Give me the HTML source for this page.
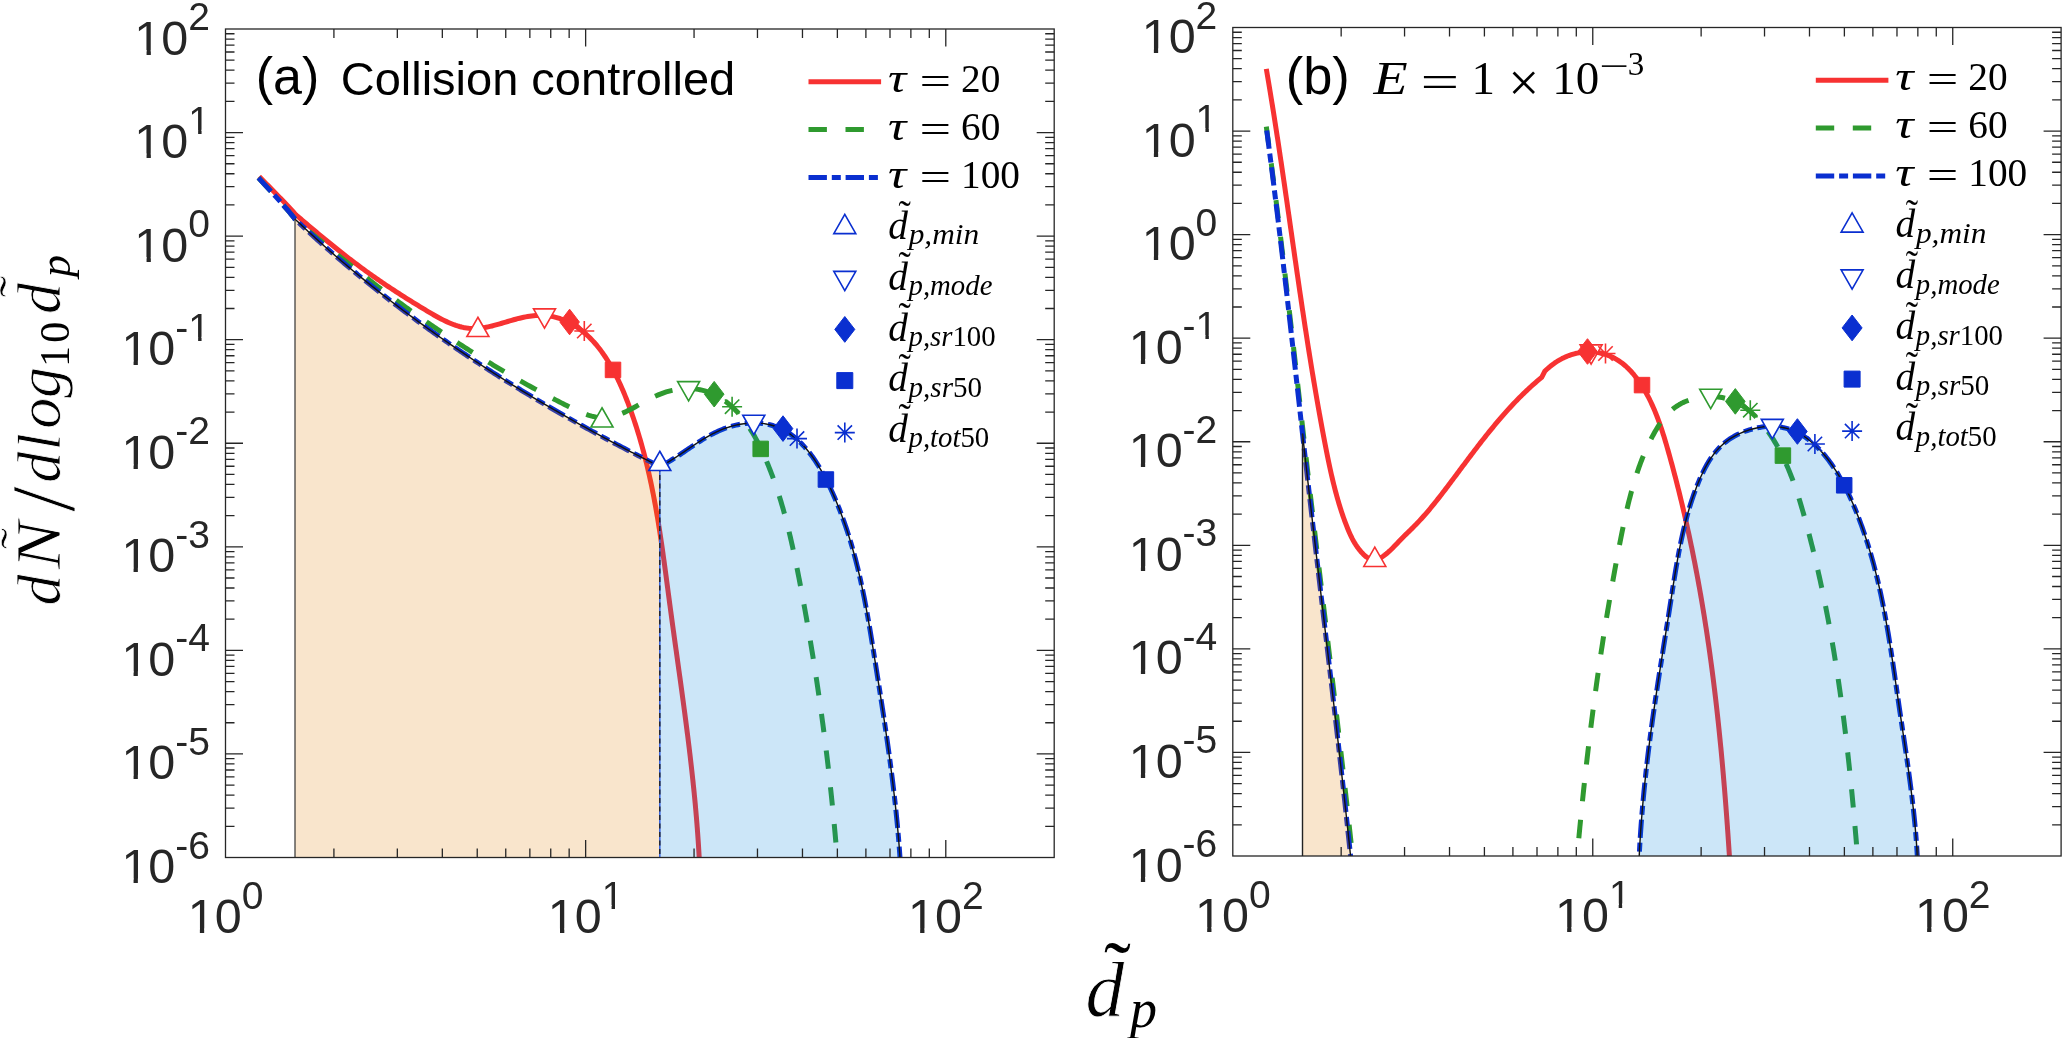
<!DOCTYPE html><html><head><meta charset="utf-8"><title>Particle size distribution</title><style>html,body{margin:0;padding:0;background:#fff;overflow:hidden}svg{display:block;will-change:transform}</style></head><body>
<svg width="2067" height="1038" viewBox="0 0 2067 1038">
<rect width="2067" height="1038" fill="#fff"/>
<defs><clipPath id="ca"><rect x="225.5" y="29" width="828.7" height="828.5"/></clipPath><clipPath id="cb"><rect x="1232.8" y="27.5" width="828.3" height="828.5"/></clipPath></defs>
<g clip-path="url(#ca)">
<path d="M259.2,176.6 L260.64,178.06 L262.09,179.52 L263.53,180.98 L264.98,182.44 L266.42,183.91 L267.87,185.37 L269.31,186.83 L270.75,188.29 L272.19,189.76 L273.62,191.23 L275.06,192.7 L276.49,194.17 L277.92,195.64 L279.35,197.12 L280.77,198.59 L282.2,200.07 L283.62,201.56 L285.03,203.05 L286.44,204.54 L287.85,206.03 L289.25,207.53 L290.65,209.04 L292.05,210.55 L293.44,212.06 L294.82,213.58 L296.2,215.1 L297.74,216.41 L299.28,217.72 L300.83,219.03 L302.37,220.33 L303.91,221.64 L305.46,222.94 L307,224.24 L308.54,225.54 L310.08,226.84 L311.63,228.14 L313.17,229.43 L314.71,230.72 L316.26,232.01 L317.8,233.3 L319.35,234.58 L320.89,235.86 L322.44,237.14 L323.99,238.42 L325.54,239.69 L327.09,240.96 L328.64,242.23 L330.19,243.49 L331.74,244.75 L333.3,246.01 L334.85,247.26 L336.41,248.51 L337.97,249.75 L339.53,250.99 L341.09,252.23 L342.65,253.47 L344.22,254.69 L345.79,255.92 L347.36,257.14 L348.93,258.36 L350.5,259.57 L352.08,260.77 L353.66,261.98 L355.24,263.17 L356.83,264.37 L358.41,265.55 L360,266.73 L361.6,267.91 L363.19,269.08 L364.79,270.25 L366.39,271.41 L367.99,272.56 L369.6,273.71 L371.21,274.85 L372.83,275.99 L374.45,277.13 L376.07,278.26 L377.69,279.39 L379.32,280.51 L380.95,281.63 L382.59,282.74 L384.23,283.86 L385.88,284.96 L387.52,286.07 L389.18,287.17 L390.83,288.26 L392.5,289.36 L394.16,290.45 L395.83,291.54 L397.51,292.62 L399.19,293.7 L400.87,294.78 L402.56,295.86 L404.26,296.94 L405.96,298.01 L407.66,299.08 L409.37,300.15 L411.08,301.22 L412.8,302.29 L414.53,303.35 L416.26,304.42 L418,305.48 L419.74,306.54 L421.49,307.61 L423.24,308.67 L425,309.73 L426.77,310.79 L428.54,311.84 L430.32,312.9 L432.11,313.94 L433.9,314.97 L435.69,315.99 L437.49,316.99 L439.3,317.98 L441.11,318.93 L442.93,319.86 L444.76,320.76 L446.59,321.63 L448.42,322.46 L450.26,323.25 L452.11,324 L453.96,324.71 L455.82,325.36 L457.68,325.96 L459.54,326.51 L461.42,327 L463.29,327.43 L465.17,327.79 L467.06,328.09 L468.95,328.31 L470.85,328.46 L472.75,328.54 L474.65,328.54 L476.56,328.47 L478.48,328.34 L480.4,328.14 L482.32,327.89 L484.25,327.59 L486.18,327.24 L488.12,326.85 L490.06,326.42 L492.01,325.95 L493.96,325.45 L495.91,324.93 L497.87,324.39 L499.83,323.82 L501.79,323.25 L503.76,322.66 L505.74,322.08 L507.71,321.49 L509.69,320.91 L511.68,320.33 L513.67,319.77 L515.66,319.23 L517.65,318.7 L519.65,318.21 L521.65,317.74 L523.65,317.3 L525.65,316.9 L527.64,316.53 L529.64,316.21 L531.62,315.93 L533.61,315.7 L535.59,315.51 L537.56,315.39 L539.52,315.32 L541.48,315.31 L543.42,315.36 L545.36,315.48 L547.28,315.67 L549.19,315.93 L551.08,316.25 L552.96,316.63 L554.82,317.07 L556.67,317.57 L558.49,318.13 L560.3,318.74 L562.09,319.39 L563.85,320.1 L565.59,320.86 L567.31,321.66 L569.01,322.5 L570.67,323.38 L572.32,324.3 L573.93,325.26 L575.53,326.25 L577.09,327.29 L578.64,328.36 L580.16,329.46 L581.65,330.6 L583.13,331.77 L584.57,332.98 L586,334.22 L587.4,335.49 L588.78,336.8 L590.14,338.13 L591.48,339.49 L592.8,340.88 L594.09,342.3 L595.37,343.75 L596.62,345.22 L597.85,346.72 L599.07,348.25 L600.26,349.8 L601.43,351.37 L602.59,352.97 L603.72,354.59 L604.84,356.23 L605.94,357.89 L607.02,359.57 L608.09,361.27 L609.13,362.99 L610.16,364.73 L611.18,366.49 L612.17,368.26 L613.15,370.05 L614.12,371.85 L615.07,373.67 L616,375.5 L616.92,377.34 L617.82,379.2 L618.71,381.07 L619.59,382.95 L620.45,384.84 L621.3,386.73 L622.13,388.64 L622.96,390.55 L623.77,392.48 L624.56,394.4 L625.35,396.34 L626.12,398.28 L626.88,400.22 L627.64,402.17 L628.38,404.12 L629.1,406.07 L629.82,408.02 L630.53,409.97 L631.23,411.93 L631.92,413.88 L632.6,415.83 L633.27,417.79 L633.94,419.74 L634.59,421.7 L635.23,423.65 L635.87,425.6 L636.49,427.56 L637.11,429.51 L637.72,431.47 L638.32,433.43 L638.91,435.38 L639.49,437.34 L640.06,439.29 L640.63,441.25 L641.19,443.21 L641.74,445.16 L642.28,447.12 L642.81,449.08 L643.34,451.03 L643.86,452.99 L644.37,454.95 L644.88,456.9 L645.38,458.86 L645.87,460.82 L646.35,462.78 L646.83,464.74 L647.3,466.7 L647.76,468.65 L648.22,470.61 L648.67,472.57 L649.11,474.53 L649.55,476.49 L649.98,478.45 L650.41,480.41 L650.83,482.37 L651.24,484.33 L651.65,486.29 L652.05,488.25 L652.45,490.21 L652.84,492.17 L653.23,494.13 L653.61,496.1 L653.99,498.06 L654.36,500.02 L654.72,501.98 L655.09,503.94 L655.44,505.91 L655.8,507.87 L656.14,509.83 L656.49,511.8 L656.83,513.76 L657.16,515.72 L657.5,517.69 L657.82,519.65 L658.15,521.61 L658.47,523.58 L658.79,525.54 L659.1,527.51 L659.41,529.47 L659.72,531.44 L660.02,533.4 L660.32,535.37 L660.62,537.33 L660.92,539.3 L661.21,541.27 L661.5,543.23 L661.79,545.2 L662.07,547.17 L662.36,549.13 L662.64,551.1 L662.92,553.07 L663.19,555.03 L663.47,557 L663.74,558.97 L664.01,560.94 L664.28,562.91 L664.55,564.88 L664.82,566.85 L665.09,568.81 L665.35,570.78 L665.62,572.75 L665.88,574.72 L666.14,576.69 L666.4,578.66 L666.67,580.63 L666.93,582.6 L667.19,584.58 L667.45,586.55 L667.71,588.52 L667.97,590.49 L668.23,592.46 L668.49,594.43 L668.75,596.41 L669.01,598.38 L669.28,600.35 L669.54,602.32 L669.8,604.3 L670.07,606.27 L670.33,608.24 L670.6,610.22 L670.86,612.19 L671.13,614.17 L671.4,616.14 L671.67,618.12 L671.94,620.09 L672.21,622.07 L672.48,624.04 L672.75,626.02 L673.02,627.99 L673.29,629.97 L673.57,631.95 L673.84,633.92 L674.11,635.9 L674.39,637.88 L674.66,639.85 L674.94,641.83 L675.21,643.81 L675.49,645.79 L675.76,647.77 L676.04,649.74 L676.32,651.72 L676.59,653.7 L676.87,655.68 L677.14,657.66 L677.42,659.64 L677.7,661.62 L677.97,663.6 L678.25,665.58 L678.52,667.56 L678.8,669.54 L679.07,671.52 L679.35,673.51 L679.62,675.49 L679.9,677.47 L680.17,679.45 L680.45,681.43 L680.72,683.42 L680.99,685.4 L681.26,687.38 L681.54,689.37 L681.81,691.35 L682.08,693.33 L682.35,695.32 L682.62,697.3 L682.89,699.29 L683.16,701.27 L683.42,703.26 L683.69,705.24 L683.96,707.23 L684.22,709.22 L684.49,711.2 L684.75,713.19 L685.01,715.18 L685.27,717.16 L685.53,719.15 L685.79,721.14 L686.05,723.13 L686.31,725.11 L686.56,727.1 L686.82,729.09 L687.07,731.08 L687.33,733.07 L687.58,735.06 L687.83,737.05 L688.08,739.04 L688.32,741.03 L688.57,743.02 L688.81,745.01 L689.06,747 L689.3,748.99 L689.54,750.98 L689.77,752.97 L690.01,754.97 L690.25,756.96 L690.48,758.95 L690.71,760.94 L690.94,762.94 L691.17,764.93 L691.4,766.92 L691.62,768.92 L691.84,770.91 L692.06,772.91 L692.28,774.9 L692.5,776.9 L692.71,778.89 L692.93,780.89 L693.14,782.88 L693.34,784.88 L693.55,786.88 L693.75,788.87 L693.96,790.87 L694.16,792.87 L694.35,794.87 L694.55,796.86 L694.74,798.86 L694.93,800.86 L695.12,802.86 L695.31,804.86 L695.49,806.86 L695.67,808.86 L695.85,810.86 L696.02,812.86 L696.19,814.86 L696.37,816.86 L696.53,818.86 L696.7,820.86 L696.86,822.86 L697.02,824.86 L697.17,826.87 L697.33,828.87 L697.48,830.87 L697.63,832.87 L697.77,834.88 L697.91,836.88 L698.05,838.88 L698.19,840.89 L698.32,842.89 L698.45,844.9 L698.58,846.9 L698.7,848.91 L698.82,850.91 L698.94,852.92 L699.05,854.93 L699.16,856.93 L699.27,858.94 L699.37,860.95 L699.47,862.95 L699.57,864.96 L699.66,866.97 L699.75,868.98 L699.83,870.99 L699.92,872.99 L699.99,875" fill="none" stroke="#F73232" stroke-width="5" stroke-linejoin="round"/>
<path d="M258.5,177.8 L259.87,179.31 L261.24,180.82 L262.62,182.33 L264,183.83 L265.38,185.34 L266.77,186.84 L268.15,188.34 L269.54,189.84 L270.92,191.34 L272.3,192.85 L273.68,194.35 L275.06,195.86 L276.44,197.37 L277.81,198.88 L279.17,200.4 L280.54,201.92 L281.89,203.45 L283.24,204.98 L284.58,206.52 L285.92,208.06 L287.25,209.62 L288.56,211.17 L289.87,212.74 L291.17,214.32 L292.46,215.9 L293.74,217.5 L295,219.1 L296.5,220.41 L297.99,221.7 L299.5,223 L301,224.3 L302.5,225.59 L304.01,226.88 L305.52,228.18 L307.03,229.47 L308.54,230.75 L310.06,232.04 L311.58,233.33 L313.09,234.61 L314.62,235.9 L316.14,237.18 L317.66,238.46 L319.19,239.74 L320.72,241.02 L322.25,242.29 L323.78,243.57 L325.32,244.84 L326.85,246.11 L328.39,247.38 L329.93,248.65 L331.47,249.92 L333.02,251.18 L334.56,252.45 L336.11,253.71 L337.66,254.97 L339.21,256.23 L340.77,257.48 L342.32,258.74 L343.88,259.99 L345.44,261.25 L347,262.5 L348.57,263.74 L350.13,264.99 L351.7,266.24 L353.27,267.48 L354.84,268.72 L356.41,269.96 L357.98,271.2 L359.56,272.43 L361.14,273.67 L362.72,274.9 L364.3,276.13 L365.89,277.36 L367.47,278.59 L369.06,279.81 L370.65,281.03 L372.24,282.25 L373.83,283.47 L375.43,284.69 L377.03,285.9 L378.62,287.12 L380.22,288.33 L381.83,289.54 L383.43,290.74 L385.04,291.95 L386.64,293.15 L388.25,294.35 L389.87,295.55 L391.48,296.74 L393.09,297.94 L394.71,299.13 L396.33,300.32 L397.95,301.5 L399.57,302.69 L401.2,303.87 L402.82,305.05 L404.45,306.23 L406.08,307.41 L407.71,308.58 L409.34,309.75 L410.98,310.92 L412.61,312.09 L414.25,313.25 L415.89,314.41 L417.53,315.57 L419.18,316.73 L420.82,317.88 L422.47,319.04 L424.12,320.19 L425.77,321.33 L427.42,322.48 L429.07,323.62 L430.73,324.76 L432.39,325.9 L434.04,327.03 L435.71,328.16 L437.37,329.29 L439.03,330.42 L440.7,331.54 L442.37,332.67 L444.03,333.78 L445.71,334.9 L447.38,336.01 L449.05,337.13 L450.73,338.23 L452.41,339.34 L454.09,340.44 L455.77,341.54 L457.45,342.64 L459.13,343.73 L460.82,344.83 L462.51,345.92 L464.2,347 L465.89,348.08 L467.58,349.17 L469.27,350.24 L470.97,351.32 L472.67,352.39 L474.37,353.46 L476.07,354.52 L477.77,355.59 L479.47,356.65 L481.18,357.7 L482.89,358.76 L484.6,359.81 L486.31,360.86 L488.02,361.9 L489.73,362.95 L491.45,363.98 L493.17,365.02 L494.88,366.05 L496.6,367.08 L498.33,368.11 L500.05,369.13 L501.78,370.15 L503.5,371.17 L505.23,372.18 L506.96,373.19 L508.69,374.2 L510.42,375.21 L512.16,376.21 L513.89,377.21 L515.63,378.2 L517.37,379.19 L519.11,380.18 L520.85,381.16 L522.6,382.14 L524.34,383.12 L526.09,384.1 L527.84,385.07 L529.59,386.04 L531.34,387 L533.09,387.96 L534.85,388.92 L536.6,389.87 L538.36,390.82 L540.12,391.77 L541.88,392.71 L543.64,393.65 L545.41,394.59 L547.17,395.52 L548.94,396.45 L550.71,397.38 L552.48,398.3 L554.25,399.22 L556.02,400.13 L557.79,401.05 L559.57,401.95 L561.35,402.86 L563.12,403.76 L564.9,404.65 L566.68,405.55 L568.47,406.44 L570.25,407.32 L572.04,408.2 L573.82,409.07 L575.61,409.92 L577.4,410.75 L579.19,411.56 L580.99,412.33 L582.78,413.07 L584.58,413.78 L586.37,414.44 L588.17,415.05 L589.97,415.6 L591.77,416.1 L593.58,416.54 L595.38,416.91 L597.19,417.21 L598.99,417.43 L600.8,417.57 L602.61,417.62 L604.42,417.59 L606.23,417.48 L608.05,417.29 L609.86,417.01 L611.68,416.67 L613.5,416.25 L615.32,415.76 L617.14,415.2 L618.96,414.58 L620.78,413.9 L622.61,413.15 L624.43,412.35 L626.26,411.51 L628.09,410.61 L629.92,409.68 L631.76,408.72 L633.61,407.72 L635.45,406.71 L637.31,405.68 L639.17,404.64 L641.04,403.59 L642.92,402.54 L644.8,401.5 L646.7,400.47 L648.6,399.46 L650.51,398.47 L652.44,397.51 L654.38,396.59 L656.33,395.7 L658.29,394.86 L660.27,394.06 L662.25,393.32 L664.24,392.62 L666.24,391.97 L668.25,391.37 L670.26,390.82 L672.27,390.33 L674.29,389.89 L676.3,389.51 L678.32,389.19 L680.33,388.92 L682.34,388.72 L684.34,388.58 L686.33,388.5 L688.32,388.48 L690.3,388.53 L692.27,388.65 L694.22,388.83 L696.16,389.07 L698.09,389.38 L699.99,389.75 L701.88,390.17 L703.76,390.66 L705.61,391.2 L707.43,391.79 L709.24,392.44 L711.02,393.14 L712.77,393.89 L714.5,394.69 L716.19,395.54 L717.86,396.43 L719.5,397.37 L721.11,398.35 L722.7,399.38 L724.25,400.45 L725.78,401.56 L727.28,402.71 L728.76,403.9 L730.21,405.13 L731.64,406.39 L733.04,407.69 L734.42,409.03 L735.77,410.4 L737.1,411.8 L738.4,413.24 L739.68,414.7 L740.94,416.2 L742.18,417.72 L743.39,419.28 L744.58,420.85 L745.76,422.46 L746.91,424.09 L748.04,425.74 L749.15,427.41 L750.24,429.11 L751.31,430.83 L752.36,432.56 L753.4,434.32 L754.41,436.09 L755.41,437.88 L756.39,439.68 L757.35,441.5 L758.3,443.33 L759.23,445.17 L760.14,447.02 L761.04,448.89 L761.93,450.76 L762.8,452.64 L763.65,454.52 L764.49,456.42 L765.32,458.31 L766.13,460.21 L766.93,462.12 L767.72,464.02 L768.49,465.93 L769.26,467.83 L770.01,469.74 L770.75,471.65 L771.48,473.56 L772.2,475.46 L772.9,477.37 L773.6,479.28 L774.28,481.19 L774.96,483.11 L775.62,485.02 L776.28,486.93 L776.92,488.84 L777.55,490.76 L778.18,492.67 L778.79,494.59 L779.4,496.5 L780,498.42 L780.58,500.34 L781.16,502.25 L781.73,504.17 L782.29,506.09 L782.85,508.01 L783.39,509.93 L783.93,511.85 L784.46,513.77 L784.99,515.7 L785.5,517.62 L786.01,519.54 L786.51,521.47 L787.01,523.4 L787.5,525.32 L787.98,527.25 L788.45,529.18 L788.92,531.11 L789.39,533.04 L789.85,534.97 L790.3,536.9 L790.75,538.83 L791.19,540.76 L791.63,542.69 L792.06,544.63 L792.49,546.56 L792.92,548.5 L793.34,550.44 L793.75,552.37 L794.17,554.31 L794.58,556.25 L794.98,558.19 L795.38,560.13 L795.78,562.07 L796.18,564.02 L796.57,565.96 L796.96,567.9 L797.35,569.85 L797.74,571.79 L798.12,573.74 L798.51,575.69 L798.89,577.64 L799.27,579.59 L799.64,581.54 L800.02,583.49 L800.4,585.44 L800.77,587.39 L801.14,589.35 L801.51,591.3 L801.88,593.26 L802.25,595.21 L802.61,597.17 L802.98,599.13 L803.34,601.09 L803.7,603.05 L804.06,605.01 L804.42,606.97 L804.77,608.93 L805.13,610.89 L805.48,612.86 L805.83,614.82 L806.18,616.78 L806.53,618.75 L806.88,620.72 L807.23,622.68 L807.57,624.65 L807.91,626.62 L808.25,628.59 L808.59,630.56 L808.93,632.53 L809.27,634.5 L809.6,636.47 L809.93,638.44 L810.27,640.41 L810.6,642.39 L810.92,644.36 L811.25,646.33 L811.58,648.31 L811.9,650.28 L812.22,652.26 L812.54,654.24 L812.86,656.21 L813.18,658.19 L813.5,660.17 L813.81,662.15 L814.12,664.13 L814.43,666.11 L814.74,668.09 L815.05,670.07 L815.36,672.05 L815.66,674.03 L815.97,676.01 L816.27,678 L816.57,679.98 L816.87,681.96 L817.17,683.95 L817.46,685.93 L817.76,687.91 L818.05,689.9 L818.34,691.88 L818.63,693.87 L818.92,695.86 L819.21,697.84 L819.49,699.83 L819.77,701.82 L820.06,703.8 L820.34,705.79 L820.62,707.78 L820.89,709.77 L821.17,711.76 L821.44,713.75 L821.72,715.74 L821.99,717.73 L822.26,719.72 L822.52,721.71 L822.79,723.7 L823.06,725.69 L823.32,727.68 L823.58,729.67 L823.84,731.66 L824.1,733.65 L824.36,735.64 L824.61,737.63 L824.87,739.63 L825.12,741.62 L825.37,743.61 L825.62,745.6 L825.87,747.59 L826.11,749.59 L826.36,751.58 L826.6,753.57 L826.84,755.57 L827.08,757.56 L827.32,759.55 L827.56,761.55 L827.79,763.54 L828.03,765.53 L828.26,767.53 L828.49,769.52 L828.72,771.51 L828.95,773.51 L829.17,775.5 L829.4,777.49 L829.62,779.49 L829.84,781.48 L830.06,783.47 L830.28,785.47 L830.5,787.46 L830.71,789.45 L830.93,791.45 L831.14,793.44 L831.35,795.43 L831.56,797.43 L831.77,799.42 L831.97,801.41 L832.18,803.41 L832.38,805.4 L832.58,807.39 L832.78,809.38 L832.98,811.37 L833.17,813.37 L833.37,815.36 L833.56,817.35 L833.76,819.34 L833.95,821.33 L834.13,823.32 L834.32,825.32 L834.51,827.31 L834.69,829.3 L834.87,831.29 L835.06,833.28 L835.23,835.27 L835.41,837.26 L835.59,839.25 L835.76,841.24 L835.94,843.22 L836.11,845.21 L836.28,847.2 L836.45,849.19 L836.61,851.18 L836.78,853.16 L836.94,855.15 L837.11,857.14 L837.27,859.12 L837.43,861.11 L837.58,863.09 L837.74,865.08 L837.9,867.06 L838.05,869.05 L838.2,871.03 L838.35,873.01 L838.5,875" fill="none" stroke="#2F9A2F" stroke-width="5" stroke-dasharray="18.4 18.6" stroke-linejoin="round"/>
<path d="M258.5,177.8 L259.87,179.31 L261.24,180.82 L262.62,182.33 L264,183.83 L265.38,185.34 L266.77,186.84 L268.15,188.34 L269.54,189.84 L270.92,191.34 L272.3,192.85 L273.68,194.35 L275.06,195.86 L276.44,197.37 L277.81,198.88 L279.17,200.4 L280.54,201.92 L281.89,203.45 L283.24,204.98 L284.58,206.52 L285.92,208.06 L287.25,209.62 L288.56,211.17 L289.87,212.74 L291.17,214.32 L292.46,215.9 L293.74,217.5 L295,219.1 L296.46,220.48 L297.91,221.85 L299.37,223.23 L300.83,224.6 L302.29,225.97 L303.76,227.34 L305.23,228.7 L306.7,230.06 L308.17,231.42 L309.64,232.78 L311.12,234.13 L312.6,235.48 L314.08,236.83 L315.56,238.18 L317.05,239.52 L318.53,240.86 L320.02,242.2 L321.52,243.53 L323.01,244.87 L324.51,246.2 L326.01,247.52 L327.51,248.85 L329.01,250.17 L330.52,251.49 L332.02,252.81 L333.53,254.12 L335.04,255.43 L336.56,256.74 L338.07,258.05 L339.59,259.36 L341.11,260.66 L342.64,261.96 L344.16,263.25 L345.69,264.55 L347.22,265.84 L348.75,267.13 L350.28,268.41 L351.81,269.7 L353.35,270.98 L354.89,272.26 L356.43,273.54 L357.97,274.81 L359.52,276.08 L361.07,277.35 L362.62,278.62 L364.17,279.88 L365.72,281.14 L367.27,282.4 L368.83,283.66 L370.39,284.91 L371.95,286.17 L373.51,287.41 L375.08,288.66 L376.65,289.91 L378.22,291.15 L379.79,292.39 L381.36,293.62 L382.93,294.86 L384.51,296.09 L386.09,297.32 L387.67,298.55 L389.25,299.77 L390.84,301 L392.42,302.22 L394.01,303.43 L395.6,304.65 L397.19,305.86 L398.78,307.07 L400.38,308.28 L401.98,309.49 L403.58,310.69 L405.18,311.89 L406.78,313.09 L408.38,314.28 L409.99,315.48 L411.6,316.67 L413.21,317.86 L414.82,319.05 L416.43,320.23 L418.05,321.41 L419.66,322.59 L421.28,323.77 L422.9,324.94 L424.52,326.12 L426.15,327.29 L427.77,328.45 L429.4,329.62 L431.03,330.78 L432.66,331.94 L434.29,333.1 L435.92,334.26 L437.56,335.41 L439.2,336.57 L440.83,337.72 L442.48,338.86 L444.12,340.01 L445.76,341.15 L447.41,342.29 L449.05,343.43 L450.7,344.56 L452.35,345.7 L454,346.83 L455.66,347.96 L457.31,349.09 L458.97,350.21 L460.63,351.33 L462.29,352.45 L463.95,353.57 L465.61,354.69 L467.27,355.8 L468.94,356.91 L470.61,358.02 L472.27,359.13 L473.94,360.23 L475.62,361.33 L477.29,362.43 L478.96,363.53 L480.64,364.63 L482.32,365.72 L484,366.81 L485.68,367.9 L487.36,368.99 L489.04,370.07 L490.73,371.16 L492.41,372.24 L494.1,373.32 L495.79,374.39 L497.48,375.47 L499.17,376.54 L500.87,377.61 L502.56,378.68 L504.26,379.74 L505.95,380.8 L507.65,381.87 L509.35,382.92 L511.05,383.98 L512.76,385.04 L514.46,386.09 L516.17,387.14 L517.87,388.19 L519.58,389.23 L521.29,390.28 L523,391.32 L524.71,392.36 L526.43,393.4 L528.14,394.44 L529.86,395.47 L531.57,396.5 L533.29,397.53 L535.01,398.56 L536.73,399.58 L538.45,400.61 L540.18,401.63 L541.9,402.65 L543.63,403.67 L545.35,404.68 L547.08,405.7 L548.81,406.71 L550.54,407.72 L552.27,408.72 L554,409.73 L555.74,410.73 L557.47,411.73 L559.21,412.73 L560.95,413.73 L562.68,414.73 L564.42,415.72 L566.16,416.71 L567.91,417.7 L569.65,418.69 L571.39,419.67 L573.14,420.66 L574.88,421.64 L576.63,422.62 L578.38,423.59 L580.13,424.57 L581.88,425.54 L583.63,426.51 L585.38,427.48 L587.13,428.45 L588.89,429.42 L590.64,430.38 L592.4,431.34 L594.16,432.3 L595.91,433.26 L597.67,434.22 L599.43,435.17 L601.19,436.12 L602.96,437.08 L604.72,438.02 L606.48,438.97 L608.25,439.92 L610.01,440.86 L611.78,441.8 L613.55,442.74 L615.31,443.68 L617.08,444.61 L618.85,445.54 L620.63,446.48 L622.4,447.41 L624.17,448.33 L625.94,449.26 L627.72,450.18 L629.49,451.11 L631.27,452.03 L633.05,452.95 L634.82,453.86 L636.6,454.78 L638.38,455.69 L640.16,456.6 L641.94,457.51 L643.73,458.42 L645.51,459.33 L647.29,460.23 L649.08,461.13 L650.86,462.03 L652.65,462.93 L654.43,463.83 L656.22,464.72 L658.01,465.62 L659.8,466.51 L661.57,465.63 L663.32,464.72 L665.06,463.77 L666.79,462.8 L668.51,461.81 L670.22,460.79 L671.93,459.75 L673.62,458.69 L675.32,457.62 L677,456.53 L678.69,455.43 L680.37,454.31 L682.05,453.19 L683.72,452.06 L685.4,450.93 L687.08,449.79 L688.76,448.65 L690.44,447.51 L692.13,446.38 L693.82,445.25 L695.51,444.12 L697.21,443.01 L698.92,441.91 L700.64,440.81 L702.37,439.74 L704.1,438.68 L705.85,437.64 L707.61,436.62 L709.38,435.62 L711.17,434.65 L712.97,433.7 L714.78,432.78 L716.61,431.9 L718.46,431.04 L720.33,430.22 L722.22,429.44 L724.12,428.7 L726.05,427.99 L728,427.33 L729.97,426.71 L731.96,426.14 L733.96,425.61 L735.98,425.13 L738.01,424.69 L740.05,424.31 L742.09,423.97 L744.13,423.68 L746.18,423.44 L748.22,423.25 L750.26,423.11 L752.29,423.03 L754.31,422.99 L756.31,423.02 L758.31,423.09 L760.28,423.23 L762.23,423.42 L764.17,423.66 L766.07,423.97 L767.95,424.33 L769.8,424.75 L771.62,425.23 L773.42,425.76 L775.19,426.35 L776.93,426.99 L778.65,427.68 L780.34,428.42 L782,429.22 L783.64,430.06 L785.25,430.95 L786.84,431.89 L788.4,432.87 L789.94,433.9 L791.46,434.97 L792.95,436.08 L794.42,437.24 L795.86,438.43 L797.28,439.67 L798.68,440.94 L800.06,442.25 L801.42,443.59 L802.75,444.97 L804.06,446.38 L805.36,447.82 L806.63,449.3 L807.88,450.8 L809.11,452.34 L810.32,453.9 L811.51,455.49 L812.69,457.1 L813.84,458.74 L814.98,460.41 L816.09,462.09 L817.19,463.8 L818.28,465.52 L819.34,467.27 L820.39,469.03 L821.42,470.81 L822.44,472.61 L823.43,474.42 L824.42,476.24 L825.39,478.08 L826.34,479.92 L827.28,481.78 L828.2,483.65 L829.11,485.52 L830.01,487.4 L830.89,489.29 L831.76,491.18 L832.61,493.08 L833.45,494.97 L834.29,496.87 L835.1,498.77 L835.91,500.67 L836.7,502.58 L837.49,504.48 L838.26,506.38 L839.02,508.29 L839.77,510.2 L840.5,512.11 L841.23,514.01 L841.94,515.93 L842.65,517.84 L843.34,519.75 L844.03,521.66 L844.7,523.58 L845.36,525.5 L846.01,527.41 L846.66,529.33 L847.29,531.25 L847.91,533.17 L848.53,535.09 L849.13,537.02 L849.73,538.94 L850.32,540.86 L850.89,542.79 L851.46,544.72 L852.02,546.65 L852.58,548.58 L853.12,550.51 L853.66,552.44 L854.18,554.37 L854.7,556.3 L855.22,558.24 L855.72,560.17 L856.22,562.11 L856.71,564.04 L857.19,565.98 L857.67,567.92 L858.14,569.86 L858.6,571.8 L859.06,573.74 L859.51,575.69 L859.95,577.63 L860.39,579.57 L860.82,581.52 L861.24,583.47 L861.66,585.41 L862.08,587.36 L862.49,589.31 L862.89,591.26 L863.29,593.21 L863.68,595.16 L864.07,597.11 L864.46,599.07 L864.84,601.02 L865.21,602.98 L865.58,604.93 L865.95,606.89 L866.31,608.84 L866.67,610.8 L867.03,612.76 L867.38,614.72 L867.73,616.68 L868.08,618.64 L868.42,620.6 L868.76,622.56 L869.1,624.53 L869.43,626.49 L869.77,628.46 L870.1,630.42 L870.43,632.39 L870.75,634.35 L871.08,636.32 L871.4,638.29 L871.72,640.26 L872.04,642.23 L872.36,644.2 L872.67,646.17 L872.99,648.14 L873.3,650.11 L873.62,652.08 L873.93,654.06 L874.25,656.03 L874.56,658 L874.87,659.98 L875.19,661.95 L875.5,663.93 L875.81,665.91 L876.12,667.88 L876.44,669.86 L876.75,671.84 L877.06,673.82 L877.37,675.8 L877.69,677.78 L878,679.76 L878.31,681.74 L878.62,683.72 L878.93,685.7 L879.24,687.68 L879.55,689.66 L879.86,691.65 L880.17,693.63 L880.47,695.61 L880.78,697.6 L881.09,699.58 L881.39,701.57 L881.7,703.55 L882,705.54 L882.3,707.53 L882.61,709.51 L882.91,711.5 L883.21,713.49 L883.51,715.48 L883.81,717.46 L884.1,719.45 L884.4,721.44 L884.69,723.43 L884.99,725.42 L885.28,727.41 L885.57,729.4 L885.86,731.39 L886.15,733.38 L886.44,735.37 L886.72,737.36 L887.01,739.36 L887.29,741.35 L887.57,743.34 L887.85,745.33 L888.13,747.33 L888.41,749.32 L888.69,751.31 L888.96,753.3 L889.23,755.3 L889.5,757.29 L889.77,759.29 L890.04,761.28 L890.3,763.27 L890.56,765.27 L890.82,767.26 L891.08,769.26 L891.34,771.25 L891.59,773.25 L891.85,775.24 L892.1,777.24 L892.35,779.23 L892.59,781.23 L892.84,783.23 L893.08,785.22 L893.32,787.22 L893.55,789.21 L893.79,791.21 L894.02,793.21 L894.25,795.2 L894.48,797.2 L894.7,799.19 L894.92,801.19 L895.14,803.19 L895.36,805.18 L895.58,807.18 L895.79,809.17 L896,811.17 L896.2,813.17 L896.4,815.16 L896.6,817.16 L896.8,819.16 L897,821.15 L897.19,823.15 L897.38,825.14 L897.56,827.14 L897.74,829.14 L897.92,831.13 L898.1,833.13 L898.27,835.12 L898.44,837.12 L898.61,839.11 L898.77,841.11 L898.93,843.1 L899.09,845.1 L899.24,847.09 L899.39,849.09 L899.53,851.08 L899.68,853.08 L899.82,855.07 L899.95,857.06 L900.08,859.06 L900.21,861.05 L900.33,863.04 L900.45,865.04 L900.57,867.03 L900.68,869.02 L900.79,871.01 L900.9,873.01 L901,875" fill="none" stroke="#0A2FD0" stroke-width="5" stroke-dasharray="18.4 4.9 9 4.8" stroke-linejoin="round"/>
<path d="M295,219.1 L295,219.1 L296.46,220.48 L297.91,221.85 L299.37,223.23 L300.83,224.6 L302.29,225.97 L303.76,227.34 L305.23,228.7 L306.7,230.06 L308.17,231.42 L309.64,232.78 L311.12,234.13 L312.6,235.48 L314.08,236.83 L315.56,238.18 L317.05,239.52 L318.53,240.86 L320.02,242.2 L321.52,243.53 L323.01,244.87 L324.51,246.2 L326.01,247.52 L327.51,248.85 L329.01,250.17 L330.52,251.49 L332.02,252.81 L333.53,254.12 L335.04,255.43 L336.56,256.74 L338.07,258.05 L339.59,259.36 L341.11,260.66 L342.64,261.96 L344.16,263.25 L345.69,264.55 L347.22,265.84 L348.75,267.13 L350.28,268.41 L351.81,269.7 L353.35,270.98 L354.89,272.26 L356.43,273.54 L357.97,274.81 L359.52,276.08 L361.07,277.35 L362.62,278.62 L364.17,279.88 L365.72,281.14 L367.27,282.4 L368.83,283.66 L370.39,284.91 L371.95,286.17 L373.51,287.41 L375.08,288.66 L376.65,289.91 L378.22,291.15 L379.79,292.39 L381.36,293.62 L382.93,294.86 L384.51,296.09 L386.09,297.32 L387.67,298.55 L389.25,299.77 L390.84,301 L392.42,302.22 L394.01,303.43 L395.6,304.65 L397.19,305.86 L398.78,307.07 L400.38,308.28 L401.98,309.49 L403.58,310.69 L405.18,311.89 L406.78,313.09 L408.38,314.28 L409.99,315.48 L411.6,316.67 L413.21,317.86 L414.82,319.05 L416.43,320.23 L418.05,321.41 L419.66,322.59 L421.28,323.77 L422.9,324.94 L424.52,326.12 L426.15,327.29 L427.77,328.45 L429.4,329.62 L431.03,330.78 L432.66,331.94 L434.29,333.1 L435.92,334.26 L437.56,335.41 L439.2,336.57 L440.83,337.72 L442.48,338.86 L444.12,340.01 L445.76,341.15 L447.41,342.29 L449.05,343.43 L450.7,344.56 L452.35,345.7 L454,346.83 L455.66,347.96 L457.31,349.09 L458.97,350.21 L460.63,351.33 L462.29,352.45 L463.95,353.57 L465.61,354.69 L467.27,355.8 L468.94,356.91 L470.61,358.02 L472.27,359.13 L473.94,360.23 L475.62,361.33 L477.29,362.43 L478.96,363.53 L480.64,364.63 L482.32,365.72 L484,366.81 L485.68,367.9 L487.36,368.99 L489.04,370.07 L490.73,371.16 L492.41,372.24 L494.1,373.32 L495.79,374.39 L497.48,375.47 L499.17,376.54 L500.87,377.61 L502.56,378.68 L504.26,379.74 L505.95,380.8 L507.65,381.87 L509.35,382.92 L511.05,383.98 L512.76,385.04 L514.46,386.09 L516.17,387.14 L517.87,388.19 L519.58,389.23 L521.29,390.28 L523,391.32 L524.71,392.36 L526.43,393.4 L528.14,394.44 L529.86,395.47 L531.57,396.5 L533.29,397.53 L535.01,398.56 L536.73,399.58 L538.45,400.61 L540.18,401.63 L541.9,402.65 L543.63,403.67 L545.35,404.68 L547.08,405.7 L548.81,406.71 L550.54,407.72 L552.27,408.72 L554,409.73 L555.74,410.73 L557.47,411.73 L559.21,412.73 L560.95,413.73 L562.68,414.73 L564.42,415.72 L566.16,416.71 L567.91,417.7 L569.65,418.69 L571.39,419.67 L573.14,420.66 L574.88,421.64 L576.63,422.62 L578.38,423.59 L580.13,424.57 L581.88,425.54 L583.63,426.51 L585.38,427.48 L587.13,428.45 L588.89,429.42 L590.64,430.38 L592.4,431.34 L594.16,432.3 L595.91,433.26 L597.67,434.22 L599.43,435.17 L601.19,436.12 L602.96,437.08 L604.72,438.02 L606.48,438.97 L608.25,439.92 L610.01,440.86 L611.78,441.8 L613.55,442.74 L615.31,443.68 L617.08,444.61 L618.85,445.54 L620.63,446.48 L622.4,447.41 L624.17,448.33 L625.94,449.26 L627.72,450.18 L629.49,451.11 L631.27,452.03 L633.05,452.95 L634.82,453.86 L636.6,454.78 L638.38,455.69 L640.16,456.6 L641.94,457.51 L643.73,458.42 L645.51,459.33 L647.29,460.23 L649.08,461.13 L650.86,462.03 L652.65,462.93 L654.43,463.83 L656.22,464.72 L658.01,465.62 L659.8,466.51 L659.8,466.51 L659.8,867.5 L295,867.5 Z" fill="rgb(225,125,0)" fill-opacity="0.2"/>
<path d="M659.8,466.51 L661.57,465.63 L663.32,464.72 L665.06,463.77 L666.79,462.8 L668.51,461.81 L670.22,460.79 L671.93,459.75 L673.62,458.69 L675.32,457.62 L677,456.53 L678.69,455.43 L680.37,454.31 L682.05,453.19 L683.72,452.06 L685.4,450.93 L687.08,449.79 L688.76,448.65 L690.44,447.51 L692.13,446.38 L693.82,445.25 L695.51,444.12 L697.21,443.01 L698.92,441.91 L700.64,440.81 L702.37,439.74 L704.1,438.68 L705.85,437.64 L707.61,436.62 L709.38,435.62 L711.17,434.65 L712.97,433.7 L714.78,432.78 L716.61,431.9 L718.46,431.04 L720.33,430.22 L722.22,429.44 L724.12,428.7 L726.05,427.99 L728,427.33 L729.97,426.71 L731.96,426.14 L733.96,425.61 L735.98,425.13 L738.01,424.69 L740.05,424.31 L742.09,423.97 L744.13,423.68 L746.18,423.44 L748.22,423.25 L750.26,423.11 L752.29,423.03 L754.31,422.99 L756.31,423.02 L758.31,423.09 L760.28,423.23 L762.23,423.42 L764.17,423.66 L766.07,423.97 L767.95,424.33 L769.8,424.75 L771.62,425.23 L773.42,425.76 L775.19,426.35 L776.93,426.99 L778.65,427.68 L780.34,428.42 L782,429.22 L783.64,430.06 L785.25,430.95 L786.84,431.89 L788.4,432.87 L789.94,433.9 L791.46,434.97 L792.95,436.08 L794.42,437.24 L795.86,438.43 L797.28,439.67 L798.68,440.94 L800.06,442.25 L801.42,443.59 L802.75,444.97 L804.06,446.38 L805.36,447.82 L806.63,449.3 L807.88,450.8 L809.11,452.34 L810.32,453.9 L811.51,455.49 L812.69,457.1 L813.84,458.74 L814.98,460.41 L816.09,462.09 L817.19,463.8 L818.28,465.52 L819.34,467.27 L820.39,469.03 L821.42,470.81 L822.44,472.61 L823.43,474.42 L824.42,476.24 L825.39,478.08 L826.34,479.92 L827.28,481.78 L828.2,483.65 L829.11,485.52 L830.01,487.4 L830.89,489.29 L831.76,491.18 L832.61,493.08 L833.45,494.97 L834.29,496.87 L835.1,498.77 L835.91,500.67 L836.7,502.58 L837.49,504.48 L838.26,506.38 L839.02,508.29 L839.77,510.2 L840.5,512.11 L841.23,514.01 L841.94,515.93 L842.65,517.84 L843.34,519.75 L844.03,521.66 L844.7,523.58 L845.36,525.5 L846.01,527.41 L846.66,529.33 L847.29,531.25 L847.91,533.17 L848.53,535.09 L849.13,537.02 L849.73,538.94 L850.32,540.86 L850.89,542.79 L851.46,544.72 L852.02,546.65 L852.58,548.58 L853.12,550.51 L853.66,552.44 L854.18,554.37 L854.7,556.3 L855.22,558.24 L855.72,560.17 L856.22,562.11 L856.71,564.04 L857.19,565.98 L857.67,567.92 L858.14,569.86 L858.6,571.8 L859.06,573.74 L859.51,575.69 L859.95,577.63 L860.39,579.57 L860.82,581.52 L861.24,583.47 L861.66,585.41 L862.08,587.36 L862.49,589.31 L862.89,591.26 L863.29,593.21 L863.68,595.16 L864.07,597.11 L864.46,599.07 L864.84,601.02 L865.21,602.98 L865.58,604.93 L865.95,606.89 L866.31,608.84 L866.67,610.8 L867.03,612.76 L867.38,614.72 L867.73,616.68 L868.08,618.64 L868.42,620.6 L868.76,622.56 L869.1,624.53 L869.43,626.49 L869.77,628.46 L870.1,630.42 L870.43,632.39 L870.75,634.35 L871.08,636.32 L871.4,638.29 L871.72,640.26 L872.04,642.23 L872.36,644.2 L872.67,646.17 L872.99,648.14 L873.3,650.11 L873.62,652.08 L873.93,654.06 L874.25,656.03 L874.56,658 L874.87,659.98 L875.19,661.95 L875.5,663.93 L875.81,665.91 L876.12,667.88 L876.44,669.86 L876.75,671.84 L877.06,673.82 L877.37,675.8 L877.69,677.78 L878,679.76 L878.31,681.74 L878.62,683.72 L878.93,685.7 L879.24,687.68 L879.55,689.66 L879.86,691.65 L880.17,693.63 L880.47,695.61 L880.78,697.6 L881.09,699.58 L881.39,701.57 L881.7,703.55 L882,705.54 L882.3,707.53 L882.61,709.51 L882.91,711.5 L883.21,713.49 L883.51,715.48 L883.81,717.46 L884.1,719.45 L884.4,721.44 L884.69,723.43 L884.99,725.42 L885.28,727.41 L885.57,729.4 L885.86,731.39 L886.15,733.38 L886.44,735.37 L886.72,737.36 L887.01,739.36 L887.29,741.35 L887.57,743.34 L887.85,745.33 L888.13,747.33 L888.41,749.32 L888.69,751.31 L888.96,753.3 L889.23,755.3 L889.5,757.29 L889.77,759.29 L890.04,761.28 L890.3,763.27 L890.56,765.27 L890.82,767.26 L891.08,769.26 L891.34,771.25 L891.59,773.25 L891.85,775.24 L892.1,777.24 L892.35,779.23 L892.59,781.23 L892.84,783.23 L893.08,785.22 L893.32,787.22 L893.55,789.21 L893.79,791.21 L894.02,793.21 L894.25,795.2 L894.48,797.2 L894.7,799.19 L894.92,801.19 L895.14,803.19 L895.36,805.18 L895.58,807.18 L895.79,809.17 L896,811.17 L896.2,813.17 L896.4,815.16 L896.6,817.16 L896.8,819.16 L897,821.15 L897.19,823.15 L897.38,825.14 L897.56,827.14 L897.74,829.14 L897.92,831.13 L898.1,833.13 L898.27,835.12 L898.44,837.12 L898.61,839.11 L898.77,841.11 L898.93,843.1 L899.09,845.1 L899.24,847.09 L899.39,849.09 L899.53,851.08 L899.68,853.08 L899.82,855.07 L899.95,857.06 L900.08,859.06 L900.21,861.05 L900.33,863.04 L900.45,865.04 L900.57,867.03 L900.68,869.02 L900.79,871.01 L900.9,873.01 L901,875 L901,867.5 L659.8,867.5 Z" fill="rgb(0,128,218)" fill-opacity="0.2"/>
<path d="M295,219.1 L295,219.1 L296.46,220.48 L297.91,221.85 L299.37,223.23 L300.83,224.6 L302.29,225.97 L303.76,227.34 L305.23,228.7 L306.7,230.06 L308.17,231.42 L309.64,232.78 L311.12,234.13 L312.6,235.48 L314.08,236.83 L315.56,238.18 L317.05,239.52 L318.53,240.86 L320.02,242.2 L321.52,243.53 L323.01,244.87 L324.51,246.2 L326.01,247.52 L327.51,248.85 L329.01,250.17 L330.52,251.49 L332.02,252.81 L333.53,254.12 L335.04,255.43 L336.56,256.74 L338.07,258.05 L339.59,259.36 L341.11,260.66 L342.64,261.96 L344.16,263.25 L345.69,264.55 L347.22,265.84 L348.75,267.13 L350.28,268.41 L351.81,269.7 L353.35,270.98 L354.89,272.26 L356.43,273.54 L357.97,274.81 L359.52,276.08 L361.07,277.35 L362.62,278.62 L364.17,279.88 L365.72,281.14 L367.27,282.4 L368.83,283.66 L370.39,284.91 L371.95,286.17 L373.51,287.41 L375.08,288.66 L376.65,289.91 L378.22,291.15 L379.79,292.39 L381.36,293.62 L382.93,294.86 L384.51,296.09 L386.09,297.32 L387.67,298.55 L389.25,299.77 L390.84,301 L392.42,302.22 L394.01,303.43 L395.6,304.65 L397.19,305.86 L398.78,307.07 L400.38,308.28 L401.98,309.49 L403.58,310.69 L405.18,311.89 L406.78,313.09 L408.38,314.28 L409.99,315.48 L411.6,316.67 L413.21,317.86 L414.82,319.05 L416.43,320.23 L418.05,321.41 L419.66,322.59 L421.28,323.77 L422.9,324.94 L424.52,326.12 L426.15,327.29 L427.77,328.45 L429.4,329.62 L431.03,330.78 L432.66,331.94 L434.29,333.1 L435.92,334.26 L437.56,335.41 L439.2,336.57 L440.83,337.72 L442.48,338.86 L444.12,340.01 L445.76,341.15 L447.41,342.29 L449.05,343.43 L450.7,344.56 L452.35,345.7 L454,346.83 L455.66,347.96 L457.31,349.09 L458.97,350.21 L460.63,351.33 L462.29,352.45 L463.95,353.57 L465.61,354.69 L467.27,355.8 L468.94,356.91 L470.61,358.02 L472.27,359.13 L473.94,360.23 L475.62,361.33 L477.29,362.43 L478.96,363.53 L480.64,364.63 L482.32,365.72 L484,366.81 L485.68,367.9 L487.36,368.99 L489.04,370.07 L490.73,371.16 L492.41,372.24 L494.1,373.32 L495.79,374.39 L497.48,375.47 L499.17,376.54 L500.87,377.61 L502.56,378.68 L504.26,379.74 L505.95,380.8 L507.65,381.87 L509.35,382.92 L511.05,383.98 L512.76,385.04 L514.46,386.09 L516.17,387.14 L517.87,388.19 L519.58,389.23 L521.29,390.28 L523,391.32 L524.71,392.36 L526.43,393.4 L528.14,394.44 L529.86,395.47 L531.57,396.5 L533.29,397.53 L535.01,398.56 L536.73,399.58 L538.45,400.61 L540.18,401.63 L541.9,402.65 L543.63,403.67 L545.35,404.68 L547.08,405.7 L548.81,406.71 L550.54,407.72 L552.27,408.72 L554,409.73 L555.74,410.73 L557.47,411.73 L559.21,412.73 L560.95,413.73 L562.68,414.73 L564.42,415.72 L566.16,416.71 L567.91,417.7 L569.65,418.69 L571.39,419.67 L573.14,420.66 L574.88,421.64 L576.63,422.62 L578.38,423.59 L580.13,424.57 L581.88,425.54 L583.63,426.51 L585.38,427.48 L587.13,428.45 L588.89,429.42 L590.64,430.38 L592.4,431.34 L594.16,432.3 L595.91,433.26 L597.67,434.22 L599.43,435.17 L601.19,436.12 L602.96,437.08 L604.72,438.02 L606.48,438.97 L608.25,439.92 L610.01,440.86 L611.78,441.8 L613.55,442.74 L615.31,443.68 L617.08,444.61 L618.85,445.54 L620.63,446.48 L622.4,447.41 L624.17,448.33 L625.94,449.26 L627.72,450.18 L629.49,451.11 L631.27,452.03 L633.05,452.95 L634.82,453.86 L636.6,454.78 L638.38,455.69 L640.16,456.6 L641.94,457.51 L643.73,458.42 L645.51,459.33 L647.29,460.23 L649.08,461.13 L650.86,462.03 L652.65,462.93 L654.43,463.83 L656.22,464.72 L658.01,465.62 L659.8,466.51 L659.8,466.51" fill="none" stroke="#111" stroke-width="1.4"/>
<path d="M659.8,466.51 L661.57,465.63 L663.32,464.72 L665.06,463.77 L666.79,462.8 L668.51,461.81 L670.22,460.79 L671.93,459.75 L673.62,458.69 L675.32,457.62 L677,456.53 L678.69,455.43 L680.37,454.31 L682.05,453.19 L683.72,452.06 L685.4,450.93 L687.08,449.79 L688.76,448.65 L690.44,447.51 L692.13,446.38 L693.82,445.25 L695.51,444.12 L697.21,443.01 L698.92,441.91 L700.64,440.81 L702.37,439.74 L704.1,438.68 L705.85,437.64 L707.61,436.62 L709.38,435.62 L711.17,434.65 L712.97,433.7 L714.78,432.78 L716.61,431.9 L718.46,431.04 L720.33,430.22 L722.22,429.44 L724.12,428.7 L726.05,427.99 L728,427.33 L729.97,426.71 L731.96,426.14 L733.96,425.61 L735.98,425.13 L738.01,424.69 L740.05,424.31 L742.09,423.97 L744.13,423.68 L746.18,423.44 L748.22,423.25 L750.26,423.11 L752.29,423.03 L754.31,422.99 L756.31,423.02 L758.31,423.09 L760.28,423.23 L762.23,423.42 L764.17,423.66 L766.07,423.97 L767.95,424.33 L769.8,424.75 L771.62,425.23 L773.42,425.76 L775.19,426.35 L776.93,426.99 L778.65,427.68 L780.34,428.42 L782,429.22 L783.64,430.06 L785.25,430.95 L786.84,431.89 L788.4,432.87 L789.94,433.9 L791.46,434.97 L792.95,436.08 L794.42,437.24 L795.86,438.43 L797.28,439.67 L798.68,440.94 L800.06,442.25 L801.42,443.59 L802.75,444.97 L804.06,446.38 L805.36,447.82 L806.63,449.3 L807.88,450.8 L809.11,452.34 L810.32,453.9 L811.51,455.49 L812.69,457.1 L813.84,458.74 L814.98,460.41 L816.09,462.09 L817.19,463.8 L818.28,465.52 L819.34,467.27 L820.39,469.03 L821.42,470.81 L822.44,472.61 L823.43,474.42 L824.42,476.24 L825.39,478.08 L826.34,479.92 L827.28,481.78 L828.2,483.65 L829.11,485.52 L830.01,487.4 L830.89,489.29 L831.76,491.18 L832.61,493.08 L833.45,494.97 L834.29,496.87 L835.1,498.77 L835.91,500.67 L836.7,502.58 L837.49,504.48 L838.26,506.38 L839.02,508.29 L839.77,510.2 L840.5,512.11 L841.23,514.01 L841.94,515.93 L842.65,517.84 L843.34,519.75 L844.03,521.66 L844.7,523.58 L845.36,525.5 L846.01,527.41 L846.66,529.33 L847.29,531.25 L847.91,533.17 L848.53,535.09 L849.13,537.02 L849.73,538.94 L850.32,540.86 L850.89,542.79 L851.46,544.72 L852.02,546.65 L852.58,548.58 L853.12,550.51 L853.66,552.44 L854.18,554.37 L854.7,556.3 L855.22,558.24 L855.72,560.17 L856.22,562.11 L856.71,564.04 L857.19,565.98 L857.67,567.92 L858.14,569.86 L858.6,571.8 L859.06,573.74 L859.51,575.69 L859.95,577.63 L860.39,579.57 L860.82,581.52 L861.24,583.47 L861.66,585.41 L862.08,587.36 L862.49,589.31 L862.89,591.26 L863.29,593.21 L863.68,595.16 L864.07,597.11 L864.46,599.07 L864.84,601.02 L865.21,602.98 L865.58,604.93 L865.95,606.89 L866.31,608.84 L866.67,610.8 L867.03,612.76 L867.38,614.72 L867.73,616.68 L868.08,618.64 L868.42,620.6 L868.76,622.56 L869.1,624.53 L869.43,626.49 L869.77,628.46 L870.1,630.42 L870.43,632.39 L870.75,634.35 L871.08,636.32 L871.4,638.29 L871.72,640.26 L872.04,642.23 L872.36,644.2 L872.67,646.17 L872.99,648.14 L873.3,650.11 L873.62,652.08 L873.93,654.06 L874.25,656.03 L874.56,658 L874.87,659.98 L875.19,661.95 L875.5,663.93 L875.81,665.91 L876.12,667.88 L876.44,669.86 L876.75,671.84 L877.06,673.82 L877.37,675.8 L877.69,677.78 L878,679.76 L878.31,681.74 L878.62,683.72 L878.93,685.7 L879.24,687.68 L879.55,689.66 L879.86,691.65 L880.17,693.63 L880.47,695.61 L880.78,697.6 L881.09,699.58 L881.39,701.57 L881.7,703.55 L882,705.54 L882.3,707.53 L882.61,709.51 L882.91,711.5 L883.21,713.49 L883.51,715.48 L883.81,717.46 L884.1,719.45 L884.4,721.44 L884.69,723.43 L884.99,725.42 L885.28,727.41 L885.57,729.4 L885.86,731.39 L886.15,733.38 L886.44,735.37 L886.72,737.36 L887.01,739.36 L887.29,741.35 L887.57,743.34 L887.85,745.33 L888.13,747.33 L888.41,749.32 L888.69,751.31 L888.96,753.3 L889.23,755.3 L889.5,757.29 L889.77,759.29 L890.04,761.28 L890.3,763.27 L890.56,765.27 L890.82,767.26 L891.08,769.26 L891.34,771.25 L891.59,773.25 L891.85,775.24 L892.1,777.24 L892.35,779.23 L892.59,781.23 L892.84,783.23 L893.08,785.22 L893.32,787.22 L893.55,789.21 L893.79,791.21 L894.02,793.21 L894.25,795.2 L894.48,797.2 L894.7,799.19 L894.92,801.19 L895.14,803.19 L895.36,805.18 L895.58,807.18 L895.79,809.17 L896,811.17 L896.2,813.17 L896.4,815.16 L896.6,817.16 L896.8,819.16 L897,821.15 L897.19,823.15 L897.38,825.14 L897.56,827.14 L897.74,829.14 L897.92,831.13 L898.1,833.13 L898.27,835.12 L898.44,837.12 L898.61,839.11 L898.77,841.11 L898.93,843.1 L899.09,845.1 L899.24,847.09 L899.39,849.09 L899.53,851.08 L899.68,853.08 L899.82,855.07 L899.95,857.06 L900.08,859.06 L900.21,861.05 L900.33,863.04 L900.45,865.04 L900.57,867.03 L900.68,869.02 L900.79,871.01 L900.9,873.01 L901,875" fill="none" stroke="#111" stroke-width="1.4"/>
<path d="M295,219.1V857.5" stroke="#333" stroke-width="1.2"/>
<path d="M659.8,466.51V857.5" stroke="#3a66e0" stroke-width="1.6"/>
<path d="M659.8,466.51V857.5" stroke="#222" stroke-width="1.4" stroke-dasharray="5 3.5"/>
<path d="M477.9,317.25L488.9,336.55L466.9,336.55Z" fill="#fff" stroke="#F73232" stroke-width="1.6" stroke-linejoin="miter"/>
<path d="M533.5,308.85L555.5,308.85L544.5,328.15Z" fill="#fff" stroke="#F73232" stroke-width="1.6"/>
<path d="M569.6,309.2L579.4,322L569.6,334.8L559.8,322Z" fill="#F73232" stroke="#F73232" stroke-width="1"/>
<path d="M574.3,331h20 M584.3,321v20 M577.1,323.8l14.4,14.4 M577.1,338.2l14.4,-14.4" stroke="#F73232" stroke-width="1.6" fill="none"/>
<rect x="605.25" y="362.15" width="15.5" height="15.5" fill="#F73232" stroke="#F73232" stroke-width="1" stroke-linejoin="round"/>
<path d="M602,407.75L613,427.05L591,427.05Z" fill="#fff" stroke="#2F9A2F" stroke-width="1.6" stroke-linejoin="miter"/>
<path d="M677.6,381.65L699.6,381.65L688.6,400.95Z" fill="#fff" stroke="#2F9A2F" stroke-width="1.6"/>
<path d="M714.2,381.4L724,394.2L714.2,407L704.4,394.2Z" fill="#2F9A2F" stroke="#2F9A2F" stroke-width="1"/>
<path d="M722.1,406.7h20 M732.1,396.7v20 M724.9,399.5l14.4,14.4 M724.9,413.9l14.4,-14.4" stroke="#2F9A2F" stroke-width="1.6" fill="none"/>
<rect x="752.95" y="441.15" width="15.5" height="15.5" fill="#2F9A2F" stroke="#2F9A2F" stroke-width="1" stroke-linejoin="round"/>
<path d="M659.8,451.25L670.8,470.55L648.8,470.55Z" fill="#fff" stroke="#0A2FD0" stroke-width="1.6" stroke-linejoin="miter"/>
<path d="M742.8,415.25L764.8,415.25L753.8,434.55Z" fill="#fff" stroke="#0A2FD0" stroke-width="1.6"/>
<path d="M783,415.8L792.8,428.6L783,441.4L773.2,428.6Z" fill="#0A2FD0" stroke="#0A2FD0" stroke-width="1"/>
<path d="M787,438.6h20 M797,428.6v20 M789.8,431.4l14.4,14.4 M789.8,445.8l14.4,-14.4" stroke="#0A2FD0" stroke-width="1.6" fill="none"/>
<rect x="818.15" y="471.75" width="15.5" height="15.5" fill="#0A2FD0" stroke="#0A2FD0" stroke-width="1" stroke-linejoin="round"/>
</g>
<g clip-path="url(#cb)">
<path d="M1266.3,68.9 L1266.65,70.89 L1266.99,72.89 L1267.33,74.89 L1267.67,76.89 L1268.01,78.88 L1268.34,80.88 L1268.68,82.87 L1269.01,84.86 L1269.34,86.86 L1269.67,88.85 L1270,90.84 L1270.33,92.83 L1270.66,94.82 L1270.98,96.81 L1271.3,98.8 L1271.63,100.79 L1271.95,102.78 L1272.27,104.77 L1272.59,106.76 L1272.91,108.74 L1273.22,110.73 L1273.54,112.71 L1273.86,114.7 L1274.17,116.68 L1274.48,118.67 L1274.79,120.65 L1275.1,122.64 L1275.41,124.62 L1275.72,126.6 L1276.03,128.58 L1276.34,130.57 L1276.64,132.55 L1276.95,134.53 L1277.25,136.51 L1277.55,138.49 L1277.86,140.47 L1278.16,142.45 L1278.46,144.43 L1278.76,146.41 L1279.06,148.38 L1279.35,150.36 L1279.65,152.34 L1279.95,154.32 L1280.24,156.29 L1280.54,158.27 L1280.83,160.25 L1281.13,162.22 L1281.42,164.2 L1281.71,166.17 L1282,168.15 L1282.29,170.12 L1282.59,172.1 L1282.88,174.07 L1283.17,176.04 L1283.45,178.02 L1283.74,179.99 L1284.03,181.96 L1284.32,183.94 L1284.61,185.91 L1284.89,187.88 L1285.18,189.85 L1285.46,191.82 L1285.75,193.8 L1286.04,195.77 L1286.32,197.74 L1286.6,199.71 L1286.89,201.68 L1287.17,203.65 L1287.46,205.62 L1287.74,207.59 L1288.02,209.56 L1288.31,211.53 L1288.59,213.5 L1288.87,215.47 L1289.15,217.44 L1289.44,219.41 L1289.72,221.38 L1290,223.35 L1290.28,225.32 L1290.56,227.29 L1290.85,229.26 L1291.13,231.23 L1291.41,233.2 L1291.69,235.16 L1291.97,237.13 L1292.25,239.1 L1292.54,241.07 L1292.82,243.04 L1293.1,245.01 L1293.38,246.98 L1293.67,248.95 L1293.95,250.91 L1294.23,252.88 L1294.51,254.85 L1294.8,256.82 L1295.08,258.79 L1295.36,260.76 L1295.65,262.73 L1295.93,264.7 L1296.21,266.67 L1296.5,268.63 L1296.78,270.6 L1297.07,272.57 L1297.36,274.54 L1297.64,276.51 L1297.93,278.48 L1298.21,280.45 L1298.5,282.42 L1298.79,284.39 L1299.08,286.36 L1299.37,288.33 L1299.66,290.3 L1299.95,292.27 L1300.24,294.24 L1300.53,296.21 L1300.82,298.19 L1301.11,300.16 L1301.4,302.13 L1301.7,304.1 L1301.99,306.07 L1302.28,308.04 L1302.58,310.02 L1302.88,311.99 L1303.17,313.96 L1303.47,315.93 L1303.77,317.91 L1304.07,319.88 L1304.37,321.85 L1304.67,323.83 L1304.97,325.8 L1305.27,327.78 L1305.57,329.75 L1305.88,331.73 L1306.18,333.7 L1306.49,335.68 L1306.8,337.65 L1307.1,339.63 L1307.41,341.61 L1307.72,343.59 L1308.03,345.56 L1308.34,347.54 L1308.66,349.52 L1308.97,351.5 L1309.29,353.48 L1309.6,355.46 L1309.92,357.44 L1310.24,359.42 L1310.56,361.4 L1310.88,363.38 L1311.2,365.36 L1311.52,367.34 L1311.85,369.32 L1312.17,371.31 L1312.5,373.29 L1312.83,375.27 L1313.16,377.26 L1313.49,379.24 L1313.82,381.23 L1314.15,383.21 L1314.49,385.2 L1314.83,387.18 L1315.16,389.17 L1315.5,391.16 L1315.84,393.15 L1316.19,395.14 L1316.53,397.12 L1316.87,399.11 L1317.22,401.1 L1317.57,403.1 L1317.92,405.09 L1318.27,407.08 L1318.62,409.07 L1318.98,411.06 L1319.33,413.06 L1319.69,415.05 L1320.05,417.05 L1320.41,419.04 L1320.77,421.04 L1321.14,423.04 L1321.5,425.03 L1321.87,427.03 L1322.24,429.03 L1322.61,431.03 L1322.99,433.03 L1323.36,435.03 L1323.74,437.03 L1324.12,439.03 L1324.5,441.04 L1324.88,443.04 L1325.27,445.04 L1325.66,447.05 L1326.05,449.05 L1326.44,451.05 L1326.84,453.05 L1327.24,455.05 L1327.64,457.05 L1328.05,459.05 L1328.46,461.05 L1328.88,463.04 L1329.3,465.03 L1329.73,467.02 L1330.16,469 L1330.6,470.99 L1331.04,472.96 L1331.49,474.94 L1331.95,476.91 L1332.41,478.88 L1332.87,480.84 L1333.35,482.8 L1333.83,484.75 L1334.32,486.7 L1334.81,488.64 L1335.32,490.58 L1335.83,492.51 L1336.35,494.43 L1336.87,496.35 L1337.41,498.26 L1337.95,500.17 L1338.51,502.07 L1339.07,503.96 L1339.64,505.84 L1340.23,507.71 L1340.82,509.58 L1341.42,511.44 L1342.03,513.29 L1342.66,515.13 L1343.29,516.96 L1343.94,518.78 L1344.59,520.59 L1345.26,522.39 L1345.94,524.18 L1346.63,525.96 L1347.34,527.73 L1348.05,529.49 L1348.78,531.24 L1349.54,532.98 L1350.32,534.7 L1351.13,536.42 L1351.97,538.12 L1352.86,539.8 L1353.79,541.48 L1354.77,543.14 L1355.8,544.79 L1356.9,546.43 L1358.06,548.05 L1359.28,549.66 L1360.58,551.25 L1361.96,552.81 L1363.4,554.3 L1364.9,555.69 L1366.44,556.94 L1368.04,558.01 L1369.66,558.88 L1371.32,559.5 L1373,559.85 L1374.69,559.87 L1376.39,559.58 L1378.08,559.01 L1379.77,558.23 L1381.45,557.3 L1383.11,556.23 L1384.75,555.05 L1386.38,553.77 L1387.99,552.4 L1389.58,550.96 L1391.16,549.46 L1392.73,547.91 L1394.28,546.34 L1395.81,544.74 L1397.33,543.15 L1398.84,541.56 L1400.34,540 L1401.82,538.48 L1403.29,537 L1404.75,535.56 L1406.19,534.14 L1407.62,532.74 L1409.04,531.36 L1410.45,529.98 L1411.85,528.61 L1413.24,527.23 L1414.62,525.85 L1415.99,524.45 L1417.35,523.03 L1418.69,521.6 L1420.03,520.16 L1421.36,518.71 L1422.69,517.24 L1424,515.77 L1425.3,514.28 L1426.6,512.78 L1427.89,511.27 L1429.18,509.76 L1430.45,508.23 L1431.72,506.69 L1432.99,505.15 L1434.25,503.6 L1435.5,502.04 L1436.75,500.48 L1437.99,498.9 L1439.23,497.33 L1440.46,495.75 L1441.69,494.16 L1442.91,492.57 L1444.14,490.97 L1445.36,489.37 L1446.57,487.77 L1447.78,486.17 L1449,484.56 L1450.2,482.95 L1451.41,481.34 L1452.62,479.73 L1453.82,478.12 L1455.03,476.51 L1456.23,474.9 L1457.43,473.29 L1458.63,471.68 L1459.83,470.07 L1461.04,468.46 L1462.24,466.85 L1463.44,465.24 L1464.64,463.64 L1465.84,462.03 L1467.05,460.43 L1468.25,458.82 L1469.46,457.22 L1470.67,455.62 L1471.88,454.02 L1473.09,452.43 L1474.3,450.83 L1475.52,449.24 L1476.73,447.65 L1477.95,446.06 L1479.18,444.48 L1480.4,442.9 L1481.63,441.32 L1482.86,439.75 L1484.1,438.18 L1485.34,436.61 L1486.58,435.04 L1487.83,433.48 L1489.08,431.93 L1490.34,430.38 L1491.6,428.83 L1492.87,427.29 L1494.14,425.75 L1495.41,424.21 L1496.7,422.69 L1497.98,421.16 L1499.28,419.64 L1500.58,418.13 L1501.88,416.62 L1503.19,415.12 L1504.51,413.63 L1505.84,412.14 L1507.17,410.65 L1508.51,409.18 L1509.85,407.7 L1511.21,406.24 L1512.57,404.78 L1513.94,403.33 L1515.31,401.89 L1516.7,400.45 L1518.09,399.02 L1519.5,397.6 L1520.91,396.19 L1522.33,394.78 L1523.76,393.39 L1525.2,392 L1526.64,390.62 L1528.1,389.24 L1529.57,387.88 L1531.05,386.52 L1532.54,385.18 L1534.04,383.84 L1535.55,382.51 L1537.07,381.19 L1538.6,379.89 L1540.14,378.59 L1541.7,377.3 L1544.74,371.31 L1546.34,369.76 L1547.97,368.27 L1549.63,366.84 L1551.33,365.47 L1553.05,364.17 L1554.8,362.93 L1556.58,361.75 L1558.37,360.64 L1560.19,359.59 L1562.03,358.6 L1563.89,357.68 L1565.76,356.83 L1567.65,356.04 L1569.55,355.31 L1571.46,354.66 L1573.38,354.07 L1575.31,353.55 L1577.25,353.09 L1579.18,352.71 L1581.12,352.39 L1583.06,352.14 L1585,351.96 L1586.94,351.85 L1588.87,351.82 L1590.79,351.85 L1592.71,351.95 L1594.61,352.12 L1596.51,352.35 L1598.39,352.65 L1600.25,353.02 L1602.1,353.45 L1603.93,353.94 L1605.74,354.5 L1607.52,355.12 L1609.28,355.79 L1611.02,356.53 L1612.73,357.33 L1614.41,358.19 L1616.05,359.11 L1617.67,360.08 L1619.25,361.11 L1620.79,362.19 L1622.3,363.32 L1623.78,364.5 L1625.23,365.73 L1626.65,367.01 L1628.03,368.32 L1629.39,369.68 L1630.71,371.08 L1632.01,372.51 L1633.27,373.98 L1634.51,375.48 L1635.72,377 L1636.91,378.56 L1638.06,380.14 L1639.19,381.75 L1640.3,383.37 L1641.38,385.02 L1642.44,386.68 L1643.47,388.35 L1644.48,390.05 L1645.47,391.75 L1646.43,393.48 L1647.37,395.21 L1648.29,396.96 L1649.2,398.73 L1650.08,400.5 L1650.94,402.29 L1651.78,404.09 L1652.61,405.9 L1653.42,407.73 L1654.21,409.56 L1654.98,411.41 L1655.74,413.26 L1656.48,415.12 L1657.21,417 L1657.92,418.88 L1658.62,420.77 L1659.31,422.66 L1659.98,424.57 L1660.65,426.48 L1661.3,428.4 L1661.94,430.32 L1662.57,432.25 L1663.18,434.18 L1663.79,436.12 L1664.4,438.06 L1664.99,440.01 L1665.57,441.96 L1666.15,443.91 L1666.73,445.87 L1667.29,447.82 L1667.85,449.78 L1668.41,451.74 L1668.96,453.7 L1669.51,455.66 L1670.05,457.62 L1670.59,459.58 L1671.13,461.55 L1671.67,463.51 L1672.2,465.47 L1672.72,467.43 L1673.25,469.39 L1673.77,471.35 L1674.29,473.31 L1674.81,475.27 L1675.32,477.23 L1675.83,479.19 L1676.33,481.16 L1676.83,483.12 L1677.33,485.08 L1677.83,487.04 L1678.32,489 L1678.81,490.96 L1679.3,492.92 L1679.78,494.88 L1680.27,496.85 L1680.74,498.81 L1681.22,500.77 L1681.69,502.73 L1682.16,504.69 L1682.62,506.65 L1683.09,508.62 L1683.55,510.58 L1684,512.54 L1684.46,514.5 L1684.91,516.46 L1685.36,518.43 L1685.8,520.39 L1686.24,522.35 L1686.68,524.31 L1687.12,526.27 L1687.55,528.24 L1687.98,530.2 L1688.41,532.16 L1688.84,534.13 L1689.26,536.09 L1689.68,538.05 L1690.09,540.01 L1690.51,541.98 L1690.92,543.94 L1691.33,545.9 L1691.73,547.87 L1692.14,549.83 L1692.54,551.79 L1692.93,553.76 L1693.33,555.72 L1693.72,557.69 L1694.11,559.65 L1694.5,561.61 L1694.88,563.58 L1695.26,565.54 L1695.64,567.51 L1696.02,569.47 L1696.39,571.44 L1696.76,573.4 L1697.13,575.37 L1697.49,577.33 L1697.86,579.3 L1698.22,581.26 L1698.58,583.23 L1698.93,585.2 L1699.29,587.16 L1699.64,589.13 L1699.99,591.09 L1700.33,593.06 L1700.68,595.03 L1701.02,596.99 L1701.35,598.96 L1701.69,600.93 L1702.02,602.9 L1702.36,604.86 L1702.69,606.83 L1703.01,608.8 L1703.34,610.77 L1703.66,612.74 L1703.98,614.7 L1704.3,616.67 L1704.61,618.64 L1704.92,620.61 L1705.23,622.58 L1705.54,624.55 L1705.85,626.52 L1706.15,628.49 L1706.45,630.46 L1706.75,632.43 L1707.05,634.4 L1707.35,636.37 L1707.64,638.34 L1707.93,640.31 L1708.22,642.28 L1708.51,644.25 L1708.79,646.23 L1709.07,648.2 L1709.35,650.17 L1709.63,652.14 L1709.91,654.11 L1710.18,656.09 L1710.45,658.06 L1710.72,660.03 L1710.99,662.01 L1711.26,663.98 L1711.52,665.95 L1711.78,667.93 L1712.04,669.9 L1712.3,671.88 L1712.56,673.85 L1712.81,675.83 L1713.06,677.8 L1713.31,679.78 L1713.56,681.75 L1713.81,683.73 L1714.05,685.71 L1714.29,687.68 L1714.54,689.66 L1714.77,691.64 L1715.01,693.62 L1715.25,695.59 L1715.48,697.57 L1715.71,699.55 L1715.94,701.53 L1716.17,703.51 L1716.4,705.49 L1716.62,707.47 L1716.85,709.45 L1717.07,711.43 L1717.29,713.41 L1717.51,715.39 L1717.72,717.37 L1717.94,719.35 L1718.15,721.33 L1718.36,723.31 L1718.57,725.3 L1718.78,727.28 L1718.99,729.26 L1719.19,731.24 L1719.39,733.23 L1719.6,735.21 L1719.8,737.19 L1720,739.18 L1720.19,741.16 L1720.39,743.15 L1720.58,745.13 L1720.78,747.12 L1720.97,749.11 L1721.16,751.09 L1721.35,753.08 L1721.53,755.07 L1721.72,757.05 L1721.9,759.04 L1722.09,761.03 L1722.27,763.02 L1722.45,765.01 L1722.63,767 L1722.8,768.99 L1722.98,770.98 L1723.16,772.97 L1723.33,774.96 L1723.5,776.95 L1723.67,778.94 L1723.84,780.93 L1724.01,782.92 L1724.18,784.92 L1724.34,786.91 L1724.51,788.9 L1724.67,790.9 L1724.83,792.89 L1724.99,794.88 L1725.15,796.88 L1725.31,798.87 L1725.47,800.87 L1725.63,802.87 L1725.78,804.86 L1725.94,806.86 L1726.09,808.86 L1726.24,810.85 L1726.39,812.85 L1726.54,814.85 L1726.69,816.85 L1726.84,818.85 L1726.99,820.85 L1727.13,822.85 L1727.28,824.85 L1727.42,826.85 L1727.56,828.85 L1727.71,830.85 L1727.85,832.85 L1727.99,834.86 L1728.13,836.86 L1728.26,838.86 L1728.4,840.87 L1728.54,842.87 L1728.67,844.88 L1728.81,846.88 L1728.94,848.89 L1729.07,850.89 L1729.21,852.9 L1729.34,854.91 L1729.47,856.92 L1729.6,858.92 L1729.73,860.93 L1729.86,862.94 L1729.98,864.95 L1730.11,866.96 L1730.24,868.97 L1730.36,870.98 L1730.49,872.99 L1730.61,875" fill="none" stroke="#F73232" stroke-width="5" stroke-linejoin="round"/>
<path d="M1266.32,126.7 L1266.59,128.68 L1266.86,130.67 L1267.14,132.66 L1267.41,134.64 L1267.68,136.63 L1267.95,138.62 L1268.22,140.6 L1268.48,142.59 L1268.75,144.58 L1269.02,146.56 L1269.29,148.55 L1269.55,150.54 L1269.82,152.53 L1270.08,154.51 L1270.34,156.5 L1270.61,158.49 L1270.87,160.47 L1271.13,162.46 L1271.39,164.45 L1271.65,166.44 L1271.91,168.42 L1272.17,170.41 L1272.43,172.4 L1272.69,174.39 L1272.95,176.37 L1273.21,178.36 L1273.46,180.35 L1273.72,182.34 L1273.98,184.32 L1274.23,186.31 L1274.48,188.3 L1274.74,190.29 L1274.99,192.28 L1275.25,194.26 L1275.5,196.25 L1275.75,198.24 L1276,200.23 L1276.25,202.22 L1276.5,204.2 L1276.75,206.19 L1277,208.18 L1277.25,210.17 L1277.5,212.16 L1277.75,214.14 L1277.99,216.13 L1278.24,218.12 L1278.49,220.11 L1278.73,222.1 L1278.98,224.09 L1279.22,226.07 L1279.47,228.06 L1279.71,230.05 L1279.96,232.04 L1280.2,234.03 L1280.44,236.02 L1280.69,238 L1280.93,239.99 L1281.17,241.98 L1281.41,243.97 L1281.65,245.96 L1281.89,247.95 L1282.13,249.94 L1282.37,251.92 L1282.61,253.91 L1282.85,255.9 L1283.09,257.89 L1283.33,259.88 L1283.57,261.87 L1283.8,263.86 L1284.04,265.85 L1284.28,267.84 L1284.51,269.82 L1284.75,271.81 L1284.99,273.8 L1285.22,275.79 L1285.46,277.78 L1285.69,279.77 L1285.93,281.76 L1286.16,283.75 L1286.4,285.74 L1286.63,287.73 L1286.86,289.72 L1287.1,291.7 L1287.33,293.69 L1287.56,295.68 L1287.79,297.67 L1288.03,299.66 L1288.26,301.65 L1288.49,303.64 L1288.72,305.63 L1288.95,307.62 L1289.18,309.61 L1289.41,311.6 L1289.64,313.59 L1289.88,315.58 L1290.11,317.57 L1290.34,319.56 L1290.56,321.55 L1290.79,323.54 L1291.02,325.53 L1291.25,327.51 L1291.48,329.5 L1291.71,331.49 L1291.94,333.48 L1292.17,335.47 L1292.4,337.46 L1292.62,339.45 L1292.85,341.44 L1293.08,343.43 L1293.31,345.42 L1293.54,347.41 L1293.76,349.4 L1293.99,351.39 L1294.22,353.38 L1294.44,355.37 L1294.67,357.36 L1294.9,359.35 L1295.12,361.34 L1295.35,363.33 L1295.58,365.32 L1295.8,367.31 L1296.03,369.3 L1296.26,371.29 L1296.48,373.28 L1296.71,375.27 L1296.94,377.26 L1297.16,379.25 L1297.39,381.24 L1297.61,383.23 L1297.84,385.22 L1298.07,387.21 L1298.29,389.2 L1298.52,391.19 L1298.74,393.18 L1298.97,395.18 L1299.2,397.17 L1299.42,399.16 L1299.65,401.15 L1299.87,403.14 L1300.1,405.13 L1300.32,407.12 L1300.55,409.11 L1300.78,411.1 L1301,413.09 L1301.23,415.08 L1301.45,417.07 L1301.68,419.06 L1301.91,421.05 L1302.13,423.04 L1302.36,425.03 L1302.59,427.02 L1302.81,429.01 L1303.04,431 L1303.27,432.99 L1303.49,434.98 L1303.72,436.98 L1303.95,438.97 L1304.17,440.96 L1304.4,442.95 L1304.63,444.94 L1304.85,446.93 L1305.08,448.92 L1305.31,450.91 L1305.54,452.9 L1305.76,454.89 L1305.99,456.88 L1306.22,458.87 L1306.45,460.86 L1306.68,462.86 L1306.91,464.85 L1307.14,466.84 L1307.36,468.83 L1307.59,470.82 L1307.82,472.81 L1308.05,474.8 L1308.28,476.79 L1308.51,478.78 L1308.74,480.77 L1308.97,482.76 L1309.2,484.75 L1309.43,486.75 L1309.67,488.74 L1309.9,490.73 L1310.13,492.72 L1310.36,494.71 L1310.59,496.7 L1310.82,498.69 L1311.06,500.68 L1311.29,502.67 L1311.52,504.66 L1311.75,506.66 L1311.99,508.65 L1312.22,510.64 L1312.46,512.63 L1312.69,514.62 L1312.92,516.61 L1313.16,518.6 L1313.39,520.59 L1313.63,522.58 L1313.86,524.58 L1314.1,526.57 L1314.33,528.56 L1314.57,530.55 L1314.8,532.54 L1315.04,534.53 L1315.27,536.52 L1315.51,538.51 L1315.75,540.5 L1315.98,542.5 L1316.22,544.49 L1316.45,546.48 L1316.69,548.47 L1316.93,550.46 L1317.17,552.45 L1317.4,554.44 L1317.64,556.43 L1317.88,558.43 L1318.11,560.42 L1318.35,562.41 L1318.59,564.4 L1318.83,566.39 L1319.06,568.38 L1319.3,570.37 L1319.54,572.36 L1319.78,574.36 L1320.02,576.35 L1320.25,578.34 L1320.49,580.33 L1320.73,582.32 L1320.97,584.31 L1321.21,586.3 L1321.45,588.29 L1321.68,590.29 L1321.92,592.28 L1322.16,594.27 L1322.4,596.26 L1322.64,598.25 L1322.88,600.24 L1323.12,602.23 L1323.36,604.22 L1323.59,606.22 L1323.83,608.21 L1324.07,610.2 L1324.31,612.19 L1324.55,614.18 L1324.79,616.17 L1325.03,618.16 L1325.27,620.16 L1325.51,622.15 L1325.74,624.14 L1325.98,626.13 L1326.22,628.12 L1326.46,630.11 L1326.7,632.1 L1326.94,634.09 L1327.18,636.09 L1327.42,638.08 L1327.65,640.07 L1327.89,642.06 L1328.13,644.05 L1328.37,646.04 L1328.61,648.03 L1328.85,650.03 L1329.09,652.02 L1329.32,654.01 L1329.56,656 L1329.8,657.99 L1330.04,659.98 L1330.28,661.97 L1330.51,663.96 L1330.75,665.96 L1330.99,667.95 L1331.23,669.94 L1331.47,671.93 L1331.7,673.92 L1331.94,675.91 L1332.18,677.9 L1332.42,679.89 L1332.65,681.89 L1332.89,683.88 L1333.13,685.87 L1333.36,687.86 L1333.6,689.85 L1333.84,691.84 L1334.07,693.83 L1334.31,695.82 L1334.54,697.82 L1334.78,699.81 L1335.02,701.8 L1335.25,703.79 L1335.49,705.78 L1335.72,707.77 L1335.96,709.76 L1336.19,711.75 L1336.43,713.75 L1336.66,715.74 L1336.9,717.73 L1337.13,719.72 L1337.36,721.71 L1337.6,723.7 L1337.83,725.69 L1338.06,727.68 L1338.3,729.67 L1338.53,731.67 L1338.76,733.66 L1339,735.65 L1339.23,737.64 L1339.46,739.63 L1339.69,741.62 L1339.92,743.61 L1340.15,745.6 L1340.39,747.59 L1340.62,749.59 L1340.85,751.58 L1341.08,753.57 L1341.31,755.56 L1341.54,757.55 L1341.77,759.54 L1342,761.53 L1342.23,763.52 L1342.46,765.51 L1342.68,767.5 L1342.91,769.5 L1343.14,771.49 L1343.37,773.48 L1343.6,775.47 L1343.82,777.46 L1344.05,779.45 L1344.28,781.44 L1344.5,783.43 L1344.73,785.42 L1344.95,787.41 L1345.18,789.4 L1345.4,791.4 L1345.63,793.39 L1345.85,795.38 L1346.08,797.37 L1346.3,799.36 L1346.52,801.35 L1346.75,803.34 L1346.97,805.33 L1347.19,807.32 L1347.41,809.31 L1347.64,811.3 L1347.86,813.29 L1348.08,815.28 L1348.3,817.27 L1348.52,819.27 L1348.74,821.26 L1348.96,823.25 L1349.18,825.24 L1349.4,827.23 L1349.61,829.22 L1349.83,831.21 L1350.05,833.2 L1350.27,835.19 L1350.48,837.18 L1350.7,839.17 L1350.92,841.16 L1351.13,843.15 L1351.35,845.14 L1351.56,847.13 L1351.77,849.12 L1351.99,851.11 L1352.2,853.1 L1352.41,855.09 L1352.63,857.08 L1352.84,859.08 L1353.05,861.07 L1353.26,863.06 L1353.47,865.05 L1353.68,867.04 L1353.89,869.03 L1354.1,871.02 L1354.31,873.01 L1354.52,875" fill="none" stroke="#2F9A2F" stroke-width="5" stroke-dasharray="18.4 18.6" stroke-linejoin="round"/>
<path d="M1575.49,875.01 L1575.67,872.98 L1575.85,870.95 L1576.02,868.92 L1576.2,866.89 L1576.38,864.87 L1576.56,862.84 L1576.74,860.82 L1576.92,858.8 L1577.1,856.78 L1577.28,854.76 L1577.46,852.74 L1577.65,850.73 L1577.83,848.71 L1578.02,846.7 L1578.2,844.69 L1578.39,842.68 L1578.58,840.67 L1578.76,838.66 L1578.95,836.65 L1579.14,834.65 L1579.33,832.64 L1579.53,830.64 L1579.72,828.64 L1579.91,826.63 L1580.11,824.63 L1580.3,822.64 L1580.5,820.64 L1580.69,818.64 L1580.89,816.64 L1581.09,814.65 L1581.29,812.65 L1581.49,810.66 L1581.69,808.67 L1581.89,806.68 L1582.09,804.69 L1582.3,802.7 L1582.5,800.71 L1582.71,798.72 L1582.92,796.73 L1583.12,794.75 L1583.33,792.76 L1583.54,790.78 L1583.75,788.8 L1583.96,786.81 L1584.18,784.83 L1584.39,782.85 L1584.6,780.87 L1584.82,778.89 L1585.04,776.91 L1585.25,774.93 L1585.47,772.95 L1585.69,770.98 L1585.91,769 L1586.14,767.02 L1586.36,765.05 L1586.58,763.07 L1586.81,761.1 L1587.03,759.13 L1587.26,757.15 L1587.49,755.18 L1587.72,753.21 L1587.95,751.24 L1588.18,749.27 L1588.41,747.3 L1588.65,745.33 L1588.88,743.36 L1589.12,741.39 L1589.36,739.42 L1589.59,737.45 L1589.83,735.48 L1590.08,733.51 L1590.32,731.55 L1590.56,729.58 L1590.8,727.61 L1591.05,725.64 L1591.3,723.68 L1591.55,721.71 L1591.79,719.75 L1592.04,717.78 L1592.3,715.82 L1592.55,713.85 L1592.8,711.88 L1593.06,709.92 L1593.32,707.96 L1593.57,705.99 L1593.83,704.03 L1594.09,702.06 L1594.36,700.1 L1594.62,698.13 L1594.88,696.17 L1595.15,694.2 L1595.42,692.24 L1595.69,690.27 L1595.95,688.31 L1596.23,686.35 L1596.5,684.38 L1596.77,682.42 L1597.05,680.45 L1597.32,678.49 L1597.6,676.52 L1597.88,674.56 L1598.16,672.59 L1598.44,670.63 L1598.73,668.66 L1599.01,666.69 L1599.3,664.73 L1599.59,662.76 L1599.88,660.8 L1600.17,658.83 L1600.46,656.86 L1600.75,654.89 L1601.05,652.93 L1601.34,650.96 L1601.64,648.99 L1601.94,647.02 L1602.24,645.05 L1602.55,643.08 L1602.85,641.11 L1603.15,639.14 L1603.46,637.17 L1603.77,635.2 L1604.08,633.23 L1604.39,631.26 L1604.71,629.28 L1605.02,627.31 L1605.34,625.34 L1605.65,623.36 L1605.97,621.39 L1606.29,619.41 L1606.62,617.44 L1606.94,615.46 L1607.27,613.48 L1607.59,611.5 L1607.92,609.52 L1608.25,607.54 L1608.59,605.56 L1608.92,603.58 L1609.26,601.6 L1609.59,599.62 L1609.93,597.64 L1610.27,595.65 L1610.61,593.67 L1610.96,591.68 L1611.3,589.69 L1611.65,587.71 L1612,585.72 L1612.35,583.73 L1612.7,581.74 L1613.06,579.75 L1613.41,577.76 L1613.77,575.76 L1614.13,573.77 L1614.49,571.78 L1614.85,569.78 L1615.22,567.78 L1615.59,565.79 L1615.95,563.79 L1616.32,561.79 L1616.7,559.79 L1617.07,557.78 L1617.44,555.78 L1617.82,553.78 L1618.2,551.77 L1618.58,549.76 L1618.96,547.76 L1619.35,545.75 L1619.73,543.74 L1620.12,541.73 L1620.52,539.72 L1620.91,537.71 L1621.31,535.69 L1621.71,533.68 L1622.11,531.67 L1622.52,529.66 L1622.94,527.65 L1623.35,525.64 L1623.77,523.64 L1624.2,521.63 L1624.63,519.63 L1625.07,517.62 L1625.51,515.62 L1625.96,513.63 L1626.41,511.63 L1626.87,509.64 L1627.34,507.65 L1627.82,505.66 L1628.3,503.68 L1628.79,501.7 L1629.28,499.73 L1629.79,497.76 L1630.3,495.79 L1630.82,493.83 L1631.35,491.87 L1631.89,489.92 L1632.43,487.97 L1632.99,486.03 L1633.55,484.09 L1634.13,482.16 L1634.71,480.23 L1635.31,478.31 L1635.92,476.4 L1636.53,474.5 L1637.16,472.6 L1637.8,470.71 L1638.45,468.82 L1639.11,466.95 L1639.79,465.08 L1640.47,463.22 L1641.17,461.36 L1641.88,459.52 L1642.61,457.68 L1643.35,455.85 L1644.1,454.04 L1644.86,452.23 L1645.64,450.43 L1646.44,448.64 L1647.25,446.86 L1648.07,445.09 L1648.91,443.33 L1649.76,441.58 L1650.63,439.85 L1651.51,438.12 L1652.41,436.4 L1653.33,434.7 L1654.26,433.01 L1655.21,431.33 L1656.18,429.66 L1657.16,428.01 L1658.17,426.37 L1659.21,424.76 L1660.27,423.17 L1661.37,421.6 L1662.49,420.06 L1663.65,418.55 L1664.85,417.07 L1666.08,415.63 L1667.36,414.22 L1668.68,412.85 L1670.05,411.52 L1671.46,410.24 L1672.93,409 L1674.45,407.8 L1676.03,406.66 L1677.66,405.57 L1679.36,404.54 L1681.11,403.56 L1682.94,402.64 L1684.82,401.78 L1686.76,400.99 L1688.76,400.25 L1690.8,399.58 L1692.87,398.98 L1694.97,398.44 L1697.1,397.96 L1699.25,397.55 L1701.4,397.21 L1703.56,396.93 L1705.71,396.72 L1707.85,396.59 L1709.97,396.52 L1712.07,396.52 L1714.13,396.59 L1716.17,396.74 L1718.17,396.95 L1720.14,397.22 L1722.08,397.57 L1723.99,397.97 L1725.87,398.44 L1727.72,398.97 L1729.54,399.56 L1731.33,400.21 L1733.09,400.91 L1734.82,401.67 L1736.52,402.48 L1738.2,403.34 L1739.84,404.26 L1741.46,405.22 L1743.06,406.22 L1744.62,407.28 L1746.16,408.38 L1747.68,409.52 L1749.17,410.7 L1750.63,411.92 L1752.07,413.18 L1753.48,414.48 L1754.87,415.81 L1756.23,417.17 L1757.57,418.57 L1758.89,419.99 L1760.18,421.45 L1761.45,422.93 L1762.7,424.44 L1763.93,425.97 L1765.14,427.53 L1766.32,429.11 L1767.48,430.71 L1768.62,432.32 L1769.75,433.96 L1770.85,435.6 L1771.93,437.27 L1772.99,438.94 L1774.03,440.63 L1775.06,442.33 L1776.06,444.04 L1777.05,445.76 L1778.02,447.5 L1778.98,449.24 L1779.91,451 L1780.83,452.77 L1781.73,454.55 L1782.62,456.34 L1783.49,458.14 L1784.35,459.94 L1785.19,461.76 L1786.01,463.59 L1786.82,465.42 L1787.62,467.26 L1788.41,469.12 L1789.18,470.97 L1789.93,472.84 L1790.68,474.72 L1791.41,476.6 L1792.13,478.48 L1792.84,480.38 L1793.53,482.28 L1794.22,484.19 L1794.9,486.1 L1795.56,488.02 L1796.21,489.94 L1796.86,491.87 L1797.49,493.8 L1798.12,495.73 L1798.74,497.67 L1799.35,499.62 L1799.95,501.56 L1800.54,503.51 L1801.13,505.47 L1801.71,507.42 L1802.28,509.38 L1802.85,511.34 L1803.41,513.3 L1803.96,515.27 L1804.51,517.23 L1805.05,519.19 L1805.59,521.16 L1806.13,523.13 L1806.66,525.09 L1807.19,527.06 L1807.71,529.02 L1808.23,530.99 L1808.74,532.95 L1809.26,534.92 L1809.77,536.88 L1810.27,538.85 L1810.77,540.81 L1811.27,542.78 L1811.76,544.74 L1812.25,546.71 L1812.74,548.67 L1813.23,550.63 L1813.71,552.6 L1814.18,554.56 L1814.66,556.52 L1815.13,558.49 L1815.59,560.45 L1816.06,562.41 L1816.52,564.37 L1816.97,566.34 L1817.43,568.3 L1817.88,570.26 L1818.32,572.22 L1818.76,574.19 L1819.2,576.15 L1819.64,578.11 L1820.08,580.07 L1820.51,582.03 L1820.93,583.99 L1821.36,585.96 L1821.78,587.92 L1822.19,589.88 L1822.61,591.84 L1823.02,593.8 L1823.43,595.76 L1823.83,597.73 L1824.24,599.69 L1824.64,601.65 L1825.03,603.61 L1825.43,605.57 L1825.82,607.53 L1826.2,609.5 L1826.59,611.46 L1826.97,613.42 L1827.35,615.38 L1827.72,617.34 L1828.1,619.3 L1828.47,621.27 L1828.83,623.23 L1829.2,625.19 L1829.56,627.15 L1829.92,629.11 L1830.28,631.08 L1830.63,633.04 L1830.98,635 L1831.33,636.96 L1831.67,638.93 L1832.02,640.89 L1832.36,642.85 L1832.69,644.81 L1833.03,646.78 L1833.36,648.74 L1833.69,650.7 L1834.02,652.67 L1834.34,654.63 L1834.66,656.59 L1834.98,658.56 L1835.3,660.52 L1835.62,662.49 L1835.93,664.45 L1836.24,666.42 L1836.55,668.38 L1836.85,670.35 L1837.15,672.31 L1837.45,674.28 L1837.75,676.24 L1838.05,678.21 L1838.34,680.18 L1838.63,682.14 L1838.92,684.11 L1839.21,686.08 L1839.49,688.04 L1839.78,690.01 L1840.06,691.98 L1840.33,693.95 L1840.61,695.92 L1840.88,697.89 L1841.16,699.85 L1841.43,701.82 L1841.69,703.79 L1841.96,705.76 L1842.22,707.73 L1842.48,709.7 L1842.74,711.68 L1843,713.65 L1843.26,715.62 L1843.51,717.59 L1843.76,719.56 L1844.01,721.54 L1844.26,723.51 L1844.51,725.48 L1844.75,727.46 L1844.99,729.43 L1845.23,731.4 L1845.47,733.38 L1845.71,735.35 L1845.94,737.33 L1846.18,739.31 L1846.41,741.28 L1846.64,743.26 L1846.87,745.24 L1847.1,747.22 L1847.32,749.19 L1847.54,751.17 L1847.77,753.15 L1847.99,755.13 L1848.21,757.11 L1848.42,759.09 L1848.64,761.08 L1848.85,763.06 L1849.07,765.04 L1849.28,767.02 L1849.49,769.01 L1849.7,770.99 L1849.9,772.97 L1850.11,774.96 L1850.31,776.94 L1850.52,778.93 L1850.72,780.92 L1850.92,782.9 L1851.12,784.89 L1851.31,786.88 L1851.51,788.87 L1851.71,790.86 L1851.9,792.85 L1852.09,794.84 L1852.28,796.83 L1852.47,798.82 L1852.66,800.81 L1852.85,802.8 L1853.04,804.8 L1853.22,806.79 L1853.41,808.79 L1853.59,810.78 L1853.77,812.78 L1853.96,814.77 L1854.14,816.77 L1854.31,818.77 L1854.49,820.77 L1854.67,822.77 L1854.85,824.77 L1855.02,826.77 L1855.2,828.77 L1855.37,830.77 L1855.54,832.77 L1855.72,834.78 L1855.89,836.78 L1856.06,838.79 L1856.23,840.79 L1856.4,842.8 L1856.57,844.81 L1856.73,846.81 L1856.9,848.82 L1857.07,850.83 L1857.23,852.84 L1857.4,854.85 L1857.56,856.86 L1857.72,858.88 L1857.89,860.89 L1858.05,862.9 L1858.21,864.92 L1858.37,866.93 L1858.53,868.95 L1858.69,870.97 L1858.85,872.98 L1859.01,875" fill="none" stroke="#2F9A2F" stroke-width="5" stroke-dasharray="18.4 18.6" stroke-linejoin="round"/>
<path d="M1266.72,130.5 L1266.98,132.48 L1267.25,134.47 L1267.51,136.46 L1267.77,138.44 L1268.03,140.43 L1268.3,142.42 L1268.56,144.41 L1268.82,146.39 L1269.07,148.38 L1269.33,150.37 L1269.59,152.36 L1269.85,154.34 L1270.11,156.33 L1270.36,158.32 L1270.62,160.31 L1270.87,162.29 L1271.13,164.28 L1271.38,166.27 L1271.64,168.26 L1271.89,170.25 L1272.14,172.23 L1272.39,174.22 L1272.65,176.21 L1272.9,178.2 L1273.15,180.19 L1273.4,182.17 L1273.65,184.16 L1273.9,186.15 L1274.14,188.14 L1274.39,190.13 L1274.64,192.11 L1274.89,194.1 L1275.13,196.09 L1275.38,198.08 L1275.63,200.07 L1275.87,202.06 L1276.12,204.04 L1276.36,206.03 L1276.6,208.02 L1276.85,210.01 L1277.09,212 L1277.33,213.99 L1277.58,215.98 L1277.82,217.96 L1278.06,219.95 L1278.3,221.94 L1278.54,223.93 L1278.78,225.92 L1279.02,227.91 L1279.26,229.9 L1279.5,231.88 L1279.74,233.87 L1279.97,235.86 L1280.21,237.85 L1280.45,239.84 L1280.69,241.83 L1280.92,243.82 L1281.16,245.81 L1281.39,247.8 L1281.63,249.79 L1281.86,251.77 L1282.1,253.76 L1282.33,255.75 L1282.57,257.74 L1282.8,259.73 L1283.04,261.72 L1283.27,263.71 L1283.5,265.7 L1283.73,267.69 L1283.97,269.68 L1284.2,271.67 L1284.43,273.66 L1284.66,275.65 L1284.89,277.64 L1285.12,279.62 L1285.35,281.61 L1285.58,283.6 L1285.81,285.59 L1286.04,287.58 L1286.27,289.57 L1286.5,291.56 L1286.73,293.55 L1286.96,295.54 L1287.19,297.53 L1287.42,299.52 L1287.64,301.51 L1287.87,303.5 L1288.1,305.49 L1288.33,307.48 L1288.55,309.47 L1288.78,311.46 L1289.01,313.45 L1289.23,315.44 L1289.46,317.43 L1289.69,319.42 L1289.91,321.41 L1290.14,323.4 L1290.36,325.39 L1290.59,327.38 L1290.81,329.37 L1291.04,331.36 L1291.26,333.35 L1291.49,335.34 L1291.71,337.33 L1291.94,339.32 L1292.16,341.31 L1292.39,343.3 L1292.61,345.29 L1292.84,347.28 L1293.06,349.27 L1293.28,351.26 L1293.51,353.25 L1293.73,355.24 L1293.95,357.23 L1294.18,359.22 L1294.4,361.21 L1294.62,363.2 L1294.85,365.2 L1295.07,367.19 L1295.29,369.18 L1295.51,371.17 L1295.74,373.16 L1295.96,375.15 L1296.18,377.14 L1296.41,379.13 L1296.63,381.12 L1296.85,383.11 L1297.07,385.1 L1297.3,387.09 L1297.52,389.08 L1297.74,391.07 L1297.96,393.06 L1298.18,395.05 L1298.41,397.05 L1298.63,399.04 L1298.85,401.03 L1299.07,403.02 L1299.3,405.01 L1299.52,407 L1299.74,408.99 L1299.96,410.98 L1300.19,412.97 L1300.41,414.96 L1300.63,416.95 L1300.85,418.95 L1301.08,420.94 L1301.3,422.93 L1301.52,424.92 L1301.74,426.91 L1301.97,428.9 L1302.19,430.89 L1302.41,432.88 L1302.64,434.87 L1302.86,436.86 L1303.08,438.86 L1303.31,440.85 L1303.53,442.84 L1303.75,444.83 L1303.98,446.82 L1304.2,448.81 L1304.42,450.8 L1304.65,452.79 L1304.87,454.78 L1305.1,456.78 L1305.32,458.77 L1305.54,460.76 L1305.77,462.75 L1305.99,464.74 L1306.22,466.73 L1306.44,468.72 L1306.67,470.71 L1306.89,472.71 L1307.12,474.7 L1307.35,476.69 L1307.57,478.68 L1307.8,480.67 L1308.02,482.66 L1308.25,484.65 L1308.48,486.65 L1308.7,488.64 L1308.93,490.63 L1309.16,492.62 L1309.39,494.61 L1309.61,496.6 L1309.84,498.59 L1310.07,500.59 L1310.3,502.58 L1310.53,504.57 L1310.76,506.56 L1310.99,508.55 L1311.21,510.54 L1311.44,512.53 L1311.67,514.53 L1311.9,516.52 L1312.13,518.51 L1312.36,520.5 L1312.59,522.49 L1312.82,524.48 L1313.05,526.48 L1313.28,528.47 L1313.51,530.46 L1313.74,532.45 L1313.98,534.44 L1314.21,536.43 L1314.44,538.43 L1314.67,540.42 L1314.9,542.41 L1315.13,544.4 L1315.36,546.39 L1315.6,548.38 L1315.83,550.38 L1316.06,552.37 L1316.29,554.36 L1316.52,556.35 L1316.76,558.34 L1316.99,560.33 L1317.22,562.33 L1317.45,564.32 L1317.69,566.31 L1317.92,568.3 L1318.15,570.29 L1318.39,572.28 L1318.62,574.28 L1318.85,576.27 L1319.08,578.26 L1319.32,580.25 L1319.55,582.24 L1319.78,584.24 L1320.02,586.23 L1320.25,588.22 L1320.48,590.21 L1320.72,592.2 L1320.95,594.19 L1321.18,596.19 L1321.42,598.18 L1321.65,600.17 L1321.88,602.16 L1322.12,604.15 L1322.35,606.14 L1322.59,608.14 L1322.82,610.13 L1323.05,612.12 L1323.29,614.11 L1323.52,616.1 L1323.75,618.1 L1323.99,620.09 L1324.22,622.08 L1324.45,624.07 L1324.69,626.06 L1324.92,628.05 L1325.15,630.05 L1325.39,632.04 L1325.62,634.03 L1325.85,636.02 L1326.09,638.01 L1326.32,640.01 L1326.55,642 L1326.79,643.99 L1327.02,645.98 L1327.25,647.97 L1327.49,649.96 L1327.72,651.96 L1327.95,653.95 L1328.18,655.94 L1328.42,657.93 L1328.65,659.92 L1328.88,661.92 L1329.11,663.91 L1329.35,665.9 L1329.58,667.89 L1329.81,669.88 L1330.04,671.87 L1330.27,673.87 L1330.51,675.86 L1330.74,677.85 L1330.97,679.84 L1331.2,681.83 L1331.43,683.82 L1331.66,685.82 L1331.89,687.81 L1332.13,689.8 L1332.36,691.79 L1332.59,693.78 L1332.82,695.78 L1333.05,697.77 L1333.28,699.76 L1333.51,701.75 L1333.74,703.74 L1333.97,705.73 L1334.2,707.73 L1334.43,709.72 L1334.66,711.71 L1334.88,713.7 L1335.11,715.69 L1335.34,717.68 L1335.57,719.68 L1335.8,721.67 L1336.03,723.66 L1336.25,725.65 L1336.48,727.64 L1336.71,729.63 L1336.94,731.63 L1337.16,733.62 L1337.39,735.61 L1337.62,737.6 L1337.84,739.59 L1338.07,741.58 L1338.3,743.58 L1338.52,745.57 L1338.75,747.56 L1338.97,749.55 L1339.2,751.54 L1339.42,753.53 L1339.65,755.53 L1339.87,757.52 L1340.09,759.51 L1340.32,761.5 L1340.54,763.49 L1340.76,765.48 L1340.99,767.47 L1341.21,769.47 L1341.43,771.46 L1341.65,773.45 L1341.88,775.44 L1342.1,777.43 L1342.32,779.42 L1342.54,781.41 L1342.76,783.41 L1342.98,785.4 L1343.2,787.39 L1343.42,789.38 L1343.64,791.37 L1343.86,793.36 L1344.08,795.35 L1344.29,797.35 L1344.51,799.34 L1344.73,801.33 L1344.95,803.32 L1345.16,805.31 L1345.38,807.3 L1345.6,809.29 L1345.81,811.28 L1346.03,813.28 L1346.24,815.27 L1346.46,817.26 L1346.67,819.25 L1346.89,821.24 L1347.1,823.23 L1347.31,825.22 L1347.53,827.21 L1347.74,829.21 L1347.95,831.2 L1348.16,833.19 L1348.38,835.18 L1348.59,837.17 L1348.8,839.16 L1349.01,841.15 L1349.22,843.14 L1349.43,845.13 L1349.64,847.12 L1349.85,849.12 L1350.05,851.11 L1350.26,853.1 L1350.47,855.09 L1350.68,857.08 L1350.88,859.07 L1351.09,861.06 L1351.29,863.05 L1351.5,865.04 L1351.7,867.03 L1351.91,869.02 L1352.11,871.02 L1352.32,873.01 L1352.52,875" fill="none" stroke="#0A2FD0" stroke-width="5" stroke-dasharray="18.4 4.9 9 4.8" stroke-linejoin="round"/>
<path d="M1638.5,875 L1638.56,873.05 L1638.62,871.1 L1638.69,869.14 L1638.76,867.18 L1638.83,865.22 L1638.91,863.25 L1638.99,861.28 L1639.08,859.31 L1639.17,857.33 L1639.26,855.36 L1639.36,853.37 L1639.46,851.39 L1639.56,849.4 L1639.67,847.41 L1639.78,845.42 L1639.9,843.42 L1640.01,841.43 L1640.14,839.43 L1640.26,837.43 L1640.39,835.42 L1640.52,833.42 L1640.66,831.41 L1640.79,829.4 L1640.94,827.39 L1641.08,825.38 L1641.23,823.36 L1641.38,821.35 L1641.54,819.33 L1641.69,817.32 L1641.86,815.3 L1642.02,813.28 L1642.19,811.26 L1642.36,809.24 L1642.53,807.22 L1642.71,805.2 L1642.88,803.17 L1643.07,801.15 L1643.25,799.13 L1643.44,797.11 L1643.63,795.08 L1643.82,793.06 L1644.02,791.04 L1644.22,789.02 L1644.42,787 L1644.62,784.98 L1644.83,782.96 L1645.04,780.94 L1645.25,778.92 L1645.46,776.9 L1645.68,774.88 L1645.9,772.87 L1646.12,770.85 L1646.34,768.84 L1646.57,766.83 L1646.8,764.82 L1647.03,762.81 L1647.26,760.8 L1647.49,758.8 L1647.73,756.8 L1647.97,754.79 L1648.21,752.8 L1648.46,750.8 L1648.7,748.81 L1648.95,746.81 L1649.2,744.82 L1649.45,742.84 L1649.7,740.85 L1649.96,738.87 L1650.22,736.9 L1650.48,734.92 L1650.74,732.95 L1651,730.97 L1651.26,729.01 L1651.53,727.04 L1651.8,725.07 L1652.07,723.11 L1652.34,721.15 L1652.61,719.19 L1652.89,717.23 L1653.16,715.28 L1653.44,713.32 L1653.72,711.37 L1654,709.42 L1654.28,707.47 L1654.56,705.52 L1654.85,703.57 L1655.13,701.62 L1655.42,699.68 L1655.71,697.73 L1656,695.79 L1656.29,693.85 L1656.58,691.9 L1656.87,689.96 L1657.17,688.02 L1657.46,686.07 L1657.76,684.13 L1658.05,682.19 L1658.35,680.25 L1658.65,678.31 L1658.95,676.37 L1659.25,674.42 L1659.55,672.48 L1659.85,670.54 L1660.16,668.59 L1660.46,666.65 L1660.77,664.71 L1661.07,662.76 L1661.38,660.81 L1661.68,658.87 L1661.99,656.92 L1662.3,654.97 L1662.61,653.02 L1662.91,651.07 L1663.22,649.11 L1663.53,647.16 L1663.84,645.2 L1664.15,643.25 L1664.46,641.29 L1664.77,639.32 L1665.09,637.36 L1665.4,635.4 L1665.71,633.43 L1666.02,631.46 L1666.33,629.49 L1666.64,627.51 L1666.96,625.54 L1667.27,623.56 L1667.58,621.58 L1667.89,619.59 L1668.21,617.61 L1668.52,615.62 L1668.83,613.62 L1669.14,611.63 L1669.45,609.63 L1669.76,607.63 L1670.08,605.62 L1670.39,603.61 L1670.7,601.6 L1671.01,599.58 L1671.32,597.57 L1671.63,595.55 L1671.95,593.52 L1672.26,591.5 L1672.57,589.47 L1672.89,587.44 L1673.21,585.41 L1673.53,583.38 L1673.86,581.35 L1674.18,579.32 L1674.51,577.28 L1674.84,575.25 L1675.18,573.22 L1675.51,571.18 L1675.86,569.15 L1676.2,567.12 L1676.55,565.08 L1676.91,563.05 L1677.26,561.02 L1677.63,558.99 L1678,556.96 L1678.37,554.94 L1678.75,552.91 L1679.14,550.89 L1679.53,548.87 L1679.93,546.85 L1680.33,544.84 L1680.74,542.83 L1681.16,540.82 L1681.58,538.82 L1682.02,536.82 L1682.46,534.82 L1682.9,532.83 L1683.36,530.84 L1683.82,528.86 L1684.3,526.88 L1684.78,524.9 L1685.27,522.94 L1685.77,520.97 L1686.28,519.02 L1686.8,517.06 L1687.33,515.12 L1687.87,513.18 L1688.42,511.25 L1688.98,509.32 L1689.55,507.4 L1690.13,505.49 L1690.73,503.59 L1691.33,501.69 L1691.95,499.8 L1692.58,497.92 L1693.22,496.05 L1693.88,494.18 L1694.54,492.33 L1695.22,490.48 L1695.92,488.64 L1696.62,486.81 L1697.34,484.99 L1698.08,483.18 L1698.83,481.39 L1699.59,479.6 L1700.37,477.82 L1701.16,476.05 L1701.97,474.29 L1702.8,472.55 L1703.64,470.82 L1704.51,469.1 L1705.4,467.41 L1706.31,465.72 L1707.25,464.06 L1708.21,462.42 L1709.21,460.8 L1710.23,459.2 L1711.28,457.62 L1712.37,456.07 L1713.5,454.54 L1714.66,453.04 L1715.86,451.57 L1717.09,450.13 L1718.37,448.72 L1719.7,447.34 L1721.06,445.99 L1722.47,444.68 L1723.93,443.4 L1725.44,442.16 L1727,440.96 L1728.62,439.79 L1730.28,438.67 L1732,437.59 L1733.77,436.54 L1735.59,435.55 L1737.45,434.59 L1739.36,433.69 L1741.29,432.83 L1743.26,432.02 L1745.26,431.26 L1747.28,430.54 L1749.33,429.88 L1751.39,429.28 L1753.46,428.73 L1755.55,428.23 L1757.64,427.79 L1759.73,427.41 L1761.82,427.09 L1763.9,426.82 L1765.98,426.62 L1768.04,426.48 L1770.09,426.41 L1772.11,426.4 L1774.11,426.45 L1776.09,426.58 L1778.03,426.76 L1779.95,427.02 L1781.85,427.33 L1783.71,427.71 L1785.55,428.14 L1787.37,428.63 L1789.16,429.18 L1790.93,429.79 L1792.67,430.45 L1794.39,431.16 L1796.08,431.93 L1797.75,432.74 L1799.39,433.61 L1801.01,434.52 L1802.61,435.48 L1804.18,436.48 L1805.73,437.52 L1807.26,438.61 L1808.77,439.74 L1810.25,440.91 L1811.72,442.11 L1813.16,443.35 L1814.58,444.63 L1815.98,445.94 L1817.35,447.28 L1818.71,448.66 L1820.05,450.06 L1821.37,451.49 L1822.66,452.95 L1823.94,454.44 L1825.2,455.94 L1826.44,457.48 L1827.66,459.03 L1828.86,460.61 L1830.04,462.2 L1831.21,463.82 L1832.35,465.46 L1833.48,467.12 L1834.6,468.8 L1835.69,470.49 L1836.77,472.2 L1837.83,473.93 L1838.88,475.68 L1839.91,477.44 L1840.92,479.21 L1841.92,481 L1842.9,482.81 L1843.87,484.62 L1844.82,486.45 L1845.76,488.29 L1846.68,490.14 L1847.59,492 L1848.49,493.86 L1849.37,495.74 L1850.24,497.63 L1851.09,499.52 L1851.94,501.42 L1852.77,503.33 L1853.58,505.24 L1854.39,507.15 L1855.18,509.07 L1855.96,511 L1856.73,512.92 L1857.49,514.85 L1858.24,516.78 L1858.98,518.71 L1859.71,520.64 L1860.42,522.58 L1861.13,524.51 L1861.83,526.44 L1862.52,528.37 L1863.19,530.31 L1863.86,532.24 L1864.52,534.17 L1865.17,536.11 L1865.8,538.04 L1866.43,539.97 L1867.05,541.91 L1867.67,543.85 L1868.27,545.78 L1868.86,547.72 L1869.45,549.65 L1870.03,551.59 L1870.59,553.53 L1871.15,555.47 L1871.71,557.4 L1872.25,559.34 L1872.79,561.28 L1873.31,563.22 L1873.84,565.16 L1874.35,567.1 L1874.85,569.04 L1875.35,570.98 L1875.84,572.92 L1876.33,574.86 L1876.81,576.81 L1877.28,578.75 L1877.74,580.69 L1878.2,582.63 L1878.65,584.58 L1879.09,586.52 L1879.53,588.46 L1879.96,590.41 L1880.39,592.35 L1880.81,594.3 L1881.22,596.25 L1881.63,598.19 L1882.04,600.14 L1882.44,602.09 L1882.83,604.03 L1883.22,605.98 L1883.6,607.93 L1883.98,609.88 L1884.35,611.83 L1884.72,613.78 L1885.08,615.73 L1885.44,617.68 L1885.8,619.63 L1886.15,621.58 L1886.5,623.53 L1886.84,625.48 L1887.18,627.43 L1887.51,629.39 L1887.85,631.34 L1888.18,633.29 L1888.5,635.25 L1888.82,637.2 L1889.14,639.15 L1889.46,641.11 L1889.77,643.07 L1890.08,645.02 L1890.39,646.98 L1890.7,648.93 L1891,650.89 L1891.3,652.85 L1891.6,654.81 L1891.9,656.77 L1892.19,658.73 L1892.49,660.68 L1892.78,662.64 L1893.07,664.6 L1893.36,666.57 L1893.65,668.53 L1893.93,670.49 L1894.22,672.45 L1894.51,674.41 L1894.79,676.38 L1895.07,678.34 L1895.36,680.3 L1895.64,682.27 L1895.92,684.23 L1896.2,686.2 L1896.48,688.16 L1896.77,690.13 L1897.05,692.09 L1897.33,694.06 L1897.62,696.03 L1897.9,698 L1898.18,699.96 L1898.47,701.93 L1898.75,703.9 L1899.04,705.87 L1899.33,707.84 L1899.62,709.81 L1899.91,711.78 L1900.2,713.75 L1900.49,715.72 L1900.78,717.7 L1901.08,719.67 L1901.37,721.64 L1901.66,723.62 L1901.96,725.59 L1902.25,727.56 L1902.55,729.54 L1902.84,731.51 L1903.14,733.49 L1903.43,735.47 L1903.72,737.44 L1904.02,739.42 L1904.31,741.4 L1904.6,743.38 L1904.89,745.35 L1905.19,747.33 L1905.48,749.31 L1905.77,751.29 L1906.05,753.27 L1906.34,755.25 L1906.63,757.24 L1906.91,759.22 L1907.19,761.2 L1907.48,763.18 L1907.76,765.17 L1908.03,767.15 L1908.31,769.13 L1908.59,771.12 L1908.86,773.1 L1909.13,775.09 L1909.4,777.08 L1909.67,779.06 L1909.93,781.05 L1910.19,783.04 L1910.45,785.02 L1910.71,787.01 L1910.96,789 L1911.21,790.99 L1911.46,792.98 L1911.71,794.97 L1911.95,796.96 L1912.19,798.95 L1912.42,800.95 L1912.65,802.94 L1912.88,804.93 L1913.11,806.93 L1913.33,808.92 L1913.55,810.91 L1913.76,812.91 L1913.97,814.9 L1914.18,816.9 L1914.38,818.9 L1914.58,820.89 L1914.77,822.89 L1914.96,824.89 L1915.15,826.89 L1915.33,828.89 L1915.5,830.89 L1915.67,832.89 L1915.84,834.89 L1916,836.89 L1916.16,838.89 L1916.31,840.89 L1916.45,842.89 L1916.59,844.9 L1916.73,846.9 L1916.86,848.9 L1916.98,850.91 L1917.1,852.91 L1917.21,854.92 L1917.32,856.92 L1917.42,858.93 L1917.51,860.94 L1917.6,862.95 L1917.68,864.95 L1917.76,866.96 L1917.83,868.97 L1917.89,870.98 L1917.95,872.99 L1918,875" fill="none" stroke="#0A2FD0" stroke-width="5" stroke-dasharray="18.4 4.9 9 4.8" stroke-linejoin="round"/>
<path d="M1302.5,433.66 L1302.64,434.87 L1302.86,436.86 L1303.08,438.86 L1303.31,440.85 L1303.53,442.84 L1303.75,444.83 L1303.98,446.82 L1304.2,448.81 L1304.42,450.8 L1304.65,452.79 L1304.87,454.78 L1305.1,456.78 L1305.32,458.77 L1305.54,460.76 L1305.77,462.75 L1305.99,464.74 L1306.22,466.73 L1306.44,468.72 L1306.67,470.71 L1306.89,472.71 L1307.12,474.7 L1307.35,476.69 L1307.57,478.68 L1307.8,480.67 L1308.02,482.66 L1308.25,484.65 L1308.48,486.65 L1308.7,488.64 L1308.93,490.63 L1309.16,492.62 L1309.39,494.61 L1309.61,496.6 L1309.84,498.59 L1310.07,500.59 L1310.3,502.58 L1310.53,504.57 L1310.76,506.56 L1310.99,508.55 L1311.21,510.54 L1311.44,512.53 L1311.67,514.53 L1311.9,516.52 L1312.13,518.51 L1312.36,520.5 L1312.59,522.49 L1312.82,524.48 L1313.05,526.48 L1313.28,528.47 L1313.51,530.46 L1313.74,532.45 L1313.98,534.44 L1314.21,536.43 L1314.44,538.43 L1314.67,540.42 L1314.9,542.41 L1315.13,544.4 L1315.36,546.39 L1315.6,548.38 L1315.83,550.38 L1316.06,552.37 L1316.29,554.36 L1316.52,556.35 L1316.76,558.34 L1316.99,560.33 L1317.22,562.33 L1317.45,564.32 L1317.69,566.31 L1317.92,568.3 L1318.15,570.29 L1318.39,572.28 L1318.62,574.28 L1318.85,576.27 L1319.08,578.26 L1319.32,580.25 L1319.55,582.24 L1319.78,584.24 L1320.02,586.23 L1320.25,588.22 L1320.48,590.21 L1320.72,592.2 L1320.95,594.19 L1321.18,596.19 L1321.42,598.18 L1321.65,600.17 L1321.88,602.16 L1322.12,604.15 L1322.35,606.14 L1322.59,608.14 L1322.82,610.13 L1323.05,612.12 L1323.29,614.11 L1323.52,616.1 L1323.75,618.1 L1323.99,620.09 L1324.22,622.08 L1324.45,624.07 L1324.69,626.06 L1324.92,628.05 L1325.15,630.05 L1325.39,632.04 L1325.62,634.03 L1325.85,636.02 L1326.09,638.01 L1326.32,640.01 L1326.55,642 L1326.79,643.99 L1327.02,645.98 L1327.25,647.97 L1327.49,649.96 L1327.72,651.96 L1327.95,653.95 L1328.18,655.94 L1328.42,657.93 L1328.65,659.92 L1328.88,661.92 L1329.11,663.91 L1329.35,665.9 L1329.58,667.89 L1329.81,669.88 L1330.04,671.87 L1330.27,673.87 L1330.51,675.86 L1330.74,677.85 L1330.97,679.84 L1331.2,681.83 L1331.43,683.82 L1331.66,685.82 L1331.89,687.81 L1332.13,689.8 L1332.36,691.79 L1332.59,693.78 L1332.82,695.78 L1333.05,697.77 L1333.28,699.76 L1333.51,701.75 L1333.74,703.74 L1333.97,705.73 L1334.2,707.73 L1334.43,709.72 L1334.66,711.71 L1334.88,713.7 L1335.11,715.69 L1335.34,717.68 L1335.57,719.68 L1335.8,721.67 L1336.03,723.66 L1336.25,725.65 L1336.48,727.64 L1336.71,729.63 L1336.94,731.63 L1337.16,733.62 L1337.39,735.61 L1337.62,737.6 L1337.84,739.59 L1338.07,741.58 L1338.3,743.58 L1338.52,745.57 L1338.75,747.56 L1338.97,749.55 L1339.2,751.54 L1339.42,753.53 L1339.65,755.53 L1339.87,757.52 L1340.09,759.51 L1340.32,761.5 L1340.54,763.49 L1340.76,765.48 L1340.99,767.47 L1341.21,769.47 L1341.43,771.46 L1341.65,773.45 L1341.88,775.44 L1342.1,777.43 L1342.32,779.42 L1342.54,781.41 L1342.76,783.41 L1342.98,785.4 L1343.2,787.39 L1343.42,789.38 L1343.64,791.37 L1343.86,793.36 L1344.08,795.35 L1344.29,797.35 L1344.51,799.34 L1344.73,801.33 L1344.95,803.32 L1345.16,805.31 L1345.38,807.3 L1345.6,809.29 L1345.81,811.28 L1346.03,813.28 L1346.24,815.27 L1346.46,817.26 L1346.67,819.25 L1346.89,821.24 L1347.1,823.23 L1347.31,825.22 L1347.53,827.21 L1347.74,829.21 L1347.95,831.2 L1348.16,833.19 L1348.38,835.18 L1348.59,837.17 L1348.8,839.16 L1349.01,841.15 L1349.22,843.14 L1349.43,845.13 L1349.64,847.12 L1349.85,849.12 L1350.05,851.11 L1350.26,853.1 L1350.47,855.09 L1350.68,857.08 L1350.88,859.07 L1351.09,861.06 L1351.29,863.05 L1351.5,865.04 L1351.7,867.03 L1351.91,869.02 L1352.11,871.02 L1352.32,873.01 L1352.52,875 L1302.5,866 Z" fill="rgb(225,125,0)" fill-opacity="0.2"/>
<path d="M1638.5,875 L1638.56,873.05 L1638.62,871.1 L1638.69,869.14 L1638.76,867.18 L1638.83,865.22 L1638.91,863.25 L1638.99,861.28 L1639.08,859.31 L1639.17,857.33 L1639.26,855.36 L1639.36,853.37 L1639.46,851.39 L1639.56,849.4 L1639.67,847.41 L1639.78,845.42 L1639.9,843.42 L1640.01,841.43 L1640.14,839.43 L1640.26,837.43 L1640.39,835.42 L1640.52,833.42 L1640.66,831.41 L1640.79,829.4 L1640.94,827.39 L1641.08,825.38 L1641.23,823.36 L1641.38,821.35 L1641.54,819.33 L1641.69,817.32 L1641.86,815.3 L1642.02,813.28 L1642.19,811.26 L1642.36,809.24 L1642.53,807.22 L1642.71,805.2 L1642.88,803.17 L1643.07,801.15 L1643.25,799.13 L1643.44,797.11 L1643.63,795.08 L1643.82,793.06 L1644.02,791.04 L1644.22,789.02 L1644.42,787 L1644.62,784.98 L1644.83,782.96 L1645.04,780.94 L1645.25,778.92 L1645.46,776.9 L1645.68,774.88 L1645.9,772.87 L1646.12,770.85 L1646.34,768.84 L1646.57,766.83 L1646.8,764.82 L1647.03,762.81 L1647.26,760.8 L1647.49,758.8 L1647.73,756.8 L1647.97,754.79 L1648.21,752.8 L1648.46,750.8 L1648.7,748.81 L1648.95,746.81 L1649.2,744.82 L1649.45,742.84 L1649.7,740.85 L1649.96,738.87 L1650.22,736.9 L1650.48,734.92 L1650.74,732.95 L1651,730.97 L1651.26,729.01 L1651.53,727.04 L1651.8,725.07 L1652.07,723.11 L1652.34,721.15 L1652.61,719.19 L1652.89,717.23 L1653.16,715.28 L1653.44,713.32 L1653.72,711.37 L1654,709.42 L1654.28,707.47 L1654.56,705.52 L1654.85,703.57 L1655.13,701.62 L1655.42,699.68 L1655.71,697.73 L1656,695.79 L1656.29,693.85 L1656.58,691.9 L1656.87,689.96 L1657.17,688.02 L1657.46,686.07 L1657.76,684.13 L1658.05,682.19 L1658.35,680.25 L1658.65,678.31 L1658.95,676.37 L1659.25,674.42 L1659.55,672.48 L1659.85,670.54 L1660.16,668.59 L1660.46,666.65 L1660.77,664.71 L1661.07,662.76 L1661.38,660.81 L1661.68,658.87 L1661.99,656.92 L1662.3,654.97 L1662.61,653.02 L1662.91,651.07 L1663.22,649.11 L1663.53,647.16 L1663.84,645.2 L1664.15,643.25 L1664.46,641.29 L1664.77,639.32 L1665.09,637.36 L1665.4,635.4 L1665.71,633.43 L1666.02,631.46 L1666.33,629.49 L1666.64,627.51 L1666.96,625.54 L1667.27,623.56 L1667.58,621.58 L1667.89,619.59 L1668.21,617.61 L1668.52,615.62 L1668.83,613.62 L1669.14,611.63 L1669.45,609.63 L1669.76,607.63 L1670.08,605.62 L1670.39,603.61 L1670.7,601.6 L1671.01,599.58 L1671.32,597.57 L1671.63,595.55 L1671.95,593.52 L1672.26,591.5 L1672.57,589.47 L1672.89,587.44 L1673.21,585.41 L1673.53,583.38 L1673.86,581.35 L1674.18,579.32 L1674.51,577.28 L1674.84,575.25 L1675.18,573.22 L1675.51,571.18 L1675.86,569.15 L1676.2,567.12 L1676.55,565.08 L1676.91,563.05 L1677.26,561.02 L1677.63,558.99 L1678,556.96 L1678.37,554.94 L1678.75,552.91 L1679.14,550.89 L1679.53,548.87 L1679.93,546.85 L1680.33,544.84 L1680.74,542.83 L1681.16,540.82 L1681.58,538.82 L1682.02,536.82 L1682.46,534.82 L1682.9,532.83 L1683.36,530.84 L1683.82,528.86 L1684.3,526.88 L1684.78,524.9 L1685.27,522.94 L1685.77,520.97 L1686.28,519.02 L1686.8,517.06 L1687.33,515.12 L1687.87,513.18 L1688.42,511.25 L1688.98,509.32 L1689.55,507.4 L1690.13,505.49 L1690.73,503.59 L1691.33,501.69 L1691.95,499.8 L1692.58,497.92 L1693.22,496.05 L1693.88,494.18 L1694.54,492.33 L1695.22,490.48 L1695.92,488.64 L1696.62,486.81 L1697.34,484.99 L1698.08,483.18 L1698.83,481.39 L1699.59,479.6 L1700.37,477.82 L1701.16,476.05 L1701.97,474.29 L1702.8,472.55 L1703.64,470.82 L1704.51,469.1 L1705.4,467.41 L1706.31,465.72 L1707.25,464.06 L1708.21,462.42 L1709.21,460.8 L1710.23,459.2 L1711.28,457.62 L1712.37,456.07 L1713.5,454.54 L1714.66,453.04 L1715.86,451.57 L1717.09,450.13 L1718.37,448.72 L1719.7,447.34 L1721.06,445.99 L1722.47,444.68 L1723.93,443.4 L1725.44,442.16 L1727,440.96 L1728.62,439.79 L1730.28,438.67 L1732,437.59 L1733.77,436.54 L1735.59,435.55 L1737.45,434.59 L1739.36,433.69 L1741.29,432.83 L1743.26,432.02 L1745.26,431.26 L1747.28,430.54 L1749.33,429.88 L1751.39,429.28 L1753.46,428.73 L1755.55,428.23 L1757.64,427.79 L1759.73,427.41 L1761.82,427.09 L1763.9,426.82 L1765.98,426.62 L1768.04,426.48 L1770.09,426.41 L1772.11,426.4 L1774.11,426.45 L1776.09,426.58 L1778.03,426.76 L1779.95,427.02 L1781.85,427.33 L1783.71,427.71 L1785.55,428.14 L1787.37,428.63 L1789.16,429.18 L1790.93,429.79 L1792.67,430.45 L1794.39,431.16 L1796.08,431.93 L1797.75,432.74 L1799.39,433.61 L1801.01,434.52 L1802.61,435.48 L1804.18,436.48 L1805.73,437.52 L1807.26,438.61 L1808.77,439.74 L1810.25,440.91 L1811.72,442.11 L1813.16,443.35 L1814.58,444.63 L1815.98,445.94 L1817.35,447.28 L1818.71,448.66 L1820.05,450.06 L1821.37,451.49 L1822.66,452.95 L1823.94,454.44 L1825.2,455.94 L1826.44,457.48 L1827.66,459.03 L1828.86,460.61 L1830.04,462.2 L1831.21,463.82 L1832.35,465.46 L1833.48,467.12 L1834.6,468.8 L1835.69,470.49 L1836.77,472.2 L1837.83,473.93 L1838.88,475.68 L1839.91,477.44 L1840.92,479.21 L1841.92,481 L1842.9,482.81 L1843.87,484.62 L1844.82,486.45 L1845.76,488.29 L1846.68,490.14 L1847.59,492 L1848.49,493.86 L1849.37,495.74 L1850.24,497.63 L1851.09,499.52 L1851.94,501.42 L1852.77,503.33 L1853.58,505.24 L1854.39,507.15 L1855.18,509.07 L1855.96,511 L1856.73,512.92 L1857.49,514.85 L1858.24,516.78 L1858.98,518.71 L1859.71,520.64 L1860.42,522.58 L1861.13,524.51 L1861.83,526.44 L1862.52,528.37 L1863.19,530.31 L1863.86,532.24 L1864.52,534.17 L1865.17,536.11 L1865.8,538.04 L1866.43,539.97 L1867.05,541.91 L1867.67,543.85 L1868.27,545.78 L1868.86,547.72 L1869.45,549.65 L1870.03,551.59 L1870.59,553.53 L1871.15,555.47 L1871.71,557.4 L1872.25,559.34 L1872.79,561.28 L1873.31,563.22 L1873.84,565.16 L1874.35,567.1 L1874.85,569.04 L1875.35,570.98 L1875.84,572.92 L1876.33,574.86 L1876.81,576.81 L1877.28,578.75 L1877.74,580.69 L1878.2,582.63 L1878.65,584.58 L1879.09,586.52 L1879.53,588.46 L1879.96,590.41 L1880.39,592.35 L1880.81,594.3 L1881.22,596.25 L1881.63,598.19 L1882.04,600.14 L1882.44,602.09 L1882.83,604.03 L1883.22,605.98 L1883.6,607.93 L1883.98,609.88 L1884.35,611.83 L1884.72,613.78 L1885.08,615.73 L1885.44,617.68 L1885.8,619.63 L1886.15,621.58 L1886.5,623.53 L1886.84,625.48 L1887.18,627.43 L1887.51,629.39 L1887.85,631.34 L1888.18,633.29 L1888.5,635.25 L1888.82,637.2 L1889.14,639.15 L1889.46,641.11 L1889.77,643.07 L1890.08,645.02 L1890.39,646.98 L1890.7,648.93 L1891,650.89 L1891.3,652.85 L1891.6,654.81 L1891.9,656.77 L1892.19,658.73 L1892.49,660.68 L1892.78,662.64 L1893.07,664.6 L1893.36,666.57 L1893.65,668.53 L1893.93,670.49 L1894.22,672.45 L1894.51,674.41 L1894.79,676.38 L1895.07,678.34 L1895.36,680.3 L1895.64,682.27 L1895.92,684.23 L1896.2,686.2 L1896.48,688.16 L1896.77,690.13 L1897.05,692.09 L1897.33,694.06 L1897.62,696.03 L1897.9,698 L1898.18,699.96 L1898.47,701.93 L1898.75,703.9 L1899.04,705.87 L1899.33,707.84 L1899.62,709.81 L1899.91,711.78 L1900.2,713.75 L1900.49,715.72 L1900.78,717.7 L1901.08,719.67 L1901.37,721.64 L1901.66,723.62 L1901.96,725.59 L1902.25,727.56 L1902.55,729.54 L1902.84,731.51 L1903.14,733.49 L1903.43,735.47 L1903.72,737.44 L1904.02,739.42 L1904.31,741.4 L1904.6,743.38 L1904.89,745.35 L1905.19,747.33 L1905.48,749.31 L1905.77,751.29 L1906.05,753.27 L1906.34,755.25 L1906.63,757.24 L1906.91,759.22 L1907.19,761.2 L1907.48,763.18 L1907.76,765.17 L1908.03,767.15 L1908.31,769.13 L1908.59,771.12 L1908.86,773.1 L1909.13,775.09 L1909.4,777.08 L1909.67,779.06 L1909.93,781.05 L1910.19,783.04 L1910.45,785.02 L1910.71,787.01 L1910.96,789 L1911.21,790.99 L1911.46,792.98 L1911.71,794.97 L1911.95,796.96 L1912.19,798.95 L1912.42,800.95 L1912.65,802.94 L1912.88,804.93 L1913.11,806.93 L1913.33,808.92 L1913.55,810.91 L1913.76,812.91 L1913.97,814.9 L1914.18,816.9 L1914.38,818.9 L1914.58,820.89 L1914.77,822.89 L1914.96,824.89 L1915.15,826.89 L1915.33,828.89 L1915.5,830.89 L1915.67,832.89 L1915.84,834.89 L1916,836.89 L1916.16,838.89 L1916.31,840.89 L1916.45,842.89 L1916.59,844.9 L1916.73,846.9 L1916.86,848.9 L1916.98,850.91 L1917.1,852.91 L1917.21,854.92 L1917.32,856.92 L1917.42,858.93 L1917.51,860.94 L1917.6,862.95 L1917.68,864.95 L1917.76,866.96 L1917.83,868.97 L1917.89,870.98 L1917.95,872.99 L1918,875 Z" fill="rgb(0,128,218)" fill-opacity="0.2"/>
<path d="M1302.5,433.66 L1302.64,434.87 L1302.86,436.86 L1303.08,438.86 L1303.31,440.85 L1303.53,442.84 L1303.75,444.83 L1303.98,446.82 L1304.2,448.81 L1304.42,450.8 L1304.65,452.79 L1304.87,454.78 L1305.1,456.78 L1305.32,458.77 L1305.54,460.76 L1305.77,462.75 L1305.99,464.74 L1306.22,466.73 L1306.44,468.72 L1306.67,470.71 L1306.89,472.71 L1307.12,474.7 L1307.35,476.69 L1307.57,478.68 L1307.8,480.67 L1308.02,482.66 L1308.25,484.65 L1308.48,486.65 L1308.7,488.64 L1308.93,490.63 L1309.16,492.62 L1309.39,494.61 L1309.61,496.6 L1309.84,498.59 L1310.07,500.59 L1310.3,502.58 L1310.53,504.57 L1310.76,506.56 L1310.99,508.55 L1311.21,510.54 L1311.44,512.53 L1311.67,514.53 L1311.9,516.52 L1312.13,518.51 L1312.36,520.5 L1312.59,522.49 L1312.82,524.48 L1313.05,526.48 L1313.28,528.47 L1313.51,530.46 L1313.74,532.45 L1313.98,534.44 L1314.21,536.43 L1314.44,538.43 L1314.67,540.42 L1314.9,542.41 L1315.13,544.4 L1315.36,546.39 L1315.6,548.38 L1315.83,550.38 L1316.06,552.37 L1316.29,554.36 L1316.52,556.35 L1316.76,558.34 L1316.99,560.33 L1317.22,562.33 L1317.45,564.32 L1317.69,566.31 L1317.92,568.3 L1318.15,570.29 L1318.39,572.28 L1318.62,574.28 L1318.85,576.27 L1319.08,578.26 L1319.32,580.25 L1319.55,582.24 L1319.78,584.24 L1320.02,586.23 L1320.25,588.22 L1320.48,590.21 L1320.72,592.2 L1320.95,594.19 L1321.18,596.19 L1321.42,598.18 L1321.65,600.17 L1321.88,602.16 L1322.12,604.15 L1322.35,606.14 L1322.59,608.14 L1322.82,610.13 L1323.05,612.12 L1323.29,614.11 L1323.52,616.1 L1323.75,618.1 L1323.99,620.09 L1324.22,622.08 L1324.45,624.07 L1324.69,626.06 L1324.92,628.05 L1325.15,630.05 L1325.39,632.04 L1325.62,634.03 L1325.85,636.02 L1326.09,638.01 L1326.32,640.01 L1326.55,642 L1326.79,643.99 L1327.02,645.98 L1327.25,647.97 L1327.49,649.96 L1327.72,651.96 L1327.95,653.95 L1328.18,655.94 L1328.42,657.93 L1328.65,659.92 L1328.88,661.92 L1329.11,663.91 L1329.35,665.9 L1329.58,667.89 L1329.81,669.88 L1330.04,671.87 L1330.27,673.87 L1330.51,675.86 L1330.74,677.85 L1330.97,679.84 L1331.2,681.83 L1331.43,683.82 L1331.66,685.82 L1331.89,687.81 L1332.13,689.8 L1332.36,691.79 L1332.59,693.78 L1332.82,695.78 L1333.05,697.77 L1333.28,699.76 L1333.51,701.75 L1333.74,703.74 L1333.97,705.73 L1334.2,707.73 L1334.43,709.72 L1334.66,711.71 L1334.88,713.7 L1335.11,715.69 L1335.34,717.68 L1335.57,719.68 L1335.8,721.67 L1336.03,723.66 L1336.25,725.65 L1336.48,727.64 L1336.71,729.63 L1336.94,731.63 L1337.16,733.62 L1337.39,735.61 L1337.62,737.6 L1337.84,739.59 L1338.07,741.58 L1338.3,743.58 L1338.52,745.57 L1338.75,747.56 L1338.97,749.55 L1339.2,751.54 L1339.42,753.53 L1339.65,755.53 L1339.87,757.52 L1340.09,759.51 L1340.32,761.5 L1340.54,763.49 L1340.76,765.48 L1340.99,767.47 L1341.21,769.47 L1341.43,771.46 L1341.65,773.45 L1341.88,775.44 L1342.1,777.43 L1342.32,779.42 L1342.54,781.41 L1342.76,783.41 L1342.98,785.4 L1343.2,787.39 L1343.42,789.38 L1343.64,791.37 L1343.86,793.36 L1344.08,795.35 L1344.29,797.35 L1344.51,799.34 L1344.73,801.33 L1344.95,803.32 L1345.16,805.31 L1345.38,807.3 L1345.6,809.29 L1345.81,811.28 L1346.03,813.28 L1346.24,815.27 L1346.46,817.26 L1346.67,819.25 L1346.89,821.24 L1347.1,823.23 L1347.31,825.22 L1347.53,827.21 L1347.74,829.21 L1347.95,831.2 L1348.16,833.19 L1348.38,835.18 L1348.59,837.17 L1348.8,839.16 L1349.01,841.15 L1349.22,843.14 L1349.43,845.13 L1349.64,847.12 L1349.85,849.12 L1350.05,851.11 L1350.26,853.1 L1350.47,855.09 L1350.68,857.08 L1350.88,859.07 L1351.09,861.06 L1351.29,863.05 L1351.5,865.04 L1351.7,867.03 L1351.91,869.02 L1352.11,871.02 L1352.32,873.01 L1352.52,875" fill="none" stroke="#111" stroke-width="1.4"/>
<path d="M1638.5,875 L1638.56,873.05 L1638.62,871.1 L1638.69,869.14 L1638.76,867.18 L1638.83,865.22 L1638.91,863.25 L1638.99,861.28 L1639.08,859.31 L1639.17,857.33 L1639.26,855.36 L1639.36,853.37 L1639.46,851.39 L1639.56,849.4 L1639.67,847.41 L1639.78,845.42 L1639.9,843.42 L1640.01,841.43 L1640.14,839.43 L1640.26,837.43 L1640.39,835.42 L1640.52,833.42 L1640.66,831.41 L1640.79,829.4 L1640.94,827.39 L1641.08,825.38 L1641.23,823.36 L1641.38,821.35 L1641.54,819.33 L1641.69,817.32 L1641.86,815.3 L1642.02,813.28 L1642.19,811.26 L1642.36,809.24 L1642.53,807.22 L1642.71,805.2 L1642.88,803.17 L1643.07,801.15 L1643.25,799.13 L1643.44,797.11 L1643.63,795.08 L1643.82,793.06 L1644.02,791.04 L1644.22,789.02 L1644.42,787 L1644.62,784.98 L1644.83,782.96 L1645.04,780.94 L1645.25,778.92 L1645.46,776.9 L1645.68,774.88 L1645.9,772.87 L1646.12,770.85 L1646.34,768.84 L1646.57,766.83 L1646.8,764.82 L1647.03,762.81 L1647.26,760.8 L1647.49,758.8 L1647.73,756.8 L1647.97,754.79 L1648.21,752.8 L1648.46,750.8 L1648.7,748.81 L1648.95,746.81 L1649.2,744.82 L1649.45,742.84 L1649.7,740.85 L1649.96,738.87 L1650.22,736.9 L1650.48,734.92 L1650.74,732.95 L1651,730.97 L1651.26,729.01 L1651.53,727.04 L1651.8,725.07 L1652.07,723.11 L1652.34,721.15 L1652.61,719.19 L1652.89,717.23 L1653.16,715.28 L1653.44,713.32 L1653.72,711.37 L1654,709.42 L1654.28,707.47 L1654.56,705.52 L1654.85,703.57 L1655.13,701.62 L1655.42,699.68 L1655.71,697.73 L1656,695.79 L1656.29,693.85 L1656.58,691.9 L1656.87,689.96 L1657.17,688.02 L1657.46,686.07 L1657.76,684.13 L1658.05,682.19 L1658.35,680.25 L1658.65,678.31 L1658.95,676.37 L1659.25,674.42 L1659.55,672.48 L1659.85,670.54 L1660.16,668.59 L1660.46,666.65 L1660.77,664.71 L1661.07,662.76 L1661.38,660.81 L1661.68,658.87 L1661.99,656.92 L1662.3,654.97 L1662.61,653.02 L1662.91,651.07 L1663.22,649.11 L1663.53,647.16 L1663.84,645.2 L1664.15,643.25 L1664.46,641.29 L1664.77,639.32 L1665.09,637.36 L1665.4,635.4 L1665.71,633.43 L1666.02,631.46 L1666.33,629.49 L1666.64,627.51 L1666.96,625.54 L1667.27,623.56 L1667.58,621.58 L1667.89,619.59 L1668.21,617.61 L1668.52,615.62 L1668.83,613.62 L1669.14,611.63 L1669.45,609.63 L1669.76,607.63 L1670.08,605.62 L1670.39,603.61 L1670.7,601.6 L1671.01,599.58 L1671.32,597.57 L1671.63,595.55 L1671.95,593.52 L1672.26,591.5 L1672.57,589.47 L1672.89,587.44 L1673.21,585.41 L1673.53,583.38 L1673.86,581.35 L1674.18,579.32 L1674.51,577.28 L1674.84,575.25 L1675.18,573.22 L1675.51,571.18 L1675.86,569.15 L1676.2,567.12 L1676.55,565.08 L1676.91,563.05 L1677.26,561.02 L1677.63,558.99 L1678,556.96 L1678.37,554.94 L1678.75,552.91 L1679.14,550.89 L1679.53,548.87 L1679.93,546.85 L1680.33,544.84 L1680.74,542.83 L1681.16,540.82 L1681.58,538.82 L1682.02,536.82 L1682.46,534.82 L1682.9,532.83 L1683.36,530.84 L1683.82,528.86 L1684.3,526.88 L1684.78,524.9 L1685.27,522.94 L1685.77,520.97 L1686.28,519.02 L1686.8,517.06 L1687.33,515.12 L1687.87,513.18 L1688.42,511.25 L1688.98,509.32 L1689.55,507.4 L1690.13,505.49 L1690.73,503.59 L1691.33,501.69 L1691.95,499.8 L1692.58,497.92 L1693.22,496.05 L1693.88,494.18 L1694.54,492.33 L1695.22,490.48 L1695.92,488.64 L1696.62,486.81 L1697.34,484.99 L1698.08,483.18 L1698.83,481.39 L1699.59,479.6 L1700.37,477.82 L1701.16,476.05 L1701.97,474.29 L1702.8,472.55 L1703.64,470.82 L1704.51,469.1 L1705.4,467.41 L1706.31,465.72 L1707.25,464.06 L1708.21,462.42 L1709.21,460.8 L1710.23,459.2 L1711.28,457.62 L1712.37,456.07 L1713.5,454.54 L1714.66,453.04 L1715.86,451.57 L1717.09,450.13 L1718.37,448.72 L1719.7,447.34 L1721.06,445.99 L1722.47,444.68 L1723.93,443.4 L1725.44,442.16 L1727,440.96 L1728.62,439.79 L1730.28,438.67 L1732,437.59 L1733.77,436.54 L1735.59,435.55 L1737.45,434.59 L1739.36,433.69 L1741.29,432.83 L1743.26,432.02 L1745.26,431.26 L1747.28,430.54 L1749.33,429.88 L1751.39,429.28 L1753.46,428.73 L1755.55,428.23 L1757.64,427.79 L1759.73,427.41 L1761.82,427.09 L1763.9,426.82 L1765.98,426.62 L1768.04,426.48 L1770.09,426.41 L1772.11,426.4 L1774.11,426.45 L1776.09,426.58 L1778.03,426.76 L1779.95,427.02 L1781.85,427.33 L1783.71,427.71 L1785.55,428.14 L1787.37,428.63 L1789.16,429.18 L1790.93,429.79 L1792.67,430.45 L1794.39,431.16 L1796.08,431.93 L1797.75,432.74 L1799.39,433.61 L1801.01,434.52 L1802.61,435.48 L1804.18,436.48 L1805.73,437.52 L1807.26,438.61 L1808.77,439.74 L1810.25,440.91 L1811.72,442.11 L1813.16,443.35 L1814.58,444.63 L1815.98,445.94 L1817.35,447.28 L1818.71,448.66 L1820.05,450.06 L1821.37,451.49 L1822.66,452.95 L1823.94,454.44 L1825.2,455.94 L1826.44,457.48 L1827.66,459.03 L1828.86,460.61 L1830.04,462.2 L1831.21,463.82 L1832.35,465.46 L1833.48,467.12 L1834.6,468.8 L1835.69,470.49 L1836.77,472.2 L1837.83,473.93 L1838.88,475.68 L1839.91,477.44 L1840.92,479.21 L1841.92,481 L1842.9,482.81 L1843.87,484.62 L1844.82,486.45 L1845.76,488.29 L1846.68,490.14 L1847.59,492 L1848.49,493.86 L1849.37,495.74 L1850.24,497.63 L1851.09,499.52 L1851.94,501.42 L1852.77,503.33 L1853.58,505.24 L1854.39,507.15 L1855.18,509.07 L1855.96,511 L1856.73,512.92 L1857.49,514.85 L1858.24,516.78 L1858.98,518.71 L1859.71,520.64 L1860.42,522.58 L1861.13,524.51 L1861.83,526.44 L1862.52,528.37 L1863.19,530.31 L1863.86,532.24 L1864.52,534.17 L1865.17,536.11 L1865.8,538.04 L1866.43,539.97 L1867.05,541.91 L1867.67,543.85 L1868.27,545.78 L1868.86,547.72 L1869.45,549.65 L1870.03,551.59 L1870.59,553.53 L1871.15,555.47 L1871.71,557.4 L1872.25,559.34 L1872.79,561.28 L1873.31,563.22 L1873.84,565.16 L1874.35,567.1 L1874.85,569.04 L1875.35,570.98 L1875.84,572.92 L1876.33,574.86 L1876.81,576.81 L1877.28,578.75 L1877.74,580.69 L1878.2,582.63 L1878.65,584.58 L1879.09,586.52 L1879.53,588.46 L1879.96,590.41 L1880.39,592.35 L1880.81,594.3 L1881.22,596.25 L1881.63,598.19 L1882.04,600.14 L1882.44,602.09 L1882.83,604.03 L1883.22,605.98 L1883.6,607.93 L1883.98,609.88 L1884.35,611.83 L1884.72,613.78 L1885.08,615.73 L1885.44,617.68 L1885.8,619.63 L1886.15,621.58 L1886.5,623.53 L1886.84,625.48 L1887.18,627.43 L1887.51,629.39 L1887.85,631.34 L1888.18,633.29 L1888.5,635.25 L1888.82,637.2 L1889.14,639.15 L1889.46,641.11 L1889.77,643.07 L1890.08,645.02 L1890.39,646.98 L1890.7,648.93 L1891,650.89 L1891.3,652.85 L1891.6,654.81 L1891.9,656.77 L1892.19,658.73 L1892.49,660.68 L1892.78,662.64 L1893.07,664.6 L1893.36,666.57 L1893.65,668.53 L1893.93,670.49 L1894.22,672.45 L1894.51,674.41 L1894.79,676.38 L1895.07,678.34 L1895.36,680.3 L1895.64,682.27 L1895.92,684.23 L1896.2,686.2 L1896.48,688.16 L1896.77,690.13 L1897.05,692.09 L1897.33,694.06 L1897.62,696.03 L1897.9,698 L1898.18,699.96 L1898.47,701.93 L1898.75,703.9 L1899.04,705.87 L1899.33,707.84 L1899.62,709.81 L1899.91,711.78 L1900.2,713.75 L1900.49,715.72 L1900.78,717.7 L1901.08,719.67 L1901.37,721.64 L1901.66,723.62 L1901.96,725.59 L1902.25,727.56 L1902.55,729.54 L1902.84,731.51 L1903.14,733.49 L1903.43,735.47 L1903.72,737.44 L1904.02,739.42 L1904.31,741.4 L1904.6,743.38 L1904.89,745.35 L1905.19,747.33 L1905.48,749.31 L1905.77,751.29 L1906.05,753.27 L1906.34,755.25 L1906.63,757.24 L1906.91,759.22 L1907.19,761.2 L1907.48,763.18 L1907.76,765.17 L1908.03,767.15 L1908.31,769.13 L1908.59,771.12 L1908.86,773.1 L1909.13,775.09 L1909.4,777.08 L1909.67,779.06 L1909.93,781.05 L1910.19,783.04 L1910.45,785.02 L1910.71,787.01 L1910.96,789 L1911.21,790.99 L1911.46,792.98 L1911.71,794.97 L1911.95,796.96 L1912.19,798.95 L1912.42,800.95 L1912.65,802.94 L1912.88,804.93 L1913.11,806.93 L1913.33,808.92 L1913.55,810.91 L1913.76,812.91 L1913.97,814.9 L1914.18,816.9 L1914.38,818.9 L1914.58,820.89 L1914.77,822.89 L1914.96,824.89 L1915.15,826.89 L1915.33,828.89 L1915.5,830.89 L1915.67,832.89 L1915.84,834.89 L1916,836.89 L1916.16,838.89 L1916.31,840.89 L1916.45,842.89 L1916.59,844.9 L1916.73,846.9 L1916.86,848.9 L1916.98,850.91 L1917.1,852.91 L1917.21,854.92 L1917.32,856.92 L1917.42,858.93 L1917.51,860.94 L1917.6,862.95 L1917.68,864.95 L1917.76,866.96 L1917.83,868.97 L1917.89,870.98 L1917.95,872.99 L1918,875" fill="none" stroke="#111" stroke-width="1.4"/>
<path d="M1302.5,433.66V856" stroke="#222" stroke-width="1.4"/>
<path d="M1374.8,547.15L1385.8,566.45L1363.8,566.45Z" fill="#fff" stroke="#F73232" stroke-width="1.6" stroke-linejoin="miter"/>
<path d="M1580.1,344.85L1602.1,344.85L1591.1,364.15Z" fill="#fff" stroke="#F73232" stroke-width="1.6"/>
<path d="M1587.5,338.7L1597.3,351.5L1587.5,364.3L1577.7,351.5Z" fill="#F73232" stroke="#F73232" stroke-width="1"/>
<path d="M1595.5,353.5h20 M1605.5,343.5v20 M1598.3,346.3l14.4,14.4 M1598.3,360.7l14.4,-14.4" stroke="#F73232" stroke-width="1.6" fill="none"/>
<rect x="1634.25" y="377.35" width="15.5" height="15.5" fill="#F73232" stroke="#F73232" stroke-width="1" stroke-linejoin="round"/>
<path d="M1699.7,389.25L1721.7,389.25L1710.7,408.55Z" fill="#fff" stroke="#2F9A2F" stroke-width="1.6"/>
<path d="M1735.3,388.6L1745.1,401.4L1735.3,414.2L1725.5,401.4Z" fill="#2F9A2F" stroke="#2F9A2F" stroke-width="1"/>
<path d="M1740.3,410.2h20 M1750.3,400.2v20 M1743.1,403l14.4,14.4 M1743.1,417.4l14.4,-14.4" stroke="#2F9A2F" stroke-width="1.6" fill="none"/>
<rect x="1775.15" y="447.85" width="15.5" height="15.5" fill="#2F9A2F" stroke="#2F9A2F" stroke-width="1" stroke-linejoin="round"/>
<path d="M1761.3,419.35L1783.3,419.35L1772.3,438.65Z" fill="#fff" stroke="#0A2FD0" stroke-width="1.6"/>
<path d="M1797.4,418.7L1807.2,431.5L1797.4,444.3L1787.6,431.5Z" fill="#0A2FD0" stroke="#0A2FD0" stroke-width="1"/>
<path d="M1804.9,444h20 M1814.9,434v20 M1807.7,436.8l14.4,14.4 M1807.7,451.2l14.4,-14.4" stroke="#0A2FD0" stroke-width="1.6" fill="none"/>
<rect x="1836.45" y="477.55" width="15.5" height="15.5" fill="#0A2FD0" stroke="#0A2FD0" stroke-width="1" stroke-linejoin="round"/>
</g>
<path d="M333.91,857.5v-9M333.91,29v9M397.33,857.5v-9M397.33,29v9M442.33,857.5v-9M442.33,29v9M477.23,857.5v-9M477.23,29v9M505.75,857.5v-9M505.75,29v9M529.86,857.5v-9M529.86,29v9M550.74,857.5v-9M550.74,29v9M569.16,857.5v-9M569.16,29v9M585.64,857.5v-17.5M585.64,29v17.5M694.06,857.5v-9M694.06,29v9M757.47,857.5v-9M757.47,29v9M802.47,857.5v-9M802.47,29v9M837.37,857.5v-9M837.37,29v9M865.89,857.5v-9M865.89,29v9M890,857.5v-9M890,29v9M910.88,857.5v-9M910.88,29v9M929.31,857.5v-9M929.31,29v9M945.79,857.5v-17.5M945.79,29v17.5M225.5,826.32h9M1054.2,826.32h-9M225.5,808.09h9M1054.2,808.09h-9M225.5,795.15h9M1054.2,795.15h-9M225.5,785.11h9M1054.2,785.11h-9M225.5,776.91h9M1054.2,776.91h-9M225.5,769.98h9M1054.2,769.98h-9M225.5,763.97h9M1054.2,763.97h-9M225.5,758.68h9M1054.2,758.68h-9M225.5,753.94h17.5M1054.2,753.94h-17.5M225.5,722.76h9M1054.2,722.76h-9M225.5,704.53h9M1054.2,704.53h-9M225.5,691.59h9M1054.2,691.59h-9M225.5,681.55h9M1054.2,681.55h-9M225.5,673.35h9M1054.2,673.35h-9M225.5,666.42h9M1054.2,666.42h-9M225.5,660.41h9M1054.2,660.41h-9M225.5,655.11h9M1054.2,655.11h-9M225.5,650.38h17.5M1054.2,650.38h-17.5M225.5,619.2h9M1054.2,619.2h-9M225.5,600.96h9M1054.2,600.96h-9M225.5,588.02h9M1054.2,588.02h-9M225.5,577.99h9M1054.2,577.99h-9M225.5,569.79h9M1054.2,569.79h-9M225.5,562.85h9M1054.2,562.85h-9M225.5,556.85h9M1054.2,556.85h-9M225.5,551.55h9M1054.2,551.55h-9M225.5,546.81h17.5M1054.2,546.81h-17.5M225.5,515.64h9M1054.2,515.64h-9M225.5,497.4h9M1054.2,497.4h-9M225.5,484.46h9M1054.2,484.46h-9M225.5,474.43h9M1054.2,474.43h-9M225.5,466.23h9M1054.2,466.23h-9M225.5,459.29h9M1054.2,459.29h-9M225.5,453.29h9M1054.2,453.29h-9M225.5,447.99h9M1054.2,447.99h-9M225.5,443.25h17.5M1054.2,443.25h-17.5M225.5,412.07h9M1054.2,412.07h-9M225.5,393.84h9M1054.2,393.84h-9M225.5,380.9h9M1054.2,380.9h-9M225.5,370.86h9M1054.2,370.86h-9M225.5,362.66h9M1054.2,362.66h-9M225.5,355.73h9M1054.2,355.73h-9M225.5,349.72h9M1054.2,349.72h-9M225.5,344.43h9M1054.2,344.43h-9M225.5,339.69h17.5M1054.2,339.69h-17.5M225.5,308.51h9M1054.2,308.51h-9M225.5,290.28h9M1054.2,290.28h-9M225.5,277.34h9M1054.2,277.34h-9M225.5,267.3h9M1054.2,267.3h-9M225.5,259.1h9M1054.2,259.1h-9M225.5,252.17h9M1054.2,252.17h-9M225.5,246.16h9M1054.2,246.16h-9M225.5,240.86h9M1054.2,240.86h-9M225.5,236.12h17.5M1054.2,236.12h-17.5M225.5,204.95h9M1054.2,204.95h-9M225.5,186.71h9M1054.2,186.71h-9M225.5,173.77h9M1054.2,173.77h-9M225.5,163.74h9M1054.2,163.74h-9M225.5,155.54h9M1054.2,155.54h-9M225.5,148.6h9M1054.2,148.6h-9M225.5,142.6h9M1054.2,142.6h-9M225.5,137.3h9M1054.2,137.3h-9M225.5,132.56h17.5M1054.2,132.56h-17.5M225.5,101.39h9M1054.2,101.39h-9M225.5,83.15h9M1054.2,83.15h-9M225.5,70.21h9M1054.2,70.21h-9M225.5,60.18h9M1054.2,60.18h-9M225.5,51.98h9M1054.2,51.98h-9M225.5,45.04h9M1054.2,45.04h-9M225.5,39.04h9M1054.2,39.04h-9M225.5,33.74h9M1054.2,33.74h-9" stroke="#262626" stroke-width="1.3" fill="none"/>
<rect x="225.5" y="29" width="828.7" height="828.5" fill="none" stroke="#262626" stroke-width="1.3"/>
<path d="M1341.16,856v-9M1341.16,27.5v9M1404.55,856v-9M1404.55,27.5v9M1449.52,856v-9M1449.52,27.5v9M1484.41,856v-9M1484.41,27.5v9M1512.91,856v-9M1512.91,27.5v9M1537.01,856v-9M1537.01,27.5v9M1557.88,856v-9M1557.88,27.5v9M1576.3,856v-9M1576.3,27.5v9M1592.77,856v-17.5M1592.77,27.5v17.5M1701.13,856v-9M1701.13,27.5v9M1764.52,856v-9M1764.52,27.5v9M1809.49,856v-9M1809.49,27.5v9M1844.38,856v-9M1844.38,27.5v9M1872.88,856v-9M1872.88,27.5v9M1896.98,856v-9M1896.98,27.5v9M1917.85,856v-9M1917.85,27.5v9M1936.27,856v-9M1936.27,27.5v9M1952.74,856v-17.5M1952.74,27.5v17.5M1232.8,824.82h9M2061.1,824.82h-9M1232.8,806.59h9M2061.1,806.59h-9M1232.8,793.65h9M2061.1,793.65h-9M1232.8,783.61h9M2061.1,783.61h-9M1232.8,775.41h9M2061.1,775.41h-9M1232.8,768.48h9M2061.1,768.48h-9M1232.8,762.47h9M2061.1,762.47h-9M1232.8,757.18h9M2061.1,757.18h-9M1232.8,752.44h17.5M2061.1,752.44h-17.5M1232.8,721.26h9M2061.1,721.26h-9M1232.8,703.03h9M2061.1,703.03h-9M1232.8,690.09h9M2061.1,690.09h-9M1232.8,680.05h9M2061.1,680.05h-9M1232.8,671.85h9M2061.1,671.85h-9M1232.8,664.92h9M2061.1,664.92h-9M1232.8,658.91h9M2061.1,658.91h-9M1232.8,653.61h9M2061.1,653.61h-9M1232.8,648.88h17.5M2061.1,648.88h-17.5M1232.8,617.7h9M2061.1,617.7h-9M1232.8,599.46h9M2061.1,599.46h-9M1232.8,586.52h9M2061.1,586.52h-9M1232.8,576.49h9M2061.1,576.49h-9M1232.8,568.29h9M2061.1,568.29h-9M1232.8,561.35h9M2061.1,561.35h-9M1232.8,555.35h9M2061.1,555.35h-9M1232.8,550.05h9M2061.1,550.05h-9M1232.8,545.31h17.5M2061.1,545.31h-17.5M1232.8,514.14h9M2061.1,514.14h-9M1232.8,495.9h9M2061.1,495.9h-9M1232.8,482.96h9M2061.1,482.96h-9M1232.8,472.93h9M2061.1,472.93h-9M1232.8,464.73h9M2061.1,464.73h-9M1232.8,457.79h9M2061.1,457.79h-9M1232.8,451.79h9M2061.1,451.79h-9M1232.8,446.49h9M2061.1,446.49h-9M1232.8,441.75h17.5M2061.1,441.75h-17.5M1232.8,410.57h9M2061.1,410.57h-9M1232.8,392.34h9M2061.1,392.34h-9M1232.8,379.4h9M2061.1,379.4h-9M1232.8,369.36h9M2061.1,369.36h-9M1232.8,361.16h9M2061.1,361.16h-9M1232.8,354.23h9M2061.1,354.23h-9M1232.8,348.22h9M2061.1,348.22h-9M1232.8,342.93h9M2061.1,342.93h-9M1232.8,338.19h17.5M2061.1,338.19h-17.5M1232.8,307.01h9M2061.1,307.01h-9M1232.8,288.78h9M2061.1,288.78h-9M1232.8,275.84h9M2061.1,275.84h-9M1232.8,265.8h9M2061.1,265.8h-9M1232.8,257.6h9M2061.1,257.6h-9M1232.8,250.67h9M2061.1,250.67h-9M1232.8,244.66h9M2061.1,244.66h-9M1232.8,239.36h9M2061.1,239.36h-9M1232.8,234.62h17.5M2061.1,234.62h-17.5M1232.8,203.45h9M2061.1,203.45h-9M1232.8,185.21h9M2061.1,185.21h-9M1232.8,172.27h9M2061.1,172.27h-9M1232.8,162.24h9M2061.1,162.24h-9M1232.8,154.04h9M2061.1,154.04h-9M1232.8,147.1h9M2061.1,147.1h-9M1232.8,141.1h9M2061.1,141.1h-9M1232.8,135.8h9M2061.1,135.8h-9M1232.8,131.06h17.5M2061.1,131.06h-17.5M1232.8,99.89h9M2061.1,99.89h-9M1232.8,81.65h9M2061.1,81.65h-9M1232.8,68.71h9M2061.1,68.71h-9M1232.8,58.68h9M2061.1,58.68h-9M1232.8,50.48h9M2061.1,50.48h-9M1232.8,43.54h9M2061.1,43.54h-9M1232.8,37.54h9M2061.1,37.54h-9M1232.8,32.24h9M2061.1,32.24h-9" stroke="#262626" stroke-width="1.3" fill="none"/>
<rect x="1232.8" y="27.5" width="828.3" height="828.5" fill="none" stroke="#262626" stroke-width="1.3"/>
<text x="121.38" y="883" clip-path="url(#k1)" style="font-family:'Liberation Sans',Arial,Helvetica,sans-serif;fill:#262626;font-size:48.5px">1</text>
<text x="148.35" y="883" style="font-family:'Liberation Sans',Arial,Helvetica,sans-serif;fill:#262626;font-size:48.5px">0</text>
<text x="175.32" y="858.5" style="font-family:'Liberation Sans',Arial,Helvetica,sans-serif;fill:#262626;font-size:39px">-</text>
<text x="188.31" y="858.5" style="font-family:'Liberation Sans',Arial,Helvetica,sans-serif;fill:#262626;font-size:39px">6</text>
<text x="121.38" y="779.44" clip-path="url(#k2)" style="font-family:'Liberation Sans',Arial,Helvetica,sans-serif;fill:#262626;font-size:48.5px">1</text>
<text x="148.35" y="779.44" style="font-family:'Liberation Sans',Arial,Helvetica,sans-serif;fill:#262626;font-size:48.5px">0</text>
<text x="175.32" y="754.94" style="font-family:'Liberation Sans',Arial,Helvetica,sans-serif;fill:#262626;font-size:39px">-</text>
<text x="188.31" y="754.94" style="font-family:'Liberation Sans',Arial,Helvetica,sans-serif;fill:#262626;font-size:39px">5</text>
<text x="121.38" y="675.88" clip-path="url(#k3)" style="font-family:'Liberation Sans',Arial,Helvetica,sans-serif;fill:#262626;font-size:48.5px">1</text>
<text x="148.35" y="675.88" style="font-family:'Liberation Sans',Arial,Helvetica,sans-serif;fill:#262626;font-size:48.5px">0</text>
<text x="175.32" y="651.38" style="font-family:'Liberation Sans',Arial,Helvetica,sans-serif;fill:#262626;font-size:39px">-</text>
<text x="188.31" y="651.38" style="font-family:'Liberation Sans',Arial,Helvetica,sans-serif;fill:#262626;font-size:39px">4</text>
<text x="121.38" y="572.31" clip-path="url(#k4)" style="font-family:'Liberation Sans',Arial,Helvetica,sans-serif;fill:#262626;font-size:48.5px">1</text>
<text x="148.35" y="572.31" style="font-family:'Liberation Sans',Arial,Helvetica,sans-serif;fill:#262626;font-size:48.5px">0</text>
<text x="175.32" y="547.81" style="font-family:'Liberation Sans',Arial,Helvetica,sans-serif;fill:#262626;font-size:39px">-</text>
<text x="188.31" y="547.81" style="font-family:'Liberation Sans',Arial,Helvetica,sans-serif;fill:#262626;font-size:39px">3</text>
<text x="121.38" y="468.75" clip-path="url(#k5)" style="font-family:'Liberation Sans',Arial,Helvetica,sans-serif;fill:#262626;font-size:48.5px">1</text>
<text x="148.35" y="468.75" style="font-family:'Liberation Sans',Arial,Helvetica,sans-serif;fill:#262626;font-size:48.5px">0</text>
<text x="175.32" y="444.25" style="font-family:'Liberation Sans',Arial,Helvetica,sans-serif;fill:#262626;font-size:39px">-</text>
<text x="188.31" y="444.25" style="font-family:'Liberation Sans',Arial,Helvetica,sans-serif;fill:#262626;font-size:39px">2</text>
<text x="121.38" y="365.19" clip-path="url(#k6)" style="font-family:'Liberation Sans',Arial,Helvetica,sans-serif;fill:#262626;font-size:48.5px">1</text>
<text x="148.35" y="365.19" style="font-family:'Liberation Sans',Arial,Helvetica,sans-serif;fill:#262626;font-size:48.5px">0</text>
<text x="175.32" y="340.69" style="font-family:'Liberation Sans',Arial,Helvetica,sans-serif;fill:#262626;font-size:39px">-</text>
<text x="188.31" y="340.69" clip-path="url(#k7)" style="font-family:'Liberation Sans',Arial,Helvetica,sans-serif;fill:#262626;font-size:39px">1</text>
<text x="134.36" y="261.62" clip-path="url(#k8)" style="font-family:'Liberation Sans',Arial,Helvetica,sans-serif;fill:#262626;font-size:48.5px">1</text>
<text x="161.34" y="261.62" style="font-family:'Liberation Sans',Arial,Helvetica,sans-serif;fill:#262626;font-size:48.5px">0</text>
<text x="188.31" y="237.12" style="font-family:'Liberation Sans',Arial,Helvetica,sans-serif;fill:#262626;font-size:39px">0</text>
<text x="134.36" y="158.06" clip-path="url(#k9)" style="font-family:'Liberation Sans',Arial,Helvetica,sans-serif;fill:#262626;font-size:48.5px">1</text>
<text x="161.34" y="158.06" style="font-family:'Liberation Sans',Arial,Helvetica,sans-serif;fill:#262626;font-size:48.5px">0</text>
<text x="188.31" y="133.56" clip-path="url(#k10)" style="font-family:'Liberation Sans',Arial,Helvetica,sans-serif;fill:#262626;font-size:39px">1</text>
<text x="134.36" y="54.5" clip-path="url(#k11)" style="font-family:'Liberation Sans',Arial,Helvetica,sans-serif;fill:#262626;font-size:48.5px">1</text>
<text x="161.34" y="54.5" style="font-family:'Liberation Sans',Arial,Helvetica,sans-serif;fill:#262626;font-size:48.5px">0</text>
<text x="188.31" y="30" style="font-family:'Liberation Sans',Arial,Helvetica,sans-serif;fill:#262626;font-size:39px">2</text>
<text x="187.68" y="933" clip-path="url(#k12)" style="font-family:'Liberation Sans',Arial,Helvetica,sans-serif;fill:#262626;font-size:48.5px">1</text>
<text x="214.66" y="933" style="font-family:'Liberation Sans',Arial,Helvetica,sans-serif;fill:#262626;font-size:48.5px">0</text>
<text x="241.63" y="909" style="font-family:'Liberation Sans',Arial,Helvetica,sans-serif;fill:#262626;font-size:39px">0</text>
<text x="547.82" y="933" clip-path="url(#k13)" style="font-family:'Liberation Sans',Arial,Helvetica,sans-serif;fill:#262626;font-size:48.5px">1</text>
<text x="574.8" y="933" style="font-family:'Liberation Sans',Arial,Helvetica,sans-serif;fill:#262626;font-size:48.5px">0</text>
<text x="601.77" y="909" clip-path="url(#k14)" style="font-family:'Liberation Sans',Arial,Helvetica,sans-serif;fill:#262626;font-size:39px">1</text>
<text x="907.97" y="933" clip-path="url(#k15)" style="font-family:'Liberation Sans',Arial,Helvetica,sans-serif;fill:#262626;font-size:48.5px">1</text>
<text x="934.94" y="933" style="font-family:'Liberation Sans',Arial,Helvetica,sans-serif;fill:#262626;font-size:48.5px">0</text>
<text x="961.91" y="909" style="font-family:'Liberation Sans',Arial,Helvetica,sans-serif;fill:#262626;font-size:39px">2</text>
<text x="1128.68" y="881.5" clip-path="url(#k16)" style="font-family:'Liberation Sans',Arial,Helvetica,sans-serif;fill:#262626;font-size:48.5px">1</text>
<text x="1155.65" y="881.5" style="font-family:'Liberation Sans',Arial,Helvetica,sans-serif;fill:#262626;font-size:48.5px">0</text>
<text x="1182.62" y="857" style="font-family:'Liberation Sans',Arial,Helvetica,sans-serif;fill:#262626;font-size:39px">-</text>
<text x="1195.61" y="857" style="font-family:'Liberation Sans',Arial,Helvetica,sans-serif;fill:#262626;font-size:39px">6</text>
<text x="1128.68" y="777.94" clip-path="url(#k17)" style="font-family:'Liberation Sans',Arial,Helvetica,sans-serif;fill:#262626;font-size:48.5px">1</text>
<text x="1155.65" y="777.94" style="font-family:'Liberation Sans',Arial,Helvetica,sans-serif;fill:#262626;font-size:48.5px">0</text>
<text x="1182.62" y="753.44" style="font-family:'Liberation Sans',Arial,Helvetica,sans-serif;fill:#262626;font-size:39px">-</text>
<text x="1195.61" y="753.44" style="font-family:'Liberation Sans',Arial,Helvetica,sans-serif;fill:#262626;font-size:39px">5</text>
<text x="1128.68" y="674.38" clip-path="url(#k18)" style="font-family:'Liberation Sans',Arial,Helvetica,sans-serif;fill:#262626;font-size:48.5px">1</text>
<text x="1155.65" y="674.38" style="font-family:'Liberation Sans',Arial,Helvetica,sans-serif;fill:#262626;font-size:48.5px">0</text>
<text x="1182.62" y="649.88" style="font-family:'Liberation Sans',Arial,Helvetica,sans-serif;fill:#262626;font-size:39px">-</text>
<text x="1195.61" y="649.88" style="font-family:'Liberation Sans',Arial,Helvetica,sans-serif;fill:#262626;font-size:39px">4</text>
<text x="1128.68" y="570.81" clip-path="url(#k19)" style="font-family:'Liberation Sans',Arial,Helvetica,sans-serif;fill:#262626;font-size:48.5px">1</text>
<text x="1155.65" y="570.81" style="font-family:'Liberation Sans',Arial,Helvetica,sans-serif;fill:#262626;font-size:48.5px">0</text>
<text x="1182.62" y="546.31" style="font-family:'Liberation Sans',Arial,Helvetica,sans-serif;fill:#262626;font-size:39px">-</text>
<text x="1195.61" y="546.31" style="font-family:'Liberation Sans',Arial,Helvetica,sans-serif;fill:#262626;font-size:39px">3</text>
<text x="1128.68" y="467.25" clip-path="url(#k20)" style="font-family:'Liberation Sans',Arial,Helvetica,sans-serif;fill:#262626;font-size:48.5px">1</text>
<text x="1155.65" y="467.25" style="font-family:'Liberation Sans',Arial,Helvetica,sans-serif;fill:#262626;font-size:48.5px">0</text>
<text x="1182.62" y="442.75" style="font-family:'Liberation Sans',Arial,Helvetica,sans-serif;fill:#262626;font-size:39px">-</text>
<text x="1195.61" y="442.75" style="font-family:'Liberation Sans',Arial,Helvetica,sans-serif;fill:#262626;font-size:39px">2</text>
<text x="1128.68" y="363.69" clip-path="url(#k21)" style="font-family:'Liberation Sans',Arial,Helvetica,sans-serif;fill:#262626;font-size:48.5px">1</text>
<text x="1155.65" y="363.69" style="font-family:'Liberation Sans',Arial,Helvetica,sans-serif;fill:#262626;font-size:48.5px">0</text>
<text x="1182.62" y="339.19" style="font-family:'Liberation Sans',Arial,Helvetica,sans-serif;fill:#262626;font-size:39px">-</text>
<text x="1195.61" y="339.19" clip-path="url(#k22)" style="font-family:'Liberation Sans',Arial,Helvetica,sans-serif;fill:#262626;font-size:39px">1</text>
<text x="1141.66" y="260.12" clip-path="url(#k23)" style="font-family:'Liberation Sans',Arial,Helvetica,sans-serif;fill:#262626;font-size:48.5px">1</text>
<text x="1168.64" y="260.12" style="font-family:'Liberation Sans',Arial,Helvetica,sans-serif;fill:#262626;font-size:48.5px">0</text>
<text x="1195.61" y="235.62" style="font-family:'Liberation Sans',Arial,Helvetica,sans-serif;fill:#262626;font-size:39px">0</text>
<text x="1141.66" y="156.56" clip-path="url(#k24)" style="font-family:'Liberation Sans',Arial,Helvetica,sans-serif;fill:#262626;font-size:48.5px">1</text>
<text x="1168.64" y="156.56" style="font-family:'Liberation Sans',Arial,Helvetica,sans-serif;fill:#262626;font-size:48.5px">0</text>
<text x="1195.61" y="132.06" clip-path="url(#k25)" style="font-family:'Liberation Sans',Arial,Helvetica,sans-serif;fill:#262626;font-size:39px">1</text>
<text x="1141.66" y="53" clip-path="url(#k26)" style="font-family:'Liberation Sans',Arial,Helvetica,sans-serif;fill:#262626;font-size:48.5px">1</text>
<text x="1168.64" y="53" style="font-family:'Liberation Sans',Arial,Helvetica,sans-serif;fill:#262626;font-size:48.5px">0</text>
<text x="1195.61" y="28.5" style="font-family:'Liberation Sans',Arial,Helvetica,sans-serif;fill:#262626;font-size:39px">2</text>
<text x="1194.98" y="931.5" clip-path="url(#k27)" style="font-family:'Liberation Sans',Arial,Helvetica,sans-serif;fill:#262626;font-size:48.5px">1</text>
<text x="1221.96" y="931.5" style="font-family:'Liberation Sans',Arial,Helvetica,sans-serif;fill:#262626;font-size:48.5px">0</text>
<text x="1248.93" y="907.5" style="font-family:'Liberation Sans',Arial,Helvetica,sans-serif;fill:#262626;font-size:39px">0</text>
<text x="1554.95" y="931.5" clip-path="url(#k28)" style="font-family:'Liberation Sans',Arial,Helvetica,sans-serif;fill:#262626;font-size:48.5px">1</text>
<text x="1581.92" y="931.5" style="font-family:'Liberation Sans',Arial,Helvetica,sans-serif;fill:#262626;font-size:48.5px">0</text>
<text x="1608.9" y="907.5" clip-path="url(#k29)" style="font-family:'Liberation Sans',Arial,Helvetica,sans-serif;fill:#262626;font-size:39px">1</text>
<text x="1914.92" y="931.5" clip-path="url(#k30)" style="font-family:'Liberation Sans',Arial,Helvetica,sans-serif;fill:#262626;font-size:48.5px">1</text>
<text x="1941.89" y="931.5" style="font-family:'Liberation Sans',Arial,Helvetica,sans-serif;fill:#262626;font-size:48.5px">0</text>
<text x="1968.87" y="907.5" style="font-family:'Liberation Sans',Arial,Helvetica,sans-serif;fill:#262626;font-size:39px">2</text>
<text x="255.8" y="94" style="font-family:'Liberation Sans',Arial,Helvetica,sans-serif;font-size:52px">(a)</text>
<text x="340.7" y="94.8" style="font-family:'Liberation Sans',Arial,Helvetica,sans-serif;font-size:47px">Collision controlled</text>
<text x="1285.7" y="94" style="font-family:'Liberation Sans',Arial,Helvetica,sans-serif;font-size:52.4px">(b)</text>
<text transform="translate(1373.45,94.2) scale(1.19,1)" style="font-family:'Liberation Serif','Times New Roman',serif;font-size:47px;font-style:italic">E</text>
<text transform="translate(1420.38,97) scale(1.46,1)" style="font-family:'Liberation Serif','Times New Roman',serif;font-size:47px">=</text>
<text y="94.2" style="font-family:'Liberation Serif','Times New Roman',serif;font-size:47px"><tspan x="1471.5">1</tspan></text>
<text y="100.6" style="font-family:'Liberation Serif','Times New Roman',serif;font-size:55px"><tspan x="1508.15">×</tspan></text>
<text y="94.2" style="font-family:'Liberation Serif','Times New Roman',serif;font-size:47px"><tspan x="1552.2">10</tspan></text>
<text transform="translate(1599.37,76.8) scale(1.6,1)" style="font-family:'Liberation Serif','Times New Roman',serif;font-size:33px">−</text>
<text y="75.3" style="font-family:'Liberation Serif','Times New Roman',serif;font-size:33px"><tspan x="1627.8">3</tspan></text>
<path d="M808.5,81.8H881.1" stroke="#F73232" stroke-width="5"/>
<path d="M808.5,129.5H881.1" stroke="#2F9A2F" stroke-width="5" stroke-dasharray="18.4 18.6"/>
<path d="M808.5,177.5H881.1" stroke="#0A2FD0" stroke-width="5" stroke-dasharray="18.4 4.9 9 4.8"/>
<text transform="translate(887.98,91.9) scale(1.3,1)" style="font-family:'Liberation Serif','Times New Roman',serif;font-size:39.3px;font-style:italic">τ</text>
<text transform="translate(919.41,94.9) scale(1.426,1)" style="font-family:'Liberation Serif','Times New Roman',serif;font-size:39.3px">=</text>
<text y="91.9" style="font-family:'Liberation Serif','Times New Roman',serif;font-size:39.3px"><tspan x="961">20</tspan></text>
<text transform="translate(887.98,139.8) scale(1.3,1)" style="font-family:'Liberation Serif','Times New Roman',serif;font-size:39.3px;font-style:italic">τ</text>
<text transform="translate(919.41,142.8) scale(1.426,1)" style="font-family:'Liberation Serif','Times New Roman',serif;font-size:39.3px">=</text>
<text y="139.8" style="font-family:'Liberation Serif','Times New Roman',serif;font-size:39.3px"><tspan x="961">60</tspan></text>
<text transform="translate(887.98,187.7) scale(1.3,1)" style="font-family:'Liberation Serif','Times New Roman',serif;font-size:39.3px;font-style:italic">τ</text>
<text transform="translate(919.41,190.7) scale(1.426,1)" style="font-family:'Liberation Serif','Times New Roman',serif;font-size:39.3px">=</text>
<text y="187.7" style="font-family:'Liberation Serif','Times New Roman',serif;font-size:39.3px"><tspan x="961">100</tspan></text>
<path d="M844.8,214.35L855.8,233.65L833.8,233.65Z" fill="#fff" stroke="#0A2FD0" stroke-width="1.6" stroke-linejoin="miter"/>
<path d="M833.8,271.35L855.8,271.35L844.8,290.65Z" fill="#fff" stroke="#0A2FD0" stroke-width="1.6"/>
<path d="M844.8,316.5L854.8,329.4L844.8,342.3L834.8,329.4Z" fill="#0A2FD0" stroke="#0A2FD0" stroke-width="1"/>
<rect x="836.8" y="372.6" width="16" height="16" fill="#0A2FD0" stroke="#0A2FD0" stroke-width="1" stroke-linejoin="round"/>
<path d="M834.8,432.6h20 M844.8,422.6v20 M837.6,425.4l14.4,14.4 M837.6,439.8l14.4,-14.4" stroke="#0A2FD0" stroke-width="1.6" fill="none"/>
<text y="238.5" style="font-family:'Liberation Serif','Times New Roman',serif;font-size:39.3px"><tspan x="888.3" style="font-style:italic">d</tspan></text>
<text y="227" style="font-family:'Liberation Serif','Times New Roman',serif;font-size:37px"><tspan x="898.4">˜</tspan></text>
<text transform="translate(908.66,244.1) scale(1.1,1)" style="font-family:'Liberation Serif','Times New Roman',serif;font-size:28.5px"><tspan style="font-style:italic">p,min</tspan></text>
<text y="289.6" style="font-family:'Liberation Serif','Times New Roman',serif;font-size:39.3px"><tspan x="888.3" style="font-style:italic">d</tspan></text>
<text y="278.1" style="font-family:'Liberation Serif','Times New Roman',serif;font-size:37px"><tspan x="898.4">˜</tspan></text>
<text transform="translate(908.52,295.2) scale(1.01,1)" style="font-family:'Liberation Serif','Times New Roman',serif;font-size:28.5px"><tspan style="font-style:italic">p,mode</tspan></text>
<text y="340.8" style="font-family:'Liberation Serif','Times New Roman',serif;font-size:39.3px"><tspan x="888.3" style="font-style:italic">d</tspan></text>
<text y="329.3" style="font-family:'Liberation Serif','Times New Roman',serif;font-size:37px"><tspan x="898.4">˜</tspan></text>
<text transform="translate(908.52,346.4) scale(1.01,1)" style="font-family:'Liberation Serif','Times New Roman',serif;font-size:28.5px"><tspan style="font-style:italic">p,sr</tspan><tspan>100</tspan></text>
<text y="391" style="font-family:'Liberation Serif','Times New Roman',serif;font-size:39.3px"><tspan x="888.3" style="font-style:italic">d</tspan></text>
<text y="379.5" style="font-family:'Liberation Serif','Times New Roman',serif;font-size:37px"><tspan x="898.4">˜</tspan></text>
<text transform="translate(908.54,396.6) scale(1.02,1)" style="font-family:'Liberation Serif','Times New Roman',serif;font-size:28.5px"><tspan style="font-style:italic">p,sr</tspan><tspan>50</tspan></text>
<text y="441.8" style="font-family:'Liberation Serif','Times New Roman',serif;font-size:39.3px"><tspan x="888.3" style="font-style:italic">d</tspan></text>
<text y="430.3" style="font-family:'Liberation Serif','Times New Roman',serif;font-size:37px"><tspan x="898.4">˜</tspan></text>
<text transform="translate(908.51,447.4) scale(1.01,1)" style="font-family:'Liberation Serif','Times New Roman',serif;font-size:28.5px"><tspan style="font-style:italic">p,tot</tspan><tspan>50</tspan></text>
<path d="M1815.8,80.3H1888.4" stroke="#F73232" stroke-width="5"/>
<path d="M1815.8,128H1888.4" stroke="#2F9A2F" stroke-width="5" stroke-dasharray="18.4 18.6"/>
<path d="M1815.8,176H1888.4" stroke="#0A2FD0" stroke-width="5" stroke-dasharray="18.4 4.9 9 4.8"/>
<text transform="translate(1895.28,90.4) scale(1.3,1)" style="font-family:'Liberation Serif','Times New Roman',serif;font-size:39.3px;font-style:italic">τ</text>
<text transform="translate(1926.71,93.4) scale(1.426,1)" style="font-family:'Liberation Serif','Times New Roman',serif;font-size:39.3px">=</text>
<text y="90.4" style="font-family:'Liberation Serif','Times New Roman',serif;font-size:39.3px"><tspan x="1968.3">20</tspan></text>
<text transform="translate(1895.28,138.3) scale(1.3,1)" style="font-family:'Liberation Serif','Times New Roman',serif;font-size:39.3px;font-style:italic">τ</text>
<text transform="translate(1926.71,141.3) scale(1.426,1)" style="font-family:'Liberation Serif','Times New Roman',serif;font-size:39.3px">=</text>
<text y="138.3" style="font-family:'Liberation Serif','Times New Roman',serif;font-size:39.3px"><tspan x="1968.3">60</tspan></text>
<text transform="translate(1895.28,186.2) scale(1.3,1)" style="font-family:'Liberation Serif','Times New Roman',serif;font-size:39.3px;font-style:italic">τ</text>
<text transform="translate(1926.71,189.2) scale(1.426,1)" style="font-family:'Liberation Serif','Times New Roman',serif;font-size:39.3px">=</text>
<text y="186.2" style="font-family:'Liberation Serif','Times New Roman',serif;font-size:39.3px"><tspan x="1968.3">100</tspan></text>
<path d="M1852.1,212.85L1863.1,232.15L1841.1,232.15Z" fill="#fff" stroke="#0A2FD0" stroke-width="1.6" stroke-linejoin="miter"/>
<path d="M1841.1,269.85L1863.1,269.85L1852.1,289.15Z" fill="#fff" stroke="#0A2FD0" stroke-width="1.6"/>
<path d="M1852.1,315L1862.1,327.9L1852.1,340.8L1842.1,327.9Z" fill="#0A2FD0" stroke="#0A2FD0" stroke-width="1"/>
<rect x="1844.1" y="371.1" width="16" height="16" fill="#0A2FD0" stroke="#0A2FD0" stroke-width="1" stroke-linejoin="round"/>
<path d="M1842.1,431.1h20 M1852.1,421.1v20 M1844.9,423.9l14.4,14.4 M1844.9,438.3l14.4,-14.4" stroke="#0A2FD0" stroke-width="1.6" fill="none"/>
<text y="237" style="font-family:'Liberation Serif','Times New Roman',serif;font-size:39.3px"><tspan x="1895.6" style="font-style:italic">d</tspan></text>
<text y="225.5" style="font-family:'Liberation Serif','Times New Roman',serif;font-size:37px"><tspan x="1905.7">˜</tspan></text>
<text transform="translate(1915.96,242.6) scale(1.1,1)" style="font-family:'Liberation Serif','Times New Roman',serif;font-size:28.5px"><tspan style="font-style:italic">p,min</tspan></text>
<text y="288.1" style="font-family:'Liberation Serif','Times New Roman',serif;font-size:39.3px"><tspan x="1895.6" style="font-style:italic">d</tspan></text>
<text y="276.6" style="font-family:'Liberation Serif','Times New Roman',serif;font-size:37px"><tspan x="1905.7">˜</tspan></text>
<text transform="translate(1915.82,293.7) scale(1.01,1)" style="font-family:'Liberation Serif','Times New Roman',serif;font-size:28.5px"><tspan style="font-style:italic">p,mode</tspan></text>
<text y="339.3" style="font-family:'Liberation Serif','Times New Roman',serif;font-size:39.3px"><tspan x="1895.6" style="font-style:italic">d</tspan></text>
<text y="327.8" style="font-family:'Liberation Serif','Times New Roman',serif;font-size:37px"><tspan x="1905.7">˜</tspan></text>
<text transform="translate(1915.82,344.9) scale(1.01,1)" style="font-family:'Liberation Serif','Times New Roman',serif;font-size:28.5px"><tspan style="font-style:italic">p,sr</tspan><tspan>100</tspan></text>
<text y="389.5" style="font-family:'Liberation Serif','Times New Roman',serif;font-size:39.3px"><tspan x="1895.6" style="font-style:italic">d</tspan></text>
<text y="378" style="font-family:'Liberation Serif','Times New Roman',serif;font-size:37px"><tspan x="1905.7">˜</tspan></text>
<text transform="translate(1915.84,395.1) scale(1.02,1)" style="font-family:'Liberation Serif','Times New Roman',serif;font-size:28.5px"><tspan style="font-style:italic">p,sr</tspan><tspan>50</tspan></text>
<text y="440.3" style="font-family:'Liberation Serif','Times New Roman',serif;font-size:39.3px"><tspan x="1895.6" style="font-style:italic">d</tspan></text>
<text y="428.8" style="font-family:'Liberation Serif','Times New Roman',serif;font-size:37px"><tspan x="1905.7">˜</tspan></text>
<text transform="translate(1915.81,445.9) scale(1.01,1)" style="font-family:'Liberation Serif','Times New Roman',serif;font-size:28.5px"><tspan style="font-style:italic">p,tot</tspan><tspan>50</tspan></text>
<text y="1016" style="font-family:'Liberation Serif','Times New Roman',serif;stroke:#fff;stroke-width:0.8px;font-size:77.5px"><tspan x="1085.5" style="font-style:italic">d</tspan></text>
<text y="997.2" style="font-family:'Liberation Serif','Times New Roman',serif;font-size:80.7px"><tspan x="1104.1">˜</tspan></text>
<text y="1026.5" style="font-family:'Liberation Serif','Times New Roman',serif;font-size:54px"><tspan x="1130" style="font-style:italic">p</tspan></text>
<text transform="translate(59.5,605.48) rotate(-90)" style="font-family:'Liberation Serif','Times New Roman',serif;stroke:#fff;stroke-width:0.8px;font-size:62px;font-style:italic">d</text>
<text transform="translate(59.5,569.17) rotate(-90) scale(1.13,1)" style="font-family:'Liberation Serif','Times New Roman',serif;stroke:#fff;stroke-width:0.8px;font-size:64px;font-style:italic">N</text>
<text transform="translate(30.9,549.26) rotate(-90) scale(1,0.7)" style="font-family:'Liberation Serif','Times New Roman',serif;stroke:#fff;stroke-width:0.8px;font-size:64px">˜</text>
<text transform="translate(74.2,511.9) rotate(-90)" style="font-family:'Liberation Serif','Times New Roman',serif;stroke:#fff;stroke-width:0.8px;font-size:92px">/</text>
<text transform="translate(59.5,482.78) rotate(-90)" style="font-family:'Liberation Serif','Times New Roman',serif;stroke:#fff;stroke-width:0.8px;font-size:62px;font-style:italic">d</text>
<text transform="translate(59.5,450.6) rotate(-90)" style="font-family:'Liberation Serif','Times New Roman',serif;stroke:#fff;stroke-width:0.8px;font-size:62px;font-style:italic">l</text>
<text transform="translate(59.5,428.65) rotate(-90)" style="font-family:'Liberation Serif','Times New Roman',serif;stroke:#fff;stroke-width:0.8px;font-size:62px;font-style:italic">o</text>
<text transform="translate(59.5,397.93) rotate(-90)" style="font-family:'Liberation Serif','Times New Roman',serif;stroke:#fff;stroke-width:0.8px;font-size:62px;font-style:italic">g</text>
<text transform="translate(69,366.89) rotate(-90)" style="font-family:'Liberation Serif','Times New Roman',serif;font-size:42px">1</text>
<text transform="translate(69,342.7) rotate(-90)" style="font-family:'Liberation Serif','Times New Roman',serif;font-size:42px">0</text>
<text transform="translate(59.5,314.08) rotate(-90)" style="font-family:'Liberation Serif','Times New Roman',serif;stroke:#fff;stroke-width:0.8px;font-size:62px;font-style:italic">d</text>
<text transform="translate(30.9,297.58) rotate(-90) scale(1,0.7)" style="font-family:'Liberation Serif','Times New Roman',serif;stroke:#fff;stroke-width:0.8px;font-size:66px">˜</text>
<text transform="translate(69.5,277.12) rotate(-90)" style="font-family:'Liberation Serif','Times New Roman',serif;font-size:44px;font-style:italic">p</text>
<defs><clipPath id="k1"><rect x="119.38" y="834.5" width="29.1" height="43.88"/><rect x="133.57" y="878.38" width="4.29" height="5.62"/></clipPath><clipPath id="k2"><rect x="119.38" y="730.94" width="29.1" height="43.88"/><rect x="133.57" y="774.81" width="4.29" height="5.62"/></clipPath><clipPath id="k3"><rect x="119.38" y="627.38" width="29.1" height="43.88"/><rect x="133.57" y="671.25" width="4.29" height="5.62"/></clipPath><clipPath id="k4"><rect x="119.38" y="523.81" width="29.1" height="43.88"/><rect x="133.57" y="567.69" width="4.29" height="5.62"/></clipPath><clipPath id="k5"><rect x="119.38" y="420.25" width="29.1" height="43.88"/><rect x="133.57" y="464.13" width="4.29" height="5.62"/></clipPath><clipPath id="k6"><rect x="119.38" y="316.69" width="29.1" height="43.88"/><rect x="133.57" y="360.56" width="4.29" height="5.62"/></clipPath><clipPath id="k7"><rect x="186.31" y="301.69" width="23.4" height="35.09"/><rect x="198.12" y="336.77" width="3.45" height="4.91"/></clipPath><clipPath id="k8"><rect x="132.36" y="213.12" width="29.1" height="43.88"/><rect x="146.56" y="257" width="4.29" height="5.62"/></clipPath><clipPath id="k9"><rect x="132.36" y="109.56" width="29.1" height="43.88"/><rect x="146.56" y="153.44" width="4.29" height="5.62"/></clipPath><clipPath id="k10"><rect x="186.31" y="94.56" width="23.4" height="35.09"/><rect x="198.12" y="129.65" width="3.45" height="4.91"/></clipPath><clipPath id="k11"><rect x="132.36" y="6" width="29.1" height="43.88"/><rect x="146.56" y="49.88" width="4.29" height="5.62"/></clipPath><clipPath id="k12"><rect x="185.68" y="884.5" width="29.1" height="43.88"/><rect x="199.88" y="928.38" width="4.29" height="5.62"/></clipPath><clipPath id="k13"><rect x="545.82" y="884.5" width="29.1" height="43.88"/><rect x="560.02" y="928.38" width="4.29" height="5.62"/></clipPath><clipPath id="k14"><rect x="599.77" y="870" width="23.4" height="35.09"/><rect x="611.58" y="905.09" width="3.45" height="4.91"/></clipPath><clipPath id="k15"><rect x="905.97" y="884.5" width="29.1" height="43.88"/><rect x="920.16" y="928.38" width="4.29" height="5.62"/></clipPath><clipPath id="k16"><rect x="1126.68" y="833" width="29.1" height="43.88"/><rect x="1140.87" y="876.88" width="4.29" height="5.62"/></clipPath><clipPath id="k17"><rect x="1126.68" y="729.44" width="29.1" height="43.88"/><rect x="1140.87" y="773.31" width="4.29" height="5.62"/></clipPath><clipPath id="k18"><rect x="1126.68" y="625.88" width="29.1" height="43.88"/><rect x="1140.87" y="669.75" width="4.29" height="5.62"/></clipPath><clipPath id="k19"><rect x="1126.68" y="522.31" width="29.1" height="43.88"/><rect x="1140.87" y="566.19" width="4.29" height="5.62"/></clipPath><clipPath id="k20"><rect x="1126.68" y="418.75" width="29.1" height="43.88"/><rect x="1140.87" y="462.63" width="4.29" height="5.62"/></clipPath><clipPath id="k21"><rect x="1126.68" y="315.19" width="29.1" height="43.88"/><rect x="1140.87" y="359.06" width="4.29" height="5.62"/></clipPath><clipPath id="k22"><rect x="1193.61" y="300.19" width="23.4" height="35.09"/><rect x="1205.42" y="335.27" width="3.45" height="4.91"/></clipPath><clipPath id="k23"><rect x="1139.66" y="211.62" width="29.1" height="43.88"/><rect x="1153.86" y="255.5" width="4.29" height="5.62"/></clipPath><clipPath id="k24"><rect x="1139.66" y="108.06" width="29.1" height="43.88"/><rect x="1153.86" y="151.94" width="4.29" height="5.62"/></clipPath><clipPath id="k25"><rect x="1193.61" y="93.06" width="23.4" height="35.09"/><rect x="1205.42" y="128.15" width="3.45" height="4.91"/></clipPath><clipPath id="k26"><rect x="1139.66" y="4.5" width="29.1" height="43.88"/><rect x="1153.86" y="48.38" width="4.29" height="5.62"/></clipPath><clipPath id="k27"><rect x="1192.98" y="883" width="29.1" height="43.88"/><rect x="1207.18" y="926.88" width="4.29" height="5.62"/></clipPath><clipPath id="k28"><rect x="1552.95" y="883" width="29.1" height="43.88"/><rect x="1567.15" y="926.88" width="4.29" height="5.62"/></clipPath><clipPath id="k29"><rect x="1606.9" y="868.5" width="23.4" height="35.09"/><rect x="1618.7" y="903.59" width="3.45" height="4.91"/></clipPath><clipPath id="k30"><rect x="1912.92" y="883" width="29.1" height="43.88"/><rect x="1927.12" y="926.88" width="4.29" height="5.62"/></clipPath></defs>
</svg></body></html>
